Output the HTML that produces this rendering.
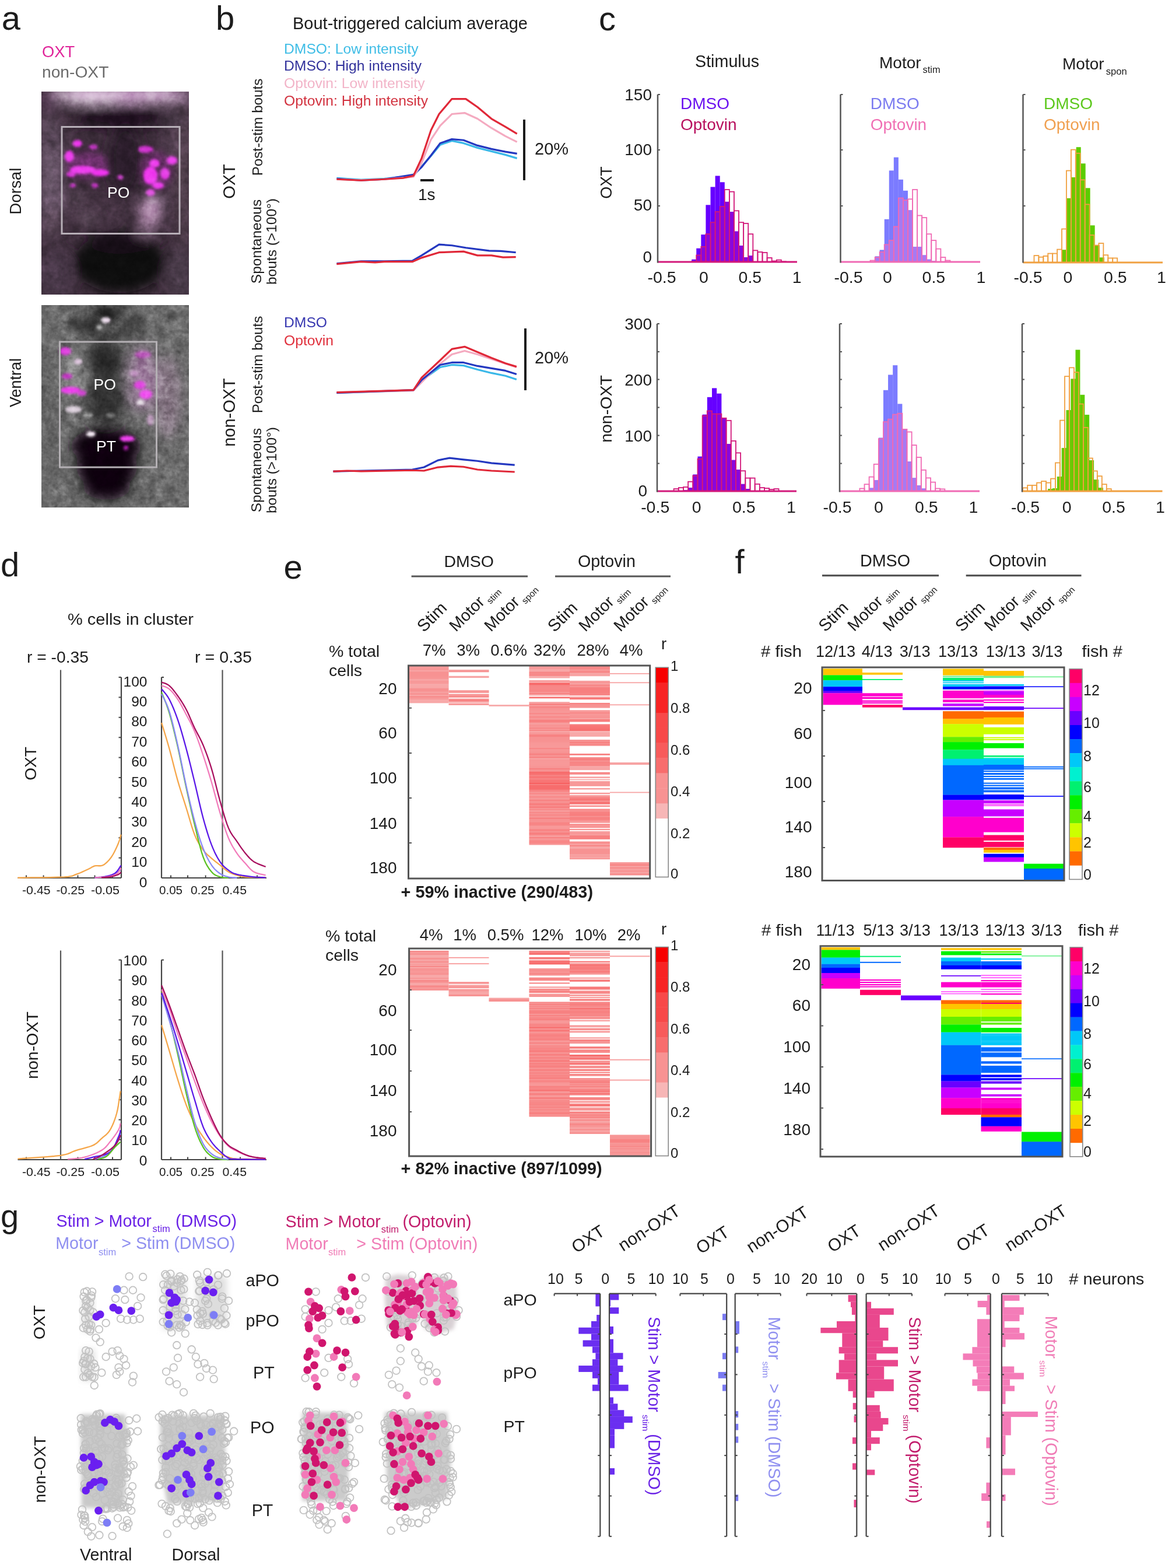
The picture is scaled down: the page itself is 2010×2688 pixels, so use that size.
<!DOCTYPE html>
<html><head><meta charset="utf-8"><title>Figure</title>
<style>
html,body{margin:0;padding:0;background:#fff;}
body{width:2010px;height:2688px;overflow:hidden;}
svg{display:block;position:absolute;left:0;top:0;}
svg{font-family:"Liberation Sans",Arial,Helvetica,sans-serif;fill:#1c1c1c;}
</style></head><body>
<svg width="2010" height="2688" viewBox="0 0 2010 2688">
<rect width="2010" height="2688" fill="#fff"/>
<g>
<defs><filter id="bl3" x="-20%" y="-20%" width="140%" height="140%"><feGaussianBlur stdDeviation="3"/></filter><filter id="bl2" x="-30%" y="-30%" width="160%" height="160%"><feGaussianBlur stdDeviation="2"/></filter><filter id="bl6" x="-30%" y="-30%" width="160%" height="160%"><feGaussianBlur stdDeviation="6"/></filter><filter id="bl10" x="-50%" y="-50%" width="200%" height="200%"><feGaussianBlur stdDeviation="10"/></filter><filter id="noiseA" x="0" y="0" width="100%" height="100%" color-interpolation-filters="sRGB"><feTurbulence type="fractalNoise" baseFrequency="0.18" numOctaves="2" seed="3"/><feColorMatrix type="matrix" values="0.33 0.33 0.33 0 0  0.33 0.33 0.33 0 0  0.33 0.33 0.33 0 0  0 0 0 0 1"/></filter><filter id="mottle" x="0" y="0" width="100%" height="100%" color-interpolation-filters="sRGB"><feTurbulence type="fractalNoise" baseFrequency="0.06" numOctaves="3" seed="8"/><feColorMatrix type="matrix" values="0.33 0.33 0.33 0 0  0.33 0.33 0.33 0 0  0.33 0.33 0.33 0 0  0 0 0 0 1"/></filter><clipPath id="clipA1"><rect x="71" y="157" width="253" height="348"/></clipPath><clipPath id="clipA2"><rect x="71" y="523" width="253" height="347"/></clipPath></defs>
<text x="2.7" y="50.8" font-size="58">a</text>
<text x="72" y="98" font-size="27.3" fill="#e0259a">OXT</text>
<text x="72" y="133" font-size="28.2" fill="#6b6b6b">non-OXT</text>
<text x="35.9" y="327.7" font-size="27.8" text-anchor="middle" transform="rotate(-90 35.9 327.7)">Dorsal</text>
<text x="35.9" y="656" font-size="27" text-anchor="middle" transform="rotate(-90 35.9 656)">Ventral</text>
<g clip-path="url(#clipA1)">
<rect x="71" y="157" width="253" height="348" fill="#3e2e3c" />
<g filter="url(#bl10)">
<ellipse cx="88" cy="300" rx="22" ry="110" fill="#6a566a"/>
<ellipse cx="315" cy="300" rx="14" ry="130" fill="#54424f"/>
<ellipse cx="205" cy="163" rx="125" ry="12" fill="#e2b4e2"/>
<ellipse cx="155" cy="163" rx="55" ry="13" fill="#ffe4ff"/>
<ellipse cx="272" cy="163" rx="40" ry="11" fill="#f4cef4"/>
<ellipse cx="80" cy="172" rx="15" ry="18" fill="#5a3e58"/>
<ellipse cx="205" cy="202" rx="80" ry="18" fill="#1a101a"/>
<ellipse cx="110" cy="205" rx="25" ry="12" fill="#3a2a38"/>
<ellipse cx="300" cy="205" rx="22" ry="12" fill="#4a3a48"/>
<ellipse cx="85" cy="240" rx="12" ry="10" fill="#2a1e2a"/>
<ellipse cx="215" cy="275" rx="30" ry="60" fill="#2a1f29"/>
<ellipse cx="160" cy="365" rx="50" ry="22" fill="#463644"/>
<ellipse cx="150" cy="375" rx="12" ry="8" fill="#6a5868"/>
<ellipse cx="205" cy="450" rx="78" ry="52" fill="#0e080e"/>
<ellipse cx="205" cy="415" rx="55" ry="20" fill="#150c15"/>
<ellipse cx="95" cy="470" rx="30" ry="45" fill="#4a3848"/>
<ellipse cx="310" cy="470" rx="25" ry="45" fill="#4a3a4a"/>
<ellipse cx="258" cy="362" rx="20" ry="26" fill="#b890b4"/>
<ellipse cx="250" cy="395" rx="16" ry="12" fill="#7a6078"/>
<ellipse cx="268" cy="345" rx="10" ry="10" fill="#c8a8c8"/>
<ellipse cx="88" cy="380" rx="14" ry="25" fill="#5e4c5c"/>
<ellipse cx="300" cy="250" rx="14" ry="25" fill="#5e4a5c"/>
<ellipse cx="130" cy="340" rx="12" ry="12" fill="#5a4858"/>
</g>
<g filter="url(#bl6)" opacity="0.45">
<ellipse cx="150" cy="283" rx="36" ry="24" fill="#a030a0"/>
<ellipse cx="268" cy="292" rx="28" ry="32" fill="#a030a0"/>
</g>
<g filter="url(#bl2)">
<ellipse cx="133" cy="246" rx="8" ry="6" fill="#f238f2"/>
<ellipse cx="119" cy="268" rx="8" ry="10" fill="#f040f0"/>
<ellipse cx="160" cy="252" rx="8" ry="4" fill="#c030c0"/>
<ellipse cx="142" cy="291" rx="22" ry="7" fill="#f040f0"/>
<ellipse cx="172" cy="296" rx="15" ry="6" fill="#f030f0"/>
<ellipse cx="122" cy="299" rx="8" ry="5" fill="#d838d8"/>
<ellipse cx="206" cy="304" rx="5" ry="4" fill="#d040d0"/>
<ellipse cx="125" cy="318" rx="5" ry="3" fill="#d030d0"/>
<ellipse cx="163" cy="318" rx="6" ry="4" fill="#c030c0"/>
<ellipse cx="250" cy="256" rx="13" ry="6" fill="#d030d0"/>
<ellipse cx="295" cy="275" rx="9" ry="7" fill="#f040f0"/>
<ellipse cx="265" cy="280" rx="9" ry="7" fill="#f040f0"/>
<ellipse cx="258" cy="301" rx="12" ry="15" fill="#f038f0"/>
<ellipse cx="283" cy="298" rx="8" ry="10" fill="#e840e8"/>
<ellipse cx="271" cy="318" rx="10" ry="6" fill="#f040f0"/>
<ellipse cx="258" cy="330" rx="8" ry="6" fill="#e050e0"/>
</g>
<rect x="71" y="157" width="253" height="348" filter="url(#mottle)" opacity="0.45" style="mix-blend-mode:overlay"/>
<rect x="71" y="157" width="253" height="348" filter="url(#noiseA)" opacity="0.22" style="mix-blend-mode:overlay"/>
</g>
<rect x="106" y="217.5" width="202" height="183" fill="none" stroke="#b8b0b8" stroke-width="3" />
<text x="184" y="339" font-size="26.5" fill="#ffffff">PO</text>
<g clip-path="url(#clipA2)">
<rect x="71" y="523" width="253" height="347" fill="#6c6c6c" />
<g filter="url(#bl10)">
<ellipse cx="288" cy="680" rx="22" ry="70" fill="#8a7a88"/>
<ellipse cx="85" cy="700" rx="14" ry="120" fill="#626262"/>
<ellipse cx="183" cy="536" rx="24" ry="14" fill="#0c0c0c"/>
<ellipse cx="145" cy="556" rx="28" ry="14" fill="#333333"/>
<ellipse cx="228" cy="556" rx="24" ry="14" fill="#383838"/>
<ellipse cx="185" cy="575" rx="40" ry="10" fill="#404040"/>
<ellipse cx="180" cy="620" rx="32" ry="35" fill="#2c2c2c"/>
<ellipse cx="180" cy="690" rx="35" ry="40" fill="#303030"/>
<ellipse cx="182" cy="765" rx="60" ry="32" fill="#0a060a"/>
<ellipse cx="183" cy="800" rx="52" ry="40" fill="#0a060a"/>
<ellipse cx="183" cy="835" rx="40" ry="22" fill="#0a060a"/>
<ellipse cx="125" cy="640" rx="20" ry="40" fill="#8a8a8a"/>
<ellipse cx="245" cy="650" rx="22" ry="55" fill="#a080a0"/>
</g>
<g filter="url(#bl2)">
<ellipse cx="182" cy="549" rx="8" ry="5" fill="#f0e0f0"/>
<ellipse cx="170" cy="561" rx="5" ry="4" fill="#b0b0b0"/>
<ellipse cx="112" cy="602" rx="10" ry="7" fill="#e040e0"/>
<ellipse cx="134" cy="620" rx="7" ry="5" fill="#e0c8e0"/>
<ellipse cx="115" cy="645" rx="9" ry="5" fill="#c030c0"/>
<ellipse cx="121" cy="669" rx="17" ry="6" fill="#f040f0"/>
<ellipse cx="140" cy="674" rx="8" ry="5" fill="#d040d0"/>
<ellipse cx="245" cy="608" rx="14" ry="6" fill="#c060c0"/>
<ellipse cx="240" cy="660" rx="10" ry="7" fill="#e040e0"/>
<ellipse cx="250" cy="676" rx="11" ry="8" fill="#f050f0"/>
<ellipse cx="241" cy="690" rx="7" ry="5" fill="#e8e0e8"/>
<ellipse cx="126" cy="702" rx="14" ry="6" fill="#dcd0dc"/>
<ellipse cx="156" cy="744" rx="8" ry="5" fill="#f8f0f8"/>
<ellipse cx="218" cy="752" rx="13" ry="5" fill="#f040f0"/>
<ellipse cx="216" cy="768" rx="4" ry="4" fill="#c020c0"/>
<ellipse cx="258" cy="720" rx="6" ry="10" fill="#c0a0c0"/>
<ellipse cx="150" cy="712" rx="9" ry="4" fill="#a0a0a0"/>
<ellipse cx="190" cy="712" rx="8" ry="4" fill="#8a8a8a"/>
<ellipse cx="230" cy="640" rx="8" ry="5" fill="#c090c0"/>
</g>
<rect x="71" y="523" width="253" height="347" filter="url(#mottle)" opacity="0.55" style="mix-blend-mode:overlay"/>
<rect x="71" y="523" width="253" height="347" filter="url(#noiseA)" opacity="0.35" style="mix-blend-mode:overlay"/>
</g>
<rect x="102.5" y="586" width="166" height="215" fill="none" stroke="#b4b0b4" stroke-width="3" />
<text x="160.5" y="668" font-size="26.5" fill="#ffffff">PO</text>
<text x="165" y="774" font-size="26.5" fill="#ffffff">PT</text>
</g>
<g>
<text x="370" y="51.4" font-size="58">b</text>
<text x="502" y="50" font-size="29">Bout-triggered calcium average</text>
<text x="487" y="92" font-size="24.7" fill="#3fbde6">DMSO: Low intensity</text>
<text x="487" y="121" font-size="24.7" fill="#33339c">DMSO: High intensity</text>
<text x="487" y="151" font-size="24.7" fill="#f2b4c8">Optovin: Low intensity</text>
<text x="487" y="181" font-size="24.7" fill="#d2323f">Optovin: High intensity</text>
<text x="402.5" y="311" font-size="29" text-anchor="middle" transform="rotate(-90 402.5 311)">OXT</text>
<text x="450" y="218" font-size="24.2" text-anchor="middle" transform="rotate(-90 450 218)">Post-stim bouts</text>
<text x="448" y="414" font-size="24.5" text-anchor="middle" transform="rotate(-90 448 414)">Spontaneous</text>
<text x="474" y="414" font-size="24.5" text-anchor="middle" transform="rotate(-90 474 414)">bouts (&gt;100°)</text>
<text x="402.5" y="707" font-size="29" text-anchor="middle" transform="rotate(-90 402.5 707)">non-OXT</text>
<text x="450" y="625" font-size="24.2" text-anchor="middle" transform="rotate(-90 450 625)">Post-stim bouts</text>
<text x="448" y="806" font-size="24.5" text-anchor="middle" transform="rotate(-90 448 806)">Spontaneous</text>
<text x="474" y="806" font-size="24.5" text-anchor="middle" transform="rotate(-90 474 806)">bouts (&gt;100°)</text>
<text x="487" y="561" font-size="24.7" fill="#3838b0">DMSO</text>
<text x="487" y="592" font-size="24.7" fill="#e0303c">Optovin</text>
<polyline points="577.43,305.27 619.33,308.06 659.23,306.46 709.11,301.28 739.04,267.36 755,248.2 774.96,241.42 794.91,245.41 818.85,253.39 842.79,259.38 866.74,265.36 886.69,271.35" fill="none" stroke="#3ab8e8" stroke-width="3.2" stroke-linejoin="round" />
<polyline points="577.43,306.46 619.33,309.26 659.23,307.26 709.11,299.28 723.08,286.51 739.04,266.56 755,245.41 774.96,238.63 794.91,240.22 818.85,249.4 842.79,255.39 866.74,260.18 886.69,263.37" fill="none" stroke="#2438c0" stroke-width="3.2" stroke-linejoin="round" />
<polyline points="577.43,307.26 619.33,308.86 659.23,307.26 709.11,303.27 723.08,279.33 739.04,239.43 755,215.48 774.96,195.53 796.9,193.54 818.85,203.51 842.79,219.47 866.74,233.44 886.69,243.42" fill="none" stroke="#f4aac0" stroke-width="3.2" stroke-linejoin="round" />
<polyline points="577.43,307.26 619.33,309.26 659.23,307.26 691.16,305.27 709.11,301.28 723.08,271.35 739.04,223.46 753.01,195.53 774.96,169.59 798.9,169.59 818.85,183.56 842.79,203.51 866.74,217.48 886.69,229.45" fill="none" stroke="#e02838" stroke-width="3.2" stroke-linejoin="round" />
<polyline points="577.43,451.88 619.33,447.89 659.23,447.89 707.12,447.09 723.08,437.91 753.01,419.15 774.96,420.75 798.9,424.74 838.8,429.93 858.75,430.33 884.69,432.72" fill="none" stroke="#2438c0" stroke-width="3.2" stroke-linejoin="round" />
<polyline points="577.43,452.67 619.33,448.68 643.27,449.88 659.23,448.68 707.12,448.68 723.08,441.9 753.01,432.72 794.91,431.13 818.85,437.91 842.79,437.91 862.75,441.1 884.69,440.7" fill="none" stroke="#e02838" stroke-width="3.2" stroke-linejoin="round" />
<polyline points="577.43,673.34 709.11,668.95 723.08,652.19 755,629.45 774.96,625.46 794.91,626.66 818.85,633.44 842.79,639.43 866.74,644.21 885.89,650.6" fill="none" stroke="#3ab8e8" stroke-width="3.2" stroke-linejoin="round" />
<polyline points="577.43,672.94 709.11,669.35 723.08,655.39 755,623.46 774.96,607.5 796.9,601.52 818.85,607.5 842.79,615.48 866.74,623.46 885.89,629.45" fill="none" stroke="#f4aac0" stroke-width="3.2" stroke-linejoin="round" />
<polyline points="577.43,673.34 709.11,668.56 723.08,651.4 755,625.46 774.96,621.47 794.91,621.47 818.85,627.45 842.79,631.44 866.74,635.43 885.89,641.42" fill="none" stroke="#2438c0" stroke-width="3.2" stroke-linejoin="round" />
<polyline points="577.43,672.55 709.11,668.56 723.08,647.41 755,617.48 774.96,598.32 796.9,594.33 818.85,603.51 842.79,613.49 866.74,622.67 885.89,628.65" fill="none" stroke="#e02838" stroke-width="3.2" stroke-linejoin="round" />
<polyline points="571.44,808.22 619.33,807.02 707.12,805.03 727.07,801.04 751.01,789.07 770.97,785.08 794.91,787.87 818.85,790.26 842.79,793.85 882.7,797.05" fill="none" stroke="#2438c0" stroke-width="3.2" stroke-linejoin="round" />
<polyline points="571.44,808.22 595.39,807.02 619.33,807.82 707.12,806.23 727.07,807.02 751.01,801.04 772.96,799.04 794.91,800.24 818.85,805.03 842.79,807.02 882.7,809.02" fill="none" stroke="#e02838" stroke-width="3.2" stroke-linejoin="round" />
<line x1="899" y1="205" x2="899" y2="309" stroke="#1c1c1c" stroke-width="4" />
<text x="917" y="265" font-size="29">20%</text>
<line x1="721" y1="309" x2="744" y2="309" stroke="#1c1c1c" stroke-width="4" />
<text x="717" y="343" font-size="28">1s</text>
<line x1="901" y1="563" x2="901" y2="669" stroke="#1c1c1c" stroke-width="4" />
<text x="917" y="623" font-size="29">20%</text>
</g>
<g>
<text x="1027" y="52" font-size="58">c</text>
<text x="1192" y="115" font-size="28.7">Stimulus</text>
<text x="1508" y="117" font-size="28">Motor</text>
<text x="1582.5" y="125" font-size="16.4">stim</text>
<text x="1822" y="119" font-size="28">Motor</text>
<text x="1896.7" y="128" font-size="16.6">spon</text>
<text x="1048.5" y="313" font-size="27" text-anchor="middle" transform="rotate(-90 1048.5 313)">OXT</text>
<text x="1048.5" y="701" font-size="28.5" text-anchor="middle" transform="rotate(-90 1048.5 701)">non-OXT</text>
<text x="1167" y="187" font-size="28" fill="#6a10f0">DMSO</text>
<text x="1167" y="223" font-size="28" fill="#b8105e">Optovin</text>
<text x="1492.7" y="187" font-size="28" fill="#7b7bf0">DMSO</text>
<text x="1492.7" y="223" font-size="28" fill="#f070b4">Optovin</text>
<text x="1790" y="187" font-size="28" fill="#5cc81c">DMSO</text>
<text x="1790" y="223" font-size="28" fill="#f0a050">Optovin</text>
<rect x="1186.16" y="444.73" width="8.09" height="4.27" fill="#6600ff" />
<rect x="1194.25" y="425.69" width="8.09" height="23.31" fill="#6600ff" />
<rect x="1202.34" y="402.11" width="8.09" height="46.89" fill="#6600ff" />
<rect x="1210.43" y="351.32" width="8.09" height="97.68" fill="#6600ff" />
<rect x="1218.52" y="320.48" width="8.09" height="128.52" fill="#6600ff" />
<rect x="1226.61" y="301.44" width="8.09" height="147.56" fill="#6600ff" />
<rect x="1234.7" y="312.32" width="8.09" height="136.68" fill="#6600ff" />
<rect x="1242.79" y="345.88" width="8.09" height="103.12" fill="#6600ff" />
<rect x="1250.88" y="363.11" width="8.09" height="85.89" fill="#6600ff" />
<rect x="1258.97" y="396.67" width="8.09" height="52.33" fill="#6600ff" />
<rect x="1267.06" y="421.15" width="8.09" height="27.85" fill="#6600ff" />
<rect x="1275.15" y="441.11" width="8.09" height="7.89" fill="#6600ff" />
<rect x="1283.24" y="438.39" width="8.09" height="10.61" fill="#6600ff" />
<rect x="1186.16" y="448.36" width="8.09" height="0.64" fill="#8a06dc" />
<rect x="1194.25" y="437.48" width="8.09" height="11.52" fill="#8a06dc" />
<rect x="1202.34" y="422.97" width="8.09" height="26.03" fill="#8a06dc" />
<rect x="1210.43" y="401.2" width="8.09" height="47.8" fill="#8a06dc" />
<rect x="1218.52" y="381.25" width="8.09" height="67.75" fill="#8a06dc" />
<rect x="1226.61" y="363.11" width="8.09" height="85.89" fill="#8a06dc" />
<rect x="1234.7" y="354.04" width="8.09" height="94.96" fill="#8a06dc" />
<rect x="1242.79" y="345.88" width="8.09" height="103.12" fill="#8a06dc" />
<rect x="1250.88" y="363.11" width="8.09" height="85.89" fill="#8a06dc" />
<rect x="1258.97" y="396.67" width="8.09" height="52.33" fill="#8a06dc" />
<rect x="1267.06" y="421.15" width="8.09" height="27.85" fill="#8a06dc" />
<rect x="1275.15" y="441.11" width="8.09" height="7.89" fill="#8a06dc" />
<rect x="1283.24" y="438.39" width="8.09" height="10.61" fill="#8a06dc" />
<rect x="1186.16" y="448.36" width="8.09" height="0.64" fill="none" stroke="#d2187a" stroke-width="1.8" />
<rect x="1194.25" y="437.48" width="8.09" height="11.52" fill="none" stroke="#d2187a" stroke-width="1.8" />
<rect x="1202.34" y="422.97" width="8.09" height="26.03" fill="none" stroke="#d2187a" stroke-width="1.8" />
<rect x="1210.43" y="401.2" width="8.09" height="47.8" fill="none" stroke="#d2187a" stroke-width="1.8" />
<rect x="1218.52" y="381.25" width="8.09" height="67.75" fill="none" stroke="#d2187a" stroke-width="1.8" />
<rect x="1226.61" y="363.11" width="8.09" height="85.89" fill="none" stroke="#d2187a" stroke-width="1.8" />
<rect x="1234.7" y="354.04" width="8.09" height="94.96" fill="none" stroke="#d2187a" stroke-width="1.8" />
<rect x="1242.79" y="325.02" width="8.09" height="123.98" fill="none" stroke="#d2187a" stroke-width="1.8" />
<rect x="1250.88" y="328.65" width="8.09" height="120.35" fill="none" stroke="#d2187a" stroke-width="1.8" />
<rect x="1258.97" y="361.3" width="8.09" height="87.7" fill="none" stroke="#d2187a" stroke-width="1.8" />
<rect x="1267.06" y="381.25" width="8.09" height="67.75" fill="none" stroke="#d2187a" stroke-width="1.8" />
<rect x="1275.15" y="383.06" width="8.09" height="65.94" fill="none" stroke="#d2187a" stroke-width="1.8" />
<rect x="1283.24" y="401.2" width="8.09" height="47.8" fill="none" stroke="#d2187a" stroke-width="1.8" />
<rect x="1291.33" y="429.32" width="8.09" height="19.68" fill="none" stroke="#d2187a" stroke-width="1.8" />
<rect x="1299.42" y="432.04" width="8.09" height="16.96" fill="none" stroke="#d2187a" stroke-width="1.8" />
<rect x="1307.51" y="432.94" width="8.09" height="16.06" fill="none" stroke="#d2187a" stroke-width="1.8" />
<rect x="1315.6" y="442.01" width="8.09" height="6.99" fill="none" stroke="#d2187a" stroke-width="1.8" />
<rect x="1323.69" y="447.46" width="8.09" height="1.54" fill="none" stroke="#d2187a" stroke-width="1.8" />
<rect x="1331.78" y="445.64" width="8.09" height="3.36" fill="none" stroke="#d2187a" stroke-width="1.8" />
<rect x="1339.87" y="448.36" width="8.09" height="0.64" fill="none" stroke="#d2187a" stroke-width="1.8" />
<line x1="1127.5" y1="449" x2="1367" y2="449" stroke="#d2187a" stroke-width="3" />
<rect x="1492.56" y="448.36" width="8.05" height="0.64" fill="#7b7bff" />
<rect x="1500.61" y="439.29" width="8.05" height="9.71" fill="#7b7bff" />
<rect x="1508.66" y="428.41" width="8.05" height="20.59" fill="#7b7bff" />
<rect x="1516.72" y="375.81" width="8.05" height="73.19" fill="#7b7bff" />
<rect x="1524.77" y="292.37" width="8.05" height="156.63" fill="#7b7bff" />
<rect x="1532.82" y="269.69" width="8.05" height="179.31" fill="#7b7bff" />
<rect x="1540.88" y="307.79" width="8.05" height="141.21" fill="#7b7bff" />
<rect x="1548.93" y="326.83" width="8.05" height="122.17" fill="#7b7bff" />
<rect x="1556.99" y="360.39" width="8.05" height="88.61" fill="#7b7bff" />
<rect x="1565.04" y="422.97" width="8.05" height="26.03" fill="#7b7bff" />
<rect x="1573.09" y="422.97" width="8.05" height="26.03" fill="#7b7bff" />
<rect x="1581.15" y="437.48" width="8.05" height="11.52" fill="#7b7bff" />
<rect x="1589.2" y="444.73" width="8.05" height="4.27" fill="#7b7bff" />
<rect x="1597.25" y="447.46" width="8.05" height="1.54" fill="#7b7bff" />
<rect x="1492.56" y="448.36" width="8.05" height="0.64" fill="#a67af2" />
<rect x="1500.61" y="441.11" width="8.05" height="7.89" fill="#a67af2" />
<rect x="1508.66" y="432.04" width="8.05" height="16.96" fill="#a67af2" />
<rect x="1516.72" y="419.34" width="8.05" height="29.66" fill="#a67af2" />
<rect x="1524.77" y="412.08" width="8.05" height="36.92" fill="#a67af2" />
<rect x="1532.82" y="388.5" width="8.05" height="60.5" fill="#a67af2" />
<rect x="1540.88" y="339.53" width="8.05" height="109.47" fill="#a67af2" />
<rect x="1548.93" y="343.16" width="8.05" height="105.84" fill="#a67af2" />
<rect x="1556.99" y="360.39" width="8.05" height="88.61" fill="#a67af2" />
<rect x="1565.04" y="422.97" width="8.05" height="26.03" fill="#a67af2" />
<rect x="1573.09" y="422.97" width="8.05" height="26.03" fill="#a67af2" />
<rect x="1581.15" y="437.48" width="8.05" height="11.52" fill="#a67af2" />
<rect x="1589.2" y="444.73" width="8.05" height="4.27" fill="#a67af2" />
<rect x="1597.25" y="447.46" width="8.05" height="1.54" fill="#a67af2" />
<rect x="1492.56" y="446.55" width="8.05" height="2.45" fill="none" stroke="#f06ab4" stroke-width="1.8" />
<rect x="1500.61" y="441.11" width="8.05" height="7.89" fill="none" stroke="#f06ab4" stroke-width="1.8" />
<rect x="1508.66" y="432.04" width="8.05" height="16.96" fill="none" stroke="#f06ab4" stroke-width="1.8" />
<rect x="1516.72" y="419.34" width="8.05" height="29.66" fill="none" stroke="#f06ab4" stroke-width="1.8" />
<rect x="1524.77" y="412.08" width="8.05" height="36.92" fill="none" stroke="#f06ab4" stroke-width="1.8" />
<rect x="1532.82" y="388.5" width="8.05" height="60.5" fill="none" stroke="#f06ab4" stroke-width="1.8" />
<rect x="1540.88" y="339.53" width="8.05" height="109.47" fill="none" stroke="#f06ab4" stroke-width="1.8" />
<rect x="1548.93" y="343.16" width="8.05" height="105.84" fill="none" stroke="#f06ab4" stroke-width="1.8" />
<rect x="1556.99" y="341.34" width="8.05" height="107.66" fill="none" stroke="#f06ab4" stroke-width="1.8" />
<rect x="1565.04" y="325.02" width="8.05" height="123.98" fill="none" stroke="#f06ab4" stroke-width="1.8" />
<rect x="1573.09" y="369.46" width="8.05" height="79.54" fill="none" stroke="#f06ab4" stroke-width="1.8" />
<rect x="1581.15" y="373.09" width="8.05" height="75.91" fill="none" stroke="#f06ab4" stroke-width="1.8" />
<rect x="1589.2" y="401.2" width="8.05" height="47.8" fill="none" stroke="#f06ab4" stroke-width="1.8" />
<rect x="1597.25" y="412.08" width="8.05" height="36.92" fill="none" stroke="#f06ab4" stroke-width="1.8" />
<rect x="1605.31" y="426.6" width="8.05" height="22.4" fill="none" stroke="#f06ab4" stroke-width="1.8" />
<rect x="1613.36" y="441.11" width="8.05" height="7.89" fill="none" stroke="#f06ab4" stroke-width="1.8" />
<rect x="1621.41" y="446.55" width="8.05" height="2.45" fill="none" stroke="#f06ab4" stroke-width="1.8" />
<line x1="1441.5" y1="449" x2="1681" y2="449" stroke="#f06ab4" stroke-width="3" />
<rect x="1813.81" y="449.49" width="7.98" height="0.51" fill="#5ccc00" />
<rect x="1821.79" y="428.44" width="7.98" height="21.56" fill="#5ccc00" />
<rect x="1829.77" y="339.89" width="7.98" height="110.11" fill="#5ccc00" />
<rect x="1837.75" y="303.95" width="7.98" height="146.05" fill="#5ccc00" />
<rect x="1845.72" y="252.22" width="7.98" height="197.78" fill="#5ccc00" />
<rect x="1853.7" y="280.28" width="7.98" height="169.72" fill="#5ccc00" />
<rect x="1861.68" y="322.36" width="7.98" height="127.64" fill="#5ccc00" />
<rect x="1869.66" y="386.36" width="7.98" height="63.64" fill="#5ccc00" />
<rect x="1877.64" y="420.55" width="7.98" height="29.45" fill="#5ccc00" />
<rect x="1885.61" y="441.6" width="7.98" height="8.4" fill="#5ccc00" />
<rect x="1813.81" y="449.49" width="7.22" height="0.51" fill="#6cc800" />
<rect x="1821.03" y="449.49" width="0.75" height="0.51" fill="#6cc800" />
<rect x="1821.79" y="428.44" width="7.17" height="21.56" fill="#6cc800" />
<rect x="1828.96" y="428.44" width="0.81" height="21.56" fill="#6cc800" />
<rect x="1829.77" y="339.89" width="7.12" height="110.11" fill="#6cc800" />
<rect x="1836.89" y="339.89" width="0.86" height="110.11" fill="#6cc800" />
<rect x="1837.75" y="303.95" width="7.07" height="146.05" fill="#6cc800" />
<rect x="1844.81" y="303.95" width="0.91" height="146.05" fill="#6cc800" />
<rect x="1845.72" y="262.74" width="7.01" height="187.26" fill="#6cc800" />
<rect x="1852.74" y="308.33" width="0.96" height="141.67" fill="#6cc800" />
<rect x="1853.7" y="308.33" width="6.96" height="141.67" fill="#6cc800" />
<rect x="1860.66" y="350.42" width="1.02" height="99.58" fill="#6cc800" />
<rect x="1861.68" y="350.42" width="6.91" height="99.58" fill="#6cc800" />
<rect x="1868.59" y="403.02" width="1.07" height="46.98" fill="#6cc800" />
<rect x="1869.66" y="403.02" width="6.86" height="46.98" fill="#6cc800" />
<rect x="1876.51" y="420.55" width="1.12" height="29.45" fill="#6cc800" />
<rect x="1877.64" y="420.55" width="6.8" height="29.45" fill="#6cc800" />
<rect x="1884.44" y="420.55" width="1.17" height="29.45" fill="#6cc800" />
<rect x="1885.61" y="441.6" width="6.75" height="8.4" fill="#6cc800" />
<rect x="1892.37" y="441.6" width="1.23" height="8.4" fill="#6cc800" />
<rect x="1773.48" y="438.09" width="7.93" height="11.91" fill="none" stroke="#f0a040" stroke-width="1.8" />
<rect x="1781.41" y="440.72" width="7.93" height="9.28" fill="none" stroke="#f0a040" stroke-width="1.8" />
<rect x="1789.33" y="438.97" width="7.93" height="11.03" fill="none" stroke="#f0a040" stroke-width="1.8" />
<rect x="1797.26" y="434.58" width="7.93" height="15.42" fill="none" stroke="#f0a040" stroke-width="1.8" />
<rect x="1805.18" y="434.58" width="7.93" height="15.42" fill="none" stroke="#f0a040" stroke-width="1.8" />
<rect x="1813.11" y="427.57" width="7.93" height="22.43" fill="none" stroke="#f0a040" stroke-width="1.8" />
<rect x="1821.03" y="392.5" width="7.93" height="57.5" fill="none" stroke="#f0a040" stroke-width="1.8" />
<rect x="1828.96" y="292.55" width="7.93" height="157.45" fill="none" stroke="#f0a040" stroke-width="1.8" />
<rect x="1836.89" y="256.61" width="7.93" height="193.39" fill="none" stroke="#f0a040" stroke-width="1.8" />
<rect x="1844.81" y="262.74" width="7.93" height="187.26" fill="none" stroke="#f0a040" stroke-width="1.8" />
<rect x="1852.74" y="308.33" width="7.93" height="141.67" fill="none" stroke="#f0a040" stroke-width="1.8" />
<rect x="1860.66" y="350.42" width="7.93" height="99.58" fill="none" stroke="#f0a040" stroke-width="1.8" />
<rect x="1868.59" y="403.02" width="7.93" height="46.98" fill="none" stroke="#f0a040" stroke-width="1.8" />
<rect x="1876.51" y="420.55" width="7.93" height="29.45" fill="none" stroke="#f0a040" stroke-width="1.8" />
<rect x="1884.44" y="417.05" width="7.93" height="32.95" fill="none" stroke="#f0a040" stroke-width="1.8" />
<rect x="1892.37" y="437.21" width="7.93" height="12.79" fill="none" stroke="#f0a040" stroke-width="1.8" />
<rect x="1900.29" y="442.47" width="7.93" height="7.53" fill="none" stroke="#f0a040" stroke-width="1.8" />
<rect x="1908.22" y="442.47" width="7.93" height="7.53" fill="none" stroke="#f0a040" stroke-width="1.8" />
<line x1="1754.5" y1="450" x2="1994" y2="450" stroke="#f0a040" stroke-width="3" />
<rect x="1163.76" y="841.13" width="8.18" height="0.87" fill="#6600ff" />
<rect x="1171.94" y="840.1" width="8.18" height="1.9" fill="#6600ff" />
<rect x="1180.12" y="835.99" width="8.18" height="6.01" fill="#6600ff" />
<rect x="1188.3" y="813.38" width="8.18" height="28.62" fill="#6600ff" />
<rect x="1196.49" y="782.55" width="8.18" height="59.45" fill="#6600ff" />
<rect x="1204.67" y="710.61" width="8.18" height="131.39" fill="#6600ff" />
<rect x="1212.85" y="680.8" width="8.18" height="161.2" fill="#6600ff" />
<rect x="1221.03" y="665.39" width="8.18" height="176.61" fill="#6600ff" />
<rect x="1229.21" y="674.64" width="8.18" height="167.36" fill="#6600ff" />
<rect x="1237.39" y="716.77" width="8.18" height="125.23" fill="#6600ff" />
<rect x="1245.57" y="760.97" width="8.18" height="81.03" fill="#6600ff" />
<rect x="1253.75" y="788.72" width="8.18" height="53.28" fill="#6600ff" />
<rect x="1261.93" y="805.16" width="8.18" height="36.84" fill="#6600ff" />
<rect x="1270.11" y="829.83" width="8.18" height="12.17" fill="#6600ff" />
<rect x="1278.29" y="838.05" width="8.18" height="3.95" fill="#6600ff" />
<rect x="1286.47" y="841.13" width="8.18" height="0.87" fill="#6600ff" />
<rect x="1163.76" y="841.13" width="8.18" height="0.87" fill="#8a06dc" />
<rect x="1171.94" y="840.1" width="8.18" height="1.9" fill="#8a06dc" />
<rect x="1180.12" y="835.99" width="8.18" height="6.01" fill="#8a06dc" />
<rect x="1188.3" y="815.44" width="8.18" height="26.56" fill="#8a06dc" />
<rect x="1196.49" y="786.66" width="8.18" height="55.34" fill="#8a06dc" />
<rect x="1204.67" y="712.66" width="8.18" height="129.34" fill="#8a06dc" />
<rect x="1212.85" y="704.44" width="8.18" height="137.56" fill="#8a06dc" />
<rect x="1221.03" y="709.58" width="8.18" height="132.42" fill="#8a06dc" />
<rect x="1229.21" y="709.58" width="8.18" height="132.42" fill="#8a06dc" />
<rect x="1237.39" y="716.77" width="8.18" height="125.23" fill="#8a06dc" />
<rect x="1245.57" y="760.97" width="8.18" height="81.03" fill="#8a06dc" />
<rect x="1253.75" y="788.72" width="8.18" height="53.28" fill="#8a06dc" />
<rect x="1261.93" y="805.16" width="8.18" height="36.84" fill="#8a06dc" />
<rect x="1270.11" y="829.83" width="8.18" height="12.17" fill="#8a06dc" />
<rect x="1278.29" y="838.05" width="8.18" height="3.95" fill="#8a06dc" />
<rect x="1286.47" y="841.13" width="8.18" height="0.87" fill="#8a06dc" />
<rect x="1155.58" y="838.05" width="8.18" height="3.95" fill="none" stroke="#d2187a" stroke-width="1.8" />
<rect x="1163.76" y="835.99" width="8.18" height="6.01" fill="none" stroke="#d2187a" stroke-width="1.8" />
<rect x="1171.94" y="834.96" width="8.18" height="7.04" fill="none" stroke="#d2187a" stroke-width="1.8" />
<rect x="1180.12" y="825.71" width="8.18" height="16.29" fill="none" stroke="#d2187a" stroke-width="1.8" />
<rect x="1188.3" y="815.44" width="8.18" height="26.56" fill="none" stroke="#d2187a" stroke-width="1.8" />
<rect x="1196.49" y="786.66" width="8.18" height="55.34" fill="none" stroke="#d2187a" stroke-width="1.8" />
<rect x="1204.67" y="712.66" width="8.18" height="129.34" fill="none" stroke="#d2187a" stroke-width="1.8" />
<rect x="1212.85" y="704.44" width="8.18" height="137.56" fill="none" stroke="#d2187a" stroke-width="1.8" />
<rect x="1221.03" y="709.58" width="8.18" height="132.42" fill="none" stroke="#d2187a" stroke-width="1.8" />
<rect x="1229.21" y="709.58" width="8.18" height="132.42" fill="none" stroke="#d2187a" stroke-width="1.8" />
<rect x="1237.39" y="716.77" width="8.18" height="125.23" fill="none" stroke="#d2187a" stroke-width="1.8" />
<rect x="1245.57" y="720.88" width="8.18" height="121.12" fill="none" stroke="#d2187a" stroke-width="1.8" />
<rect x="1253.75" y="755.83" width="8.18" height="86.17" fill="none" stroke="#d2187a" stroke-width="1.8" />
<rect x="1261.93" y="776.38" width="8.18" height="65.62" fill="none" stroke="#d2187a" stroke-width="1.8" />
<rect x="1270.11" y="807.21" width="8.18" height="34.79" fill="none" stroke="#d2187a" stroke-width="1.8" />
<rect x="1278.29" y="819.55" width="8.18" height="22.45" fill="none" stroke="#d2187a" stroke-width="1.8" />
<rect x="1286.47" y="819.55" width="8.18" height="22.45" fill="none" stroke="#d2187a" stroke-width="1.8" />
<rect x="1294.66" y="829.83" width="8.18" height="12.17" fill="none" stroke="#d2187a" stroke-width="1.8" />
<rect x="1302.84" y="835.99" width="8.18" height="6.01" fill="none" stroke="#d2187a" stroke-width="1.8" />
<rect x="1311.02" y="837.02" width="8.18" height="4.98" fill="none" stroke="#d2187a" stroke-width="1.8" />
<rect x="1319.2" y="839.08" width="8.18" height="2.92" fill="none" stroke="#d2187a" stroke-width="1.8" />
<rect x="1327.38" y="838.05" width="8.18" height="3.95" fill="none" stroke="#d2187a" stroke-width="1.8" />
<line x1="1127" y1="842" x2="1366" y2="842" stroke="#d2187a" stroke-width="3" />
<rect x="1482.52" y="841.11" width="8.11" height="0.89" fill="#7b7bff" />
<rect x="1490.63" y="836.57" width="8.11" height="5.43" fill="#7b7bff" />
<rect x="1498.74" y="822.97" width="8.11" height="19.03" fill="#7b7bff" />
<rect x="1506.85" y="750.41" width="8.11" height="91.59" fill="#7b7bff" />
<rect x="1514.96" y="668.79" width="8.11" height="173.21" fill="#7b7bff" />
<rect x="1523.07" y="642.49" width="8.11" height="199.51" fill="#7b7bff" />
<rect x="1531.17" y="626.16" width="8.11" height="215.84" fill="#7b7bff" />
<rect x="1539.28" y="692.37" width="8.11" height="149.63" fill="#7b7bff" />
<rect x="1547.39" y="735.9" width="8.11" height="106.1" fill="#7b7bff" />
<rect x="1555.5" y="791.22" width="8.11" height="50.78" fill="#7b7bff" />
<rect x="1563.61" y="819.34" width="8.11" height="22.66" fill="#7b7bff" />
<rect x="1571.71" y="832.04" width="8.11" height="9.96" fill="#7b7bff" />
<rect x="1579.82" y="837.48" width="8.11" height="4.52" fill="#7b7bff" />
<rect x="1587.93" y="841.11" width="8.11" height="0.89" fill="#7b7bff" />
<rect x="1482.52" y="841.11" width="8.11" height="0.89" fill="#a67af2" />
<rect x="1490.63" y="836.57" width="8.11" height="5.43" fill="#a67af2" />
<rect x="1498.74" y="822.97" width="8.11" height="19.03" fill="#a67af2" />
<rect x="1506.85" y="752.23" width="8.11" height="89.77" fill="#a67af2" />
<rect x="1514.96" y="723.2" width="8.11" height="118.8" fill="#a67af2" />
<rect x="1523.07" y="718.67" width="8.11" height="123.33" fill="#a67af2" />
<rect x="1531.17" y="710.51" width="8.11" height="131.49" fill="#a67af2" />
<rect x="1539.28" y="708.69" width="8.11" height="133.31" fill="#a67af2" />
<rect x="1547.39" y="735.9" width="8.11" height="106.1" fill="#a67af2" />
<rect x="1555.5" y="791.22" width="8.11" height="50.78" fill="#a67af2" />
<rect x="1563.61" y="819.34" width="8.11" height="22.66" fill="#a67af2" />
<rect x="1571.71" y="832.04" width="8.11" height="9.96" fill="#a67af2" />
<rect x="1579.82" y="837.48" width="8.11" height="4.52" fill="#a67af2" />
<rect x="1587.93" y="841.11" width="8.11" height="0.89" fill="#a67af2" />
<rect x="1474.42" y="837.48" width="8.11" height="4.52" fill="none" stroke="#f06ab4" stroke-width="1.8" />
<rect x="1482.52" y="830.22" width="8.11" height="11.78" fill="none" stroke="#f06ab4" stroke-width="1.8" />
<rect x="1490.63" y="817.53" width="8.11" height="24.47" fill="none" stroke="#f06ab4" stroke-width="1.8" />
<rect x="1498.74" y="795.76" width="8.11" height="46.24" fill="none" stroke="#f06ab4" stroke-width="1.8" />
<rect x="1506.85" y="752.23" width="8.11" height="89.77" fill="none" stroke="#f06ab4" stroke-width="1.8" />
<rect x="1514.96" y="723.2" width="8.11" height="118.8" fill="none" stroke="#f06ab4" stroke-width="1.8" />
<rect x="1523.07" y="718.67" width="8.11" height="123.33" fill="none" stroke="#f06ab4" stroke-width="1.8" />
<rect x="1531.17" y="710.51" width="8.11" height="131.49" fill="none" stroke="#f06ab4" stroke-width="1.8" />
<rect x="1539.28" y="708.69" width="8.11" height="133.31" fill="none" stroke="#f06ab4" stroke-width="1.8" />
<rect x="1547.39" y="735.9" width="8.11" height="106.1" fill="none" stroke="#f06ab4" stroke-width="1.8" />
<rect x="1555.5" y="740.44" width="8.11" height="101.56" fill="none" stroke="#f06ab4" stroke-width="1.8" />
<rect x="1563.61" y="763.11" width="8.11" height="78.89" fill="none" stroke="#f06ab4" stroke-width="1.8" />
<rect x="1571.71" y="783.97" width="8.11" height="58.03" fill="none" stroke="#f06ab4" stroke-width="1.8" />
<rect x="1579.82" y="805.74" width="8.11" height="36.26" fill="none" stroke="#f06ab4" stroke-width="1.8" />
<rect x="1587.93" y="819.34" width="8.11" height="22.66" fill="none" stroke="#f06ab4" stroke-width="1.8" />
<rect x="1596.04" y="826.6" width="8.11" height="15.4" fill="none" stroke="#f06ab4" stroke-width="1.8" />
<rect x="1604.15" y="837.48" width="8.11" height="4.52" fill="none" stroke="#f06ab4" stroke-width="1.8" />
<rect x="1612.25" y="838.39" width="8.11" height="3.61" fill="none" stroke="#f06ab4" stroke-width="1.8" />
<line x1="1440" y1="842" x2="1680" y2="842" stroke="#f06ab4" stroke-width="3" />
<rect x="1797.15" y="838.09" width="7.89" height="3.91" fill="#5ccc00" />
<rect x="1805.04" y="837.21" width="7.89" height="4.79" fill="#5ccc00" />
<rect x="1812.93" y="817.05" width="7.89" height="24.95" fill="#5ccc00" />
<rect x="1820.82" y="767.95" width="7.89" height="74.05" fill="#5ccc00" />
<rect x="1828.71" y="703.07" width="7.89" height="138.93" fill="#5ccc00" />
<rect x="1836.61" y="649.59" width="7.89" height="192.41" fill="#5ccc00" />
<rect x="1844.5" y="599.62" width="7.89" height="242.38" fill="#5ccc00" />
<rect x="1852.39" y="676.77" width="7.89" height="165.23" fill="#5ccc00" />
<rect x="1860.28" y="710.96" width="7.89" height="131.04" fill="#5ccc00" />
<rect x="1868.17" y="788.99" width="7.89" height="53.01" fill="#5ccc00" />
<rect x="1876.06" y="822.31" width="7.89" height="19.69" fill="#5ccc00" />
<rect x="1883.95" y="836.34" width="7.89" height="5.66" fill="#5ccc00" />
<rect x="1797.15" y="838.09" width="4.91" height="3.91" fill="#6cc800" />
<rect x="1802.06" y="838.09" width="2.98" height="3.91" fill="#6cc800" />
<rect x="1805.04" y="837.21" width="5" height="4.79" fill="#6cc800" />
<rect x="1810.04" y="837.21" width="2.89" height="4.79" fill="#6cc800" />
<rect x="1812.93" y="817.05" width="5.09" height="24.95" fill="#6cc800" />
<rect x="1818.02" y="817.05" width="2.81" height="24.95" fill="#6cc800" />
<rect x="1820.82" y="767.95" width="5.17" height="74.05" fill="#6cc800" />
<rect x="1826" y="767.95" width="2.72" height="74.05" fill="#6cc800" />
<rect x="1828.71" y="703.07" width="5.26" height="138.93" fill="#6cc800" />
<rect x="1833.98" y="703.07" width="2.63" height="138.93" fill="#6cc800" />
<rect x="1836.61" y="649.59" width="5.35" height="192.41" fill="#6cc800" />
<rect x="1841.95" y="649.59" width="2.54" height="192.41" fill="#6cc800" />
<rect x="1844.5" y="638.19" width="5.44" height="203.81" fill="#6cc800" />
<rect x="1849.93" y="692.55" width="2.45" height="149.45" fill="#6cc800" />
<rect x="1852.39" y="692.55" width="5.52" height="149.45" fill="#6cc800" />
<rect x="1857.91" y="732.88" width="2.37" height="109.12" fill="#6cc800" />
<rect x="1860.28" y="732.88" width="5.61" height="109.12" fill="#6cc800" />
<rect x="1865.89" y="785.48" width="2.28" height="56.52" fill="#6cc800" />
<rect x="1868.17" y="788.99" width="5.7" height="53.01" fill="#6cc800" />
<rect x="1873.87" y="807.4" width="2.19" height="34.6" fill="#6cc800" />
<rect x="1876.06" y="822.31" width="5.79" height="19.69" fill="#6cc800" />
<rect x="1881.84" y="822.31" width="2.1" height="19.69" fill="#6cc800" />
<rect x="1883.95" y="836.34" width="5.87" height="5.66" fill="#6cc800" />
<rect x="1889.82" y="836.34" width="2.02" height="5.66" fill="#6cc800" />
<rect x="1754.19" y="836.34" width="7.98" height="5.66" fill="none" stroke="#f0a040" stroke-width="1.8" />
<rect x="1762.17" y="831.95" width="7.98" height="10.05" fill="none" stroke="#f0a040" stroke-width="1.8" />
<rect x="1770.15" y="831.95" width="7.98" height="10.05" fill="none" stroke="#f0a040" stroke-width="1.8" />
<rect x="1778.13" y="827.57" width="7.98" height="14.43" fill="none" stroke="#f0a040" stroke-width="1.8" />
<rect x="1786.11" y="824.94" width="7.98" height="17.06" fill="none" stroke="#f0a040" stroke-width="1.8" />
<rect x="1794.08" y="827.57" width="7.98" height="14.43" fill="none" stroke="#f0a040" stroke-width="1.8" />
<rect x="1802.06" y="820.55" width="7.98" height="21.45" fill="none" stroke="#f0a040" stroke-width="1.8" />
<rect x="1810.04" y="793.38" width="7.98" height="48.62" fill="none" stroke="#f0a040" stroke-width="1.8" />
<rect x="1818.02" y="720.61" width="7.98" height="121.39" fill="none" stroke="#f0a040" stroke-width="1.8" />
<rect x="1826" y="645.21" width="7.98" height="196.79" fill="none" stroke="#f0a040" stroke-width="1.8" />
<rect x="1833.98" y="630.3" width="7.98" height="211.7" fill="none" stroke="#f0a040" stroke-width="1.8" />
<rect x="1841.95" y="638.19" width="7.98" height="203.81" fill="none" stroke="#f0a040" stroke-width="1.8" />
<rect x="1849.93" y="692.55" width="7.98" height="149.45" fill="none" stroke="#f0a040" stroke-width="1.8" />
<rect x="1857.91" y="732.88" width="7.98" height="109.12" fill="none" stroke="#f0a040" stroke-width="1.8" />
<rect x="1865.89" y="785.48" width="7.98" height="56.52" fill="none" stroke="#f0a040" stroke-width="1.8" />
<rect x="1873.87" y="807.4" width="7.98" height="34.6" fill="none" stroke="#f0a040" stroke-width="1.8" />
<rect x="1881.84" y="816.17" width="7.98" height="25.83" fill="none" stroke="#f0a040" stroke-width="1.8" />
<rect x="1889.82" y="830.2" width="7.98" height="11.8" fill="none" stroke="#f0a040" stroke-width="1.8" />
<rect x="1897.8" y="838.09" width="7.98" height="3.91" fill="none" stroke="#f0a040" stroke-width="1.8" />
<line x1="1753" y1="842" x2="1993.5" y2="842" stroke="#f0a040" stroke-width="3" />
<line x1="1128" y1="162" x2="1128" y2="450.5" stroke="#555" stroke-width="2.5" />
<line x1="1128" y1="162" x2="1132" y2="162" stroke="#555" stroke-width="2" />
<line x1="1128" y1="257" x2="1132" y2="257" stroke="#555" stroke-width="2" />
<line x1="1128" y1="353" x2="1132" y2="353" stroke="#555" stroke-width="2" />
<line x1="1441.5" y1="162" x2="1441.5" y2="450.5" stroke="#555" stroke-width="2.5" />
<line x1="1441.5" y1="162" x2="1445.5" y2="162" stroke="#555" stroke-width="2" />
<line x1="1441.5" y1="257" x2="1445.5" y2="257" stroke="#555" stroke-width="2" />
<line x1="1441.5" y1="353" x2="1445.5" y2="353" stroke="#555" stroke-width="2" />
<line x1="1754.5" y1="162" x2="1754.5" y2="450.5" stroke="#555" stroke-width="2.5" />
<line x1="1754.5" y1="162" x2="1758.5" y2="162" stroke="#555" stroke-width="2" />
<line x1="1754.5" y1="257" x2="1758.5" y2="257" stroke="#555" stroke-width="2" />
<line x1="1754.5" y1="353" x2="1758.5" y2="353" stroke="#555" stroke-width="2" />
<line x1="1127" y1="555" x2="1127" y2="843.5" stroke="#555" stroke-width="2.5" />
<line x1="1127" y1="555" x2="1131" y2="555" stroke="#555" stroke-width="2" />
<line x1="1127" y1="603" x2="1131" y2="603" stroke="#555" stroke-width="2" />
<line x1="1127" y1="650.5" x2="1131" y2="650.5" stroke="#555" stroke-width="2" />
<line x1="1127" y1="698.5" x2="1131" y2="698.5" stroke="#555" stroke-width="2" />
<line x1="1127" y1="746.5" x2="1131" y2="746.5" stroke="#555" stroke-width="2" />
<line x1="1127" y1="794.5" x2="1131" y2="794.5" stroke="#555" stroke-width="2" />
<line x1="1440" y1="555" x2="1440" y2="843.5" stroke="#555" stroke-width="2.5" />
<line x1="1440" y1="555" x2="1444" y2="555" stroke="#555" stroke-width="2" />
<line x1="1440" y1="603" x2="1444" y2="603" stroke="#555" stroke-width="2" />
<line x1="1440" y1="650.5" x2="1444" y2="650.5" stroke="#555" stroke-width="2" />
<line x1="1440" y1="698.5" x2="1444" y2="698.5" stroke="#555" stroke-width="2" />
<line x1="1440" y1="746.5" x2="1444" y2="746.5" stroke="#555" stroke-width="2" />
<line x1="1440" y1="794.5" x2="1444" y2="794.5" stroke="#555" stroke-width="2" />
<line x1="1753" y1="555" x2="1753" y2="843.5" stroke="#555" stroke-width="2.5" />
<line x1="1753" y1="555" x2="1757" y2="555" stroke="#555" stroke-width="2" />
<line x1="1753" y1="603" x2="1757" y2="603" stroke="#555" stroke-width="2" />
<line x1="1753" y1="650.5" x2="1757" y2="650.5" stroke="#555" stroke-width="2" />
<line x1="1753" y1="698.5" x2="1757" y2="698.5" stroke="#555" stroke-width="2" />
<line x1="1753" y1="746.5" x2="1757" y2="746.5" stroke="#555" stroke-width="2" />
<line x1="1753" y1="794.5" x2="1757" y2="794.5" stroke="#555" stroke-width="2" />
<text x="1118" y="172" font-size="28" text-anchor="end">150</text>
<text x="1118" y="266" font-size="28" text-anchor="end">100</text>
<text x="1118" y="361" font-size="28" text-anchor="end">50</text>
<text x="1118" y="450" font-size="28" text-anchor="end">0</text>
<text x="1118" y="564.5" font-size="28" text-anchor="end">300</text>
<text x="1118" y="661" font-size="28" text-anchor="end">200</text>
<text x="1118" y="756.5" font-size="28" text-anchor="end">100</text>
<text x="1110" y="851" font-size="28" text-anchor="end">0</text>
<text x="1135" y="485" font-size="28.5" text-anchor="middle">-0.5</text>
<text x="1207" y="485" font-size="28.5" text-anchor="middle">0</text>
<text x="1286.4" y="485" font-size="28.5" text-anchor="middle">0.5</text>
<text x="1366.6" y="485" font-size="28.5" text-anchor="middle">1</text>
<text x="1455" y="485" font-size="28.5" text-anchor="middle">-0.5</text>
<text x="1522" y="485" font-size="28.5" text-anchor="middle">0</text>
<text x="1601.4" y="485" font-size="28.5" text-anchor="middle">0.5</text>
<text x="1682.5" y="485" font-size="28.5" text-anchor="middle">1</text>
<text x="1763" y="485" font-size="28.5" text-anchor="middle">-0.5</text>
<text x="1831.5" y="485" font-size="28.5" text-anchor="middle">0</text>
<text x="1912.7" y="485" font-size="28.5" text-anchor="middle">0.5</text>
<text x="1992" y="485" font-size="28.5" text-anchor="middle">1</text>
<text x="1123.7" y="879" font-size="28.5" text-anchor="middle">-0.5</text>
<text x="1194.6" y="879" font-size="28.5" text-anchor="middle">0</text>
<text x="1275.8" y="879" font-size="28.5" text-anchor="middle">0.5</text>
<text x="1357" y="879" font-size="28.5" text-anchor="middle">1</text>
<text x="1436" y="879" font-size="28.5" text-anchor="middle">-0.5</text>
<text x="1507" y="879" font-size="28.5" text-anchor="middle">0</text>
<text x="1588.7" y="879" font-size="28.5" text-anchor="middle">0.5</text>
<text x="1669.4" y="879" font-size="28.5" text-anchor="middle">1</text>
<text x="1758.6" y="879" font-size="28.5" text-anchor="middle">-0.5</text>
<text x="1829.6" y="879" font-size="28.5" text-anchor="middle">0</text>
<text x="1910" y="879" font-size="28.5" text-anchor="middle">0.5</text>
<text x="1990" y="879" font-size="28.5" text-anchor="middle">1</text>
</g>
<g>
<text x="1" y="988" font-size="58">d</text>
<text x="116" y="1071" font-size="28" textLength="216" lengthAdjust="spacingAndGlyphs">% cells in cluster</text>
<line x1="30.5" y1="1505" x2="208" y2="1505" stroke="#444" stroke-width="2.2" />
<line x1="208" y1="1161" x2="208" y2="1505" stroke="#444" stroke-width="2.2" />
<line x1="203.5" y1="1505" x2="208" y2="1505" stroke="#444" stroke-width="2" />
<line x1="203.5" y1="1470.6" x2="208" y2="1470.6" stroke="#444" stroke-width="2" />
<line x1="203.5" y1="1436.2" x2="208" y2="1436.2" stroke="#444" stroke-width="2" />
<line x1="203.5" y1="1401.8" x2="208" y2="1401.8" stroke="#444" stroke-width="2" />
<line x1="203.5" y1="1367.4" x2="208" y2="1367.4" stroke="#444" stroke-width="2" />
<line x1="203.5" y1="1333" x2="208" y2="1333" stroke="#444" stroke-width="2" />
<line x1="203.5" y1="1298.6" x2="208" y2="1298.6" stroke="#444" stroke-width="2" />
<line x1="203.5" y1="1264.2" x2="208" y2="1264.2" stroke="#444" stroke-width="2" />
<line x1="203.5" y1="1229.8" x2="208" y2="1229.8" stroke="#444" stroke-width="2" />
<line x1="203.5" y1="1195.4" x2="208" y2="1195.4" stroke="#444" stroke-width="2" />
<line x1="203.5" y1="1161" x2="208" y2="1161" stroke="#444" stroke-width="2" />
<line x1="45" y1="1500.5" x2="45" y2="1505" stroke="#444" stroke-width="2" />
<line x1="74.6" y1="1500.5" x2="74.6" y2="1505" stroke="#444" stroke-width="2" />
<line x1="133.5" y1="1500.5" x2="133.5" y2="1505" stroke="#444" stroke-width="2" />
<line x1="162.5" y1="1500.5" x2="162.5" y2="1505" stroke="#444" stroke-width="2" />
<line x1="193" y1="1500.5" x2="193" y2="1505" stroke="#444" stroke-width="2" />
<line x1="277" y1="1161" x2="277" y2="1505" stroke="#444" stroke-width="2.2" />
<line x1="277" y1="1161" x2="281" y2="1161" stroke="#444" stroke-width="2" />
<line x1="277" y1="1505" x2="457" y2="1505" stroke="#444" stroke-width="2.2" />
<line x1="293" y1="1500.5" x2="293" y2="1505" stroke="#444" stroke-width="2" />
<line x1="322" y1="1500.5" x2="322" y2="1505" stroke="#444" stroke-width="2" />
<line x1="352.6" y1="1500.5" x2="352.6" y2="1505" stroke="#444" stroke-width="2" />
<line x1="412" y1="1500.5" x2="412" y2="1505" stroke="#444" stroke-width="2" />
<line x1="441" y1="1500.5" x2="441" y2="1505" stroke="#444" stroke-width="2" />
<line x1="104" y1="1148.5" x2="104" y2="1505" stroke="#555" stroke-width="2.2" />
<line x1="381.5" y1="1148.5" x2="381.5" y2="1505" stroke="#555" stroke-width="2.2" />
<text x="252.5" y="1520.5" font-size="24.5" text-anchor="end">0</text>
<text x="252.5" y="1486.1" font-size="24.5" text-anchor="end">10</text>
<text x="252.5" y="1451.7" font-size="24.5" text-anchor="end">20</text>
<text x="252.5" y="1417.3" font-size="24.5" text-anchor="end">30</text>
<text x="252.5" y="1382.9" font-size="24.5" text-anchor="end">40</text>
<text x="252.5" y="1348.5" font-size="24.5" text-anchor="end">50</text>
<text x="252.5" y="1314.1" font-size="24.5" text-anchor="end">60</text>
<text x="252.5" y="1279.7" font-size="24.5" text-anchor="end">70</text>
<text x="252.5" y="1245.3" font-size="24.5" text-anchor="end">80</text>
<text x="252.5" y="1210.9" font-size="24.5" text-anchor="end">90</text>
<text x="252.5" y="1176.5" font-size="24.5" text-anchor="end">100</text>
<text x="38" y="1533" font-size="20" textLength="48.7" lengthAdjust="spacingAndGlyphs">-0.45</text>
<text x="96.5" y="1533" font-size="20" textLength="48.5" lengthAdjust="spacingAndGlyphs">-0.25</text>
<text x="156" y="1533" font-size="20" textLength="49" lengthAdjust="spacingAndGlyphs">-0.05</text>
<text x="273" y="1533" font-size="20" textLength="40" lengthAdjust="spacingAndGlyphs">0.05</text>
<text x="327" y="1533" font-size="20" textLength="40.6" lengthAdjust="spacingAndGlyphs">0.25</text>
<text x="381.5" y="1533" font-size="20" textLength="41.5" lengthAdjust="spacingAndGlyphs">0.45</text>
<line x1="30.5" y1="1988" x2="208" y2="1988" stroke="#444" stroke-width="2.2" />
<line x1="208" y1="1645.6" x2="208" y2="1988" stroke="#444" stroke-width="2.2" />
<line x1="203.5" y1="1988" x2="208" y2="1988" stroke="#444" stroke-width="2" />
<line x1="203.5" y1="1953.76" x2="208" y2="1953.76" stroke="#444" stroke-width="2" />
<line x1="203.5" y1="1919.52" x2="208" y2="1919.52" stroke="#444" stroke-width="2" />
<line x1="203.5" y1="1885.28" x2="208" y2="1885.28" stroke="#444" stroke-width="2" />
<line x1="203.5" y1="1851.04" x2="208" y2="1851.04" stroke="#444" stroke-width="2" />
<line x1="203.5" y1="1816.8" x2="208" y2="1816.8" stroke="#444" stroke-width="2" />
<line x1="203.5" y1="1782.56" x2="208" y2="1782.56" stroke="#444" stroke-width="2" />
<line x1="203.5" y1="1748.32" x2="208" y2="1748.32" stroke="#444" stroke-width="2" />
<line x1="203.5" y1="1714.08" x2="208" y2="1714.08" stroke="#444" stroke-width="2" />
<line x1="203.5" y1="1679.84" x2="208" y2="1679.84" stroke="#444" stroke-width="2" />
<line x1="203.5" y1="1645.6" x2="208" y2="1645.6" stroke="#444" stroke-width="2" />
<line x1="45" y1="1983.5" x2="45" y2="1988" stroke="#444" stroke-width="2" />
<line x1="74.6" y1="1983.5" x2="74.6" y2="1988" stroke="#444" stroke-width="2" />
<line x1="133.5" y1="1983.5" x2="133.5" y2="1988" stroke="#444" stroke-width="2" />
<line x1="162.5" y1="1983.5" x2="162.5" y2="1988" stroke="#444" stroke-width="2" />
<line x1="193" y1="1983.5" x2="193" y2="1988" stroke="#444" stroke-width="2" />
<line x1="277" y1="1645.6" x2="277" y2="1988" stroke="#444" stroke-width="2.2" />
<line x1="277" y1="1645.6" x2="281" y2="1645.6" stroke="#444" stroke-width="2" />
<line x1="277" y1="1988" x2="457" y2="1988" stroke="#444" stroke-width="2.2" />
<line x1="293" y1="1983.5" x2="293" y2="1988" stroke="#444" stroke-width="2" />
<line x1="322" y1="1983.5" x2="322" y2="1988" stroke="#444" stroke-width="2" />
<line x1="352.6" y1="1983.5" x2="352.6" y2="1988" stroke="#444" stroke-width="2" />
<line x1="412" y1="1983.5" x2="412" y2="1988" stroke="#444" stroke-width="2" />
<line x1="441" y1="1983.5" x2="441" y2="1988" stroke="#444" stroke-width="2" />
<line x1="104" y1="1629.6" x2="104" y2="1988" stroke="#555" stroke-width="2.2" />
<line x1="381.5" y1="1629.6" x2="381.5" y2="1988" stroke="#555" stroke-width="2.2" />
<text x="252.5" y="1997.5" font-size="24.5" text-anchor="end">0</text>
<text x="252.5" y="1963.26" font-size="24.5" text-anchor="end">10</text>
<text x="252.5" y="1929.02" font-size="24.5" text-anchor="end">20</text>
<text x="252.5" y="1894.78" font-size="24.5" text-anchor="end">30</text>
<text x="252.5" y="1860.54" font-size="24.5" text-anchor="end">40</text>
<text x="252.5" y="1826.3" font-size="24.5" text-anchor="end">50</text>
<text x="252.5" y="1792.06" font-size="24.5" text-anchor="end">60</text>
<text x="252.5" y="1757.82" font-size="24.5" text-anchor="end">70</text>
<text x="252.5" y="1723.58" font-size="24.5" text-anchor="end">80</text>
<text x="252.5" y="1689.34" font-size="24.5" text-anchor="end">90</text>
<text x="252.5" y="1655.1" font-size="24.5" text-anchor="end">100</text>
<text x="38" y="2016" font-size="20" textLength="48.7" lengthAdjust="spacingAndGlyphs">-0.45</text>
<text x="96.5" y="2016" font-size="20" textLength="48.5" lengthAdjust="spacingAndGlyphs">-0.25</text>
<text x="156" y="2016" font-size="20" textLength="49" lengthAdjust="spacingAndGlyphs">-0.05</text>
<text x="273" y="2016" font-size="20" textLength="40" lengthAdjust="spacingAndGlyphs">0.05</text>
<text x="327" y="2016" font-size="20" textLength="40.6" lengthAdjust="spacingAndGlyphs">0.25</text>
<text x="381.5" y="2016" font-size="20" textLength="41.5" lengthAdjust="spacingAndGlyphs">0.45</text>
<text x="46" y="1136" font-size="28" textLength="106" lengthAdjust="spacingAndGlyphs">r = -0.35</text>
<text x="334" y="1136" font-size="28" textLength="98" lengthAdjust="spacingAndGlyphs">r = 0.35</text>
<text x="62" y="1309" font-size="28" text-anchor="middle" transform="rotate(-90 62 1309)">OXT</text>
<text x="65" y="1792" font-size="28.5" text-anchor="middle" transform="rotate(-90 65 1792)">non-OXT</text>
<polyline points="277.13,1239.21 278.54,1243.81 280.46,1250.07 282.76,1257.53 285.25,1265.76 287.78,1274.31 290.19,1282.74 292.53,1291.36 294.92,1300.58 297.36,1310.13 299.81,1319.71 302.27,1329.06 304.7,1337.88 307.12,1346.12 309.54,1354 311.96,1361.64 314.37,1369.15 316.79,1376.67 319.21,1384.31 321.63,1392.28 324.05,1400.54 326.47,1408.79 328.88,1416.76 331.3,1424.17 333.72,1430.74 336.14,1436.4 338.56,1441.38 340.98,1445.79 343.39,1449.76 345.81,1453.41 348.23,1456.85 350.65,1459.98 353.07,1462.66 355.48,1465.02 357.9,1467.17 360.32,1469.25 362.74,1471.36 365.16,1473.47 367.58,1475.45 369.99,1477.35 372.41,1479.21 374.83,1481.07 377.25,1482.97 379.67,1484.97 382.09,1487.06 384.5,1489.14 386.92,1491.14 389.34,1492.98 391.76,1494.58 394.18,1495.92 396.6,1497.05 399.01,1498.03 401.43,1498.88 403.85,1499.65 406.27,1500.38 408.45,1501.06 410.35,1501.64 412.25,1502.14 414.44,1502.58 417.18,1502.95 420.78,1503.28 425.81,1503.56 432.17,1503.76 439.1,1503.9 445.82,1504.01 451.58,1504.08 455.6,1504.16" fill="none" stroke="#f5a64a" stroke-width="2.3" stroke-linejoin="round" />
<polyline points="277.13,1186.98 278.54,1190.5 280.46,1195.14 282.76,1200.76 285.25,1207.18 287.78,1214.25 290.19,1221.8 292.53,1229.99 294.92,1239 297.36,1248.64 299.81,1258.77 302.27,1269.22 304.7,1279.84 307.12,1290.84 309.54,1302.41 311.96,1314.3 314.37,1326.27 316.79,1338.08 319.21,1349.48 321.63,1360.56 324.05,1371.52 326.47,1382.31 328.88,1392.9 331.3,1403.26 333.72,1413.33 336.14,1423.35 338.56,1433.42 340.98,1443.25 343.39,1452.56 345.81,1461.05 348.23,1468.46 350.65,1474.7 353.07,1479.96 355.48,1484.42 357.9,1488.24 360.32,1491.57 362.74,1494.58 365.16,1497.12 367.58,1499.04 369.99,1500.47 372.41,1501.57 374.83,1502.46 377.25,1503.28 379.84,1503.96 382.62,1504.36 385.41,1504.55 388,1504.63 390.18,1504.66 391.76,1504.74" fill="none" stroke="#5cc224" stroke-width="2.3" stroke-linejoin="round" />
<polyline points="277.13,1189.88 278.54,1192.7 280.46,1196.33 282.76,1200.76 285.25,1206 287.78,1212.05 290.19,1218.9 292.53,1226.76 294.92,1235.66 297.36,1245.38 299.81,1255.65 302.27,1266.25 304.7,1276.94 307.12,1287.97 309.54,1299.61 311.96,1311.58 314.37,1323.58 316.79,1335.34 319.21,1346.58 321.63,1357.41 324.05,1368.08 326.47,1378.5 328.88,1388.61 331.3,1398.31 333.72,1407.52 336.14,1416.3 338.56,1424.72 340.98,1432.73 343.39,1440.3 345.81,1447.39 348.23,1453.95 350.65,1459.96 353.07,1465.45 355.48,1470.46 357.9,1475.02 360.32,1479.18 362.74,1482.97 365.16,1486.33 367.58,1489.21 369.99,1491.68 372.41,1493.83 374.83,1495.73 377.25,1497.48 379.67,1499 382.09,1500.22 384.5,1501.2 386.92,1502 389.34,1502.67 391.76,1503.28 394.34,1503.8 397.13,1504.14 399.92,1504.37 402.51,1504.52 404.69,1504.63 406.27,1504.74" fill="none" stroke="#8a8af8" stroke-width="2.3" stroke-linejoin="round" />
<polyline points="277.13,1181.17 278.54,1182.87 280.46,1185.04 282.76,1187.7 285.25,1190.85 287.78,1194.47 290.19,1198.58 292.53,1203.21 294.92,1208.36 297.36,1214 299.81,1220.08 302.27,1226.56 304.7,1233.41 307.12,1240.69 309.54,1248.45 311.96,1256.62 314.37,1265.11 316.79,1273.85 319.21,1282.74 321.63,1291.88 324.05,1301.33 326.47,1311.03 328.88,1320.89 331.3,1330.84 333.72,1340.78 336.14,1350.93 338.56,1361.41 340.98,1371.97 343.39,1382.37 345.81,1392.37 348.23,1401.72 350.65,1410.5 353.07,1418.91 355.48,1426.93 357.9,1434.5 360.32,1441.59 362.74,1448.15 365.16,1454.16 367.58,1459.65 369.99,1464.65 372.41,1469.21 374.83,1473.37 377.25,1477.17 379.67,1480.51 382.09,1483.35 384.5,1485.78 386.92,1487.92 389.34,1489.85 391.76,1491.68 394.01,1493.34 396.06,1494.74 398.11,1495.94 400.36,1497 403.01,1497.97 406.27,1498.93 410.37,1499.86 415.19,1500.72 420.41,1501.49 425.72,1502.18 430.79,1502.78 435.29,1503.28 439.41,1503.68 443.46,1503.95 447.26,1504.14 450.66,1504.26 453.49,1504.36 455.6,1504.45" fill="none" stroke="#5a18e8" stroke-width="2.3" stroke-linejoin="round" />
<polyline points="277.13,1175.37 278.54,1175.87 280.46,1176.44 282.76,1177.18 285.25,1178.16 287.78,1179.47 290.19,1181.17 292.53,1183.3 294.92,1185.79 297.36,1188.61 299.81,1191.71 302.27,1195.04 304.7,1198.58 307.12,1202.4 309.54,1206.54 311.96,1210.92 314.37,1215.46 316.79,1220.08 319.21,1224.7 321.63,1229.24 324.05,1233.73 326.47,1238.3 328.88,1243.08 331.3,1248.18 333.72,1253.72 336.14,1259.75 338.56,1266.19 340.98,1272.95 343.39,1279.94 345.81,1287.11 348.23,1294.35 350.65,1301.68 353.07,1309.18 355.48,1316.84 357.9,1324.66 360.32,1332.64 362.74,1340.78 365.16,1349.25 367.58,1358.08 369.99,1367.08 372.41,1376.03 374.83,1384.74 377.25,1393.01 379.67,1400.97 382.09,1408.81 384.5,1416.41 386.92,1423.64 389.34,1430.39 391.76,1436.54 394.18,1442 396.6,1446.86 399.01,1451.23 401.43,1455.24 403.85,1459.01 406.27,1462.66 408.69,1466.1 411.1,1469.21 413.52,1472.09 415.94,1474.8 418.36,1477.44 420.78,1480.07 423.13,1482.76 425.4,1485.44 427.67,1488.05 430.02,1490.5 432.53,1492.7 435.29,1494.58 438.57,1496.12 442.38,1497.37 446.35,1498.39 450.12,1499.2 453.32,1499.85 455.6,1500.38" fill="none" stroke="#f27cbb" stroke-width="2.3" stroke-linejoin="round" />
<polyline points="277.13,1169.56 278.54,1170.06 280.46,1170.64 282.76,1171.38 285.25,1172.36 287.78,1173.66 290.19,1175.37 292.53,1177.53 294.92,1180.1 297.36,1182.99 299.81,1186.12 302.27,1189.41 304.7,1192.78 307.12,1196.21 309.54,1199.77 311.96,1203.48 314.37,1207.4 316.79,1211.56 319.21,1216 321.63,1220.85 324.05,1226.1 326.47,1231.59 328.88,1237.17 331.3,1242.66 333.72,1247.92 336.14,1252.79 338.56,1257.37 340.98,1261.88 343.39,1266.51 345.81,1271.46 348.23,1276.94 350.65,1282.87 353.07,1289.08 355.48,1295.62 357.9,1302.52 360.32,1309.82 362.74,1317.56 365.16,1326.01 367.58,1335.19 369.99,1344.77 372.41,1354.43 374.83,1363.85 377.25,1372.7 379.67,1381.21 382.09,1389.68 384.5,1397.91 386.92,1405.69 389.34,1412.84 391.76,1419.13 394.18,1424.38 396.6,1428.69 399.01,1432.37 401.43,1435.68 403.85,1438.91 406.27,1442.34 408.69,1445.97 411.1,1449.55 413.52,1453.05 415.94,1456.42 418.36,1459.64 420.78,1462.66 423.13,1465.48 425.4,1468.14 427.67,1470.64 430.02,1472.98 432.53,1475.15 435.29,1477.17 438.57,1479.06 442.38,1480.82 446.35,1482.43 450.12,1483.83 453.32,1484.99 455.6,1485.87" fill="none" stroke="#a80f5e" stroke-width="2.3" stroke-linejoin="round" />
<polyline points="30.47,1504.74 39.84,1504.61 53.36,1504.47 69.1,1504.28 85.12,1504.04 99.49,1503.71 110.27,1503.28 117.1,1502.78 121.45,1502.21 124.15,1501.56 126.02,1500.81 127.89,1499.94 130.59,1498.93 134.07,1497.7 137.68,1496.25 141.29,1494.67 144.77,1493.07 148.02,1491.56 150.9,1490.23 153.3,1489.04 155.31,1487.92 157.07,1486.87 158.75,1485.93 160.51,1485.1 162.51,1484.42 164.76,1484.08 167.13,1484.1 169.58,1484.24 172.07,1484.26 174.56,1483.92 177.02,1482.97 179.47,1481.41 181.96,1479.42 184.45,1477.08 186.9,1474.43 189.28,1471.54 191.53,1468.46 193.71,1465 195.88,1461.05 197.97,1456.85 199.91,1452.66 201.65,1448.71 203.13,1445.25 204.33,1442.16 205.28,1439.23 206.04,1436.54 206.63,1434.18 207.1,1432.21 207.49,1430.74" fill="none" stroke="#f5a64a" stroke-width="2.3" stroke-linejoin="round" />
<polyline points="162.51,1504.45 165.13,1504.31 168.85,1504.18 173.21,1503.99 177.77,1503.71 182.09,1503.3 185.72,1502.7 188.73,1501.87 191.47,1500.81 193.97,1499.62 196.26,1498.37 198.33,1497.15 200.23,1496.03 201.95,1494.95 203.46,1493.82 204.77,1492.71 205.87,1491.7 206.78,1490.85 207.49,1490.23" fill="none" stroke="#8a8af8" stroke-width="2.3" stroke-linejoin="round" />
<polyline points="162.51,1504.45 164.4,1504.3 167.02,1504.14 170.12,1503.94 173.47,1503.65 176.82,1503.25 179.92,1502.7 182.9,1502.06 185.99,1501.35 189.08,1500.53 192.06,1499.54 194.85,1498.35 197.33,1496.9 199.56,1494.96 201.63,1492.52 203.5,1489.86 205.12,1487.29 206.47,1485.09 207.49,1483.55" fill="none" stroke="#5a18e8" stroke-width="2.3" stroke-linejoin="round" />
<polyline points="162.51,1504.45 165.13,1504.29 168.85,1504.1 173.21,1503.87 177.77,1503.56 182.09,1503.18 185.72,1502.7 188.73,1502.16 191.47,1501.57 193.97,1500.89 196.26,1500.1 198.33,1499.17 200.23,1498.06 201.95,1496.61 203.46,1494.79 204.77,1492.84 205.87,1490.95 206.78,1489.33 207.49,1488.2" fill="none" stroke="#f27cbb" stroke-width="2.3" stroke-linejoin="round" />
<polyline points="174.11,1504.45 176.08,1504.28 178.84,1504.07 182.1,1503.81 185.51,1503.5 188.76,1503.13 191.53,1502.7 193.88,1502.19 196.09,1501.6 198.15,1500.95 200.02,1500.26 201.69,1499.58 203.13,1498.93 204.33,1498.26 205.28,1497.53 206.04,1496.81 206.63,1496.14 207.1,1495.57 207.49,1495.16" fill="none" stroke="#a80f5e" stroke-width="2.3" stroke-linejoin="round" />
<polyline points="277.13,1757.33 278.54,1762 280.46,1768.4 282.76,1776.01 285.25,1784.31 287.78,1792.76 290.19,1800.86 292.53,1808.81 294.92,1817.09 297.36,1825.53 299.81,1833.96 302.27,1842.24 304.7,1850.19 307.12,1857.92 309.54,1865.56 311.96,1873.04 314.37,1880.29 316.79,1887.2 319.21,1893.72 321.63,1899.81 324.05,1905.54 326.47,1910.95 328.88,1916.08 331.3,1920.96 333.72,1925.64 336.14,1930.08 338.56,1934.24 340.98,1938.16 343.39,1941.87 345.81,1945.42 348.23,1948.86 350.65,1952.16 353.07,1955.31 355.48,1958.29 357.9,1961.11 360.32,1963.77 362.74,1966.27 365.16,1968.61 367.58,1970.78 369.99,1972.8 372.41,1974.65 374.83,1976.34 377.25,1977.88 379.67,1979.21 382.09,1980.35 384.5,1981.32 386.92,1982.17 389.34,1982.95 391.76,1983.68 393.77,1984.36 395.31,1984.95 396.84,1985.46 398.85,1985.89 401.83,1986.27 406.27,1986.58 413.05,1986.82 421.96,1986.97 431.84,1987.05 441.52,1987.1 449.83,1987.13 455.6,1987.16" fill="none" stroke="#f5a64a" stroke-width="2.3" stroke-linejoin="round" />
<polyline points="277.13,1699.29 278.54,1704.18 280.46,1710.79 282.76,1718.7 285.25,1727.45 287.78,1736.61 290.19,1745.72 292.53,1754.97 294.92,1764.75 297.36,1774.92 299.81,1785.38 302.27,1796 304.7,1806.66 307.12,1817.55 309.54,1828.8 311.96,1840.22 314.37,1851.59 316.79,1862.72 319.21,1873.41 321.63,1883.85 324.05,1894.26 326.47,1904.42 328.88,1914.14 331.3,1923.22 333.72,1931.45 336.14,1938.81 338.56,1945.47 340.98,1951.49 343.39,1956.92 345.81,1961.82 348.23,1966.27 350.65,1970.15 353.07,1973.39 355.48,1976.12 357.9,1978.42 360.32,1980.43 362.74,1982.23 365.16,1983.74 367.58,1984.84 369.99,1985.64 372.41,1986.23 374.83,1986.7 377.25,1987.16 379.84,1987.55 382.62,1987.79 385.41,1987.91 388,1987.96 390.18,1987.98 391.76,1988.03" fill="none" stroke="#5cc224" stroke-width="2.3" stroke-linejoin="round" />
<polyline points="277.13,1705.1 278.54,1709.73 280.46,1716.06 282.76,1723.6 285.25,1731.86 287.78,1740.36 290.19,1748.62 292.53,1756.69 294.92,1764.96 297.36,1773.47 299.81,1782.27 302.27,1791.38 304.7,1800.86 307.12,1810.89 309.54,1821.49 311.96,1832.42 314.37,1843.42 316.79,1854.26 319.21,1864.7 321.63,1874.95 324.05,1885.23 326.47,1895.35 328.88,1905.11 331.3,1914.31 333.72,1922.74 336.14,1930.44 338.56,1937.57 340.98,1944.14 343.39,1950.15 345.81,1955.59 348.23,1960.46 350.65,1964.66 353.07,1968.15 355.48,1971.07 357.9,1973.58 360.32,1975.8 362.74,1977.88 365.16,1979.73 367.58,1981.23 369.99,1982.45 372.41,1983.45 374.83,1984.32 377.25,1985.13 379.84,1985.83 382.62,1986.36 385.41,1986.74 388,1987.03 390.18,1987.26 391.76,1987.45" fill="none" stroke="#8a8af8" stroke-width="2.3" stroke-linejoin="round" />
<polyline points="277.13,1702.19 278.54,1706.2 280.46,1711.65 282.76,1718.15 285.25,1725.3 287.78,1732.69 290.19,1739.92 292.53,1747.12 294.92,1754.64 297.36,1762.41 299.81,1770.34 302.27,1778.34 304.7,1786.35 307.12,1794.4 309.54,1802.58 311.96,1810.83 314.37,1819.13 316.79,1827.43 319.21,1835.68 321.63,1843.94 324.05,1852.23 326.47,1860.53 328.88,1868.79 331.3,1876.96 333.72,1885.01 336.14,1893.16 338.56,1901.46 340.98,1909.68 343.39,1917.58 345.81,1924.92 348.23,1931.45 350.65,1937.09 353.07,1942.03 355.48,1946.41 357.9,1950.36 360.32,1954.03 362.74,1957.56 365.16,1960.86 367.58,1963.8 369.99,1966.45 372.41,1968.9 374.83,1971.23 377.25,1973.52 379.67,1975.82 382.09,1978.07 384.5,1980.2 386.92,1982.13 389.34,1983.8 391.76,1985.13 393.77,1986.04 395.31,1986.57 396.84,1986.84 398.85,1986.95 401.83,1987.02 406.27,1987.16 413.05,1987.35 421.96,1987.48 431.84,1987.58 441.52,1987.65 449.83,1987.7 455.6,1987.74" fill="none" stroke="#5a18e8" stroke-width="2.3" stroke-linejoin="round" />
<polyline points="277.13,1696.39 278.54,1699.73 280.46,1704.24 282.76,1709.63 285.25,1715.63 287.78,1721.95 290.19,1728.31 292.53,1734.93 294.92,1742.07 297.36,1749.53 299.81,1757.12 302.27,1764.62 304.7,1771.84 307.12,1778.78 309.54,1785.6 311.96,1792.33 314.37,1799.03 316.79,1805.73 319.21,1812.47 321.63,1819.27 324.05,1826.12 326.47,1832.96 328.88,1839.77 331.3,1846.49 333.72,1853.09 336.14,1859.62 338.56,1866.1 340.98,1872.5 343.39,1878.78 345.81,1884.9 348.23,1890.82 350.65,1896.56 353.07,1902.16 355.48,1907.6 357.9,1912.85 360.32,1917.91 362.74,1922.74 365.16,1927.35 367.58,1931.77 369.99,1935.98 372.41,1939.99 374.83,1943.8 377.25,1947.41 379.67,1950.83 382.09,1954.07 384.5,1957.11 386.92,1959.93 389.34,1962.5 391.76,1964.82 394.18,1966.8 396.6,1968.45 399.01,1969.86 401.43,1971.12 403.85,1972.31 406.27,1973.52 408.69,1974.75 411.1,1975.92 413.52,1977.02 415.94,1978.06 418.36,1979.02 420.78,1979.91 423.13,1980.7 425.4,1981.41 427.67,1982.05 430.02,1982.63 432.53,1983.17 435.29,1983.68 438.57,1984.18 442.38,1984.65 446.35,1985.08 450.12,1985.45 453.32,1985.77 455.6,1986" fill="none" stroke="#f27cbb" stroke-width="2.3" stroke-linejoin="round" />
<polyline points="277.13,1689.14 278.54,1692.68 280.46,1697.52 282.76,1703.28 285.25,1709.61 287.78,1716.14 290.19,1722.51 292.53,1728.86 294.92,1735.51 297.36,1742.37 299.81,1749.32 302.27,1756.28 304.7,1763.13 307.12,1769.94 309.54,1776.78 311.96,1783.63 314.37,1790.43 316.79,1797.16 319.21,1803.76 321.63,1810.18 324.05,1816.44 326.47,1822.62 328.88,1828.8 331.3,1835.06 333.72,1841.49 336.14,1848.16 338.56,1855.03 340.98,1861.98 343.39,1868.89 345.81,1875.64 348.23,1882.11 350.65,1888.32 353.07,1894.37 355.48,1900.25 357.9,1905.97 360.32,1911.53 362.74,1916.94 365.16,1922.24 367.58,1927.47 369.99,1932.53 372.41,1937.36 374.83,1941.86 377.25,1945.95 379.67,1949.63 382.09,1952.94 384.5,1955.93 386.92,1958.64 389.34,1961.1 391.76,1963.37 394.18,1965.34 396.6,1966.97 399.01,1968.35 401.43,1969.6 403.85,1970.81 406.27,1972.07 408.69,1973.4 411.1,1974.71 413.52,1975.97 415.94,1977.18 418.36,1978.3 420.78,1979.33 423.13,1980.24 425.4,1981.07 427.67,1981.81 430.02,1982.49 432.53,1983.11 435.29,1983.68 438.57,1984.21 442.38,1984.69 446.35,1985.11 450.12,1985.47 453.32,1985.77 455.6,1986" fill="none" stroke="#a80f5e" stroke-width="2.3" stroke-linejoin="round" />
<polyline points="30.47,1986.58 38.96,1985.98 51.14,1985.18 65.35,1984.22 79.93,1983.14 93.23,1981.98 103.6,1980.78 110.74,1979.49 115.94,1978.09 119.85,1976.61 123.15,1975.08 126.5,1973.56 130.59,1972.07 135.47,1970.65 140.65,1969.28 145.88,1967.9 150.93,1966.48 155.58,1964.99 159.61,1963.37 162.86,1961.63 165.52,1959.82 167.77,1957.93 169.82,1955.95 171.86,1953.89 174.11,1951.76 176.57,1949.68 179.06,1947.67 181.55,1945.59 184,1943.27 186.37,1940.54 188.62,1937.25 190.79,1933.35 192.9,1928.97 194.94,1924.19 196.86,1919.09 198.63,1913.74 200.23,1908.23 201.67,1902.01 202.98,1894.9 204.15,1887.55 205.15,1880.61 205.98,1874.71 206.62,1870.5" fill="none" stroke="#f5a64a" stroke-width="2.3" stroke-linejoin="round" />
<polyline points="116.08,1987.16 119.23,1986.88 123.6,1986.56 128.77,1986.15 134.35,1985.57 139.92,1984.77 145.1,1983.68 150.1,1982.25 155.31,1980.52 160.51,1978.57 165.52,1976.46 170.12,1974.27 174.11,1972.07 177.37,1969.89 180.03,1967.67 182.28,1965.36 184.33,1962.94 186.37,1960.35 188.62,1957.56 191.17,1954.41 193.87,1950.9 196.57,1947.22 199.11,1943.59 201.35,1940.2 203.13,1937.25 204.39,1934.68 205.24,1932.3 205.78,1930.18 206.12,1928.33 206.37,1926.8 206.62,1925.64" fill="none" stroke="#f27cbb" stroke-width="2.3" stroke-linejoin="round" />
<polyline points="162.51,1987.16 165.1,1986.31 168.74,1985.27 173.03,1983.97 177.55,1982.35 181.92,1980.34 185.72,1977.88 189.12,1974.68 192.47,1970.74 195.66,1966.41 198.58,1962.05 201.11,1958.02 203.13,1954.66 204.56,1951.92 205.46,1949.5 205.96,1947.41 206.23,1945.63 206.4,1944.18 206.62,1943.05" fill="none" stroke="#8a8af8" stroke-width="2.3" stroke-linejoin="round" />
<polyline points="145.1,1987.16 146.51,1986.84 148.32,1986.45 150.54,1985.96 153.16,1985.36 156.18,1984.6 159.61,1983.68 163.77,1982.73 168.74,1981.81 174.11,1980.74 179.49,1979.36 184.46,1977.49 188.62,1974.97 192.01,1971.46 194.94,1967.02 197.48,1962.1 199.65,1957.13 201.52,1952.57 203.13,1948.86 204.39,1945.95 205.24,1943.48 205.78,1941.42 206.12,1939.72 206.37,1938.34 206.62,1937.25" fill="none" stroke="#5a18e8" stroke-width="2.3" stroke-linejoin="round" />
<polyline points="168.31,1987.16 169.89,1986.75 172.07,1986.29 174.66,1985.69 177.45,1984.87 180.23,1983.75 182.82,1982.23 185.3,1980.12 187.85,1977.46 190.4,1974.48 192.88,1971.46 195.21,1968.64 197.33,1966.27 199.29,1964.3 201.16,1962.51 202.88,1960.92 204.4,1959.55 205.67,1958.43 206.62,1957.56" fill="none" stroke="#5cc224" stroke-width="2.3" stroke-linejoin="round" />
<polyline points="159.61,1987.16 161.08,1986.59 163.04,1985.92 165.41,1985.06 168.1,1983.96 171.02,1982.55 174.11,1980.78 177.64,1978.51 181.72,1975.79 186.05,1972.76 190.3,1969.58 194.17,1966.4 197.33,1963.37 199.79,1960.26 201.8,1956.92 203.42,1953.57 204.72,1950.47 205.77,1947.85 206.62,1945.95" fill="none" stroke="#a80f5e" stroke-width="2.3" stroke-linejoin="round" />
</g>
<g>
<text x="486.5" y="992" font-size="58">e</text>
<text x="761.5" y="972" font-size="28.5">DMSO</text>
<text x="991" y="972" font-size="28.7">Optovin</text>
<line x1="705.6" y1="988" x2="905" y2="988" stroke="#555" stroke-width="3.2" />
<line x1="952" y1="988" x2="1150" y2="988" stroke="#555" stroke-width="3.2" />
<text transform="translate(727 1085) rotate(-45)" font-size="29">Stim</text>
<text transform="translate(782 1084) rotate(-45)" font-size="28">Motor<tspan dx="4" dy="8" font-size="15.5">stim</tspan></text>
<text transform="translate(842 1084) rotate(-45)" font-size="28">Motor<tspan dx="4" dy="8" font-size="15.5">spon</tspan></text>
<text transform="translate(951 1085) rotate(-45)" font-size="29">Stim</text>
<text transform="translate(1004 1084) rotate(-45)" font-size="28">Motor<tspan dx="4" dy="8" font-size="15.5">stim</tspan></text>
<text transform="translate(1064 1084) rotate(-45)" font-size="28">Motor<tspan dx="4" dy="8" font-size="15.5">spon</tspan></text>
<text x="564" y="1125.5" font-size="28.5">% total</text>
<text x="564" y="1159" font-size="28.5">cells</text>
<text x="744.5" y="1124" font-size="27.5" text-anchor="middle">7%</text>
<text x="803" y="1124" font-size="27.5" text-anchor="middle">3%</text>
<text x="872.5" y="1124" font-size="27.5" text-anchor="middle">0.6%</text>
<text x="942.5" y="1124" font-size="27.5" text-anchor="middle">32%</text>
<text x="1017" y="1124" font-size="27.5" text-anchor="middle">28%</text>
<text x="1082.5" y="1124" font-size="27.5" text-anchor="middle">4%</text>
<text x="1134" y="1113" font-size="27.5">r</text>
<text x="680.5" y="1190" font-size="28" text-anchor="end">20</text>
<text x="680.5" y="1265.6" font-size="28" text-anchor="end">60</text>
<text x="680.5" y="1343.4" font-size="28" text-anchor="end">100</text>
<text x="680.5" y="1420.5" font-size="28" text-anchor="end">140</text>
<text x="680.5" y="1497" font-size="28" text-anchor="end">180</text>
<rect x="701.5" y="1141.4" width="68" height="2.18" fill="#f79292" />
<rect x="701.5" y="1143.33" width="68" height="2.18" fill="#f79292" />
<rect x="701.5" y="1145.26" width="68" height="2.18" fill="#f79292" />
<rect x="701.5" y="1147.19" width="68" height="2.18" fill="#f79292" />
<rect x="701.5" y="1149.12" width="68" height="2.18" fill="#f7a4a4" />
<rect x="701.5" y="1151.05" width="68" height="2.18" fill="#f79292" />
<rect x="701.5" y="1152.98" width="68" height="2.18" fill="#f79292" />
<rect x="701.5" y="1154.91" width="68" height="2.18" fill="#f79292" />
<rect x="701.5" y="1156.84" width="68" height="2.18" fill="#f79292" />
<rect x="701.5" y="1158.77" width="68" height="2.18" fill="#f79292" />
<rect x="701.5" y="1160.7" width="68" height="2.18" fill="#f79292" />
<rect x="701.5" y="1162.63" width="68" height="2.18" fill="#f79292" />
<rect x="701.5" y="1164.56" width="68" height="2.18" fill="#f7a4a4" />
<rect x="701.5" y="1166.49" width="68" height="2.18" fill="#f79292" />
<rect x="701.5" y="1168.42" width="68" height="2.18" fill="#f79292" />
<rect x="701.5" y="1170.35" width="68" height="2.18" fill="#f79292" />
<rect x="701.5" y="1172.28" width="68" height="2.18" fill="#f7a4a4" />
<rect x="701.5" y="1174.21" width="68" height="2.18" fill="#f7a4a4" />
<rect x="701.5" y="1176.14" width="68" height="2.18" fill="#f7a4a4" />
<rect x="701.5" y="1178.07" width="68" height="2.18" fill="#f7a4a4" />
<rect x="701.5" y="1180" width="68" height="2.18" fill="#f79292" />
<rect x="701.5" y="1181.93" width="68" height="2.18" fill="#f79292" />
<rect x="701.5" y="1183.86" width="68" height="2.18" fill="#f79292" />
<rect x="701.5" y="1185.79" width="68" height="2.18" fill="#f7a4a4" />
<rect x="701.5" y="1187.72" width="68" height="2.18" fill="#f79292" />
<rect x="701.5" y="1189.65" width="68" height="2.18" fill="#f79292" />
<rect x="701.5" y="1191.58" width="68" height="2.18" fill="#f7a4a4" />
<rect x="701.5" y="1193.51" width="68" height="2.18" fill="#f77f7f" />
<rect x="701.5" y="1195.44" width="68" height="2.18" fill="#f79292" />
<rect x="701.5" y="1197.37" width="68" height="2.18" fill="#f79292" />
<rect x="701.5" y="1199.3" width="68" height="2.18" fill="#f7a4a4" />
<rect x="701.5" y="1201.23" width="68" height="2.18" fill="#f7a4a4" />
<rect x="701.5" y="1203.16" width="68" height="2.18" fill="#f7a4a4" />
<rect x="769.5" y="1147.96" width="69" height="2.18" fill="#f7a4a4" />
<rect x="769.5" y="1149.89" width="69" height="2.18" fill="#f79292" />
<rect x="769.5" y="1151.82" width="69" height="0.44" fill="#f79292" />
<rect x="769.5" y="1158.77" width="69" height="2.18" fill="#f7a4a4" />
<rect x="769.5" y="1160.7" width="69" height="1.41" fill="#f7a4a4" />
<rect x="769.5" y="1183.09" width="69" height="2.18" fill="#f7a4a4" />
<rect x="769.5" y="1185.02" width="69" height="2.18" fill="#f79292" />
<rect x="769.5" y="1186.95" width="69" height="1.02" fill="#f7a4a4" />
<rect x="769.5" y="1189.65" width="69" height="2.18" fill="#f79292" />
<rect x="769.5" y="1191.58" width="69" height="2.18" fill="#f79292" />
<rect x="769.5" y="1193.51" width="69" height="2.18" fill="#f77f7f" />
<rect x="769.5" y="1197.37" width="69" height="2.18" fill="#f7a4a4" />
<rect x="769.5" y="1199.3" width="69" height="2.18" fill="#f76d6d" />
<rect x="769.5" y="1201.23" width="69" height="2.18" fill="#f79292" />
<rect x="769.5" y="1203.16" width="69" height="1.6" fill="#f7a4a4" />
<rect x="769.5" y="1205.67" width="69" height="2.18" fill="#f79292" />
<rect x="769.5" y="1207.6" width="69" height="1.21" fill="#f79292" />
<rect x="838.5" y="1208.18" width="69" height="2.18" fill="#f7a4a4" />
<rect x="838.5" y="1210.11" width="69" height="1.02" fill="#f7b6b6" />
<rect x="907.5" y="1141.4" width="69.5" height="2.18" fill="#f79292" />
<rect x="907.5" y="1143.33" width="69.5" height="2.18" fill="#f79292" />
<rect x="907.5" y="1145.26" width="69.5" height="2.18" fill="#f79292" />
<rect x="907.5" y="1147.19" width="69.5" height="2.18" fill="#f7a4a4" />
<rect x="907.5" y="1149.12" width="69.5" height="2.18" fill="#f7a4a4" />
<rect x="907.5" y="1151.05" width="69.5" height="2.18" fill="#f79292" />
<rect x="907.5" y="1152.98" width="69.5" height="2.18" fill="#f77f7f" />
<rect x="907.5" y="1154.91" width="69.5" height="1.21" fill="#f7a4a4" />
<rect x="907.5" y="1155.88" width="69.5" height="2.18" fill="#f77f7f" />
<rect x="907.5" y="1157.81" width="69.5" height="0.83" fill="#f76d6d" />
<rect x="907.5" y="1158.38" width="69.5" height="2.18" fill="#f7a4a4" />
<rect x="907.5" y="1160.31" width="69.5" height="2.18" fill="#f7a4a4" />
<rect x="907.5" y="1166.1" width="69.5" height="0.44" fill="#f7b6b6" />
<rect x="907.5" y="1166.3" width="69.5" height="2.18" fill="#f79292" />
<rect x="907.5" y="1168.23" width="69.5" height="2.18" fill="#f7a4a4" />
<rect x="907.5" y="1170.16" width="69.5" height="1.21" fill="#f79292" />
<rect x="907.5" y="1171.12" width="69.5" height="2.18" fill="#f75b5b" />
<rect x="907.5" y="1173.05" width="69.5" height="1.79" fill="#f76d6d" />
<rect x="907.5" y="1174.6" width="69.5" height="2.18" fill="#f77f7f" />
<rect x="907.5" y="1176.53" width="69.5" height="2.18" fill="#f77f7f" />
<rect x="907.5" y="1178.46" width="69.5" height="2.18" fill="#f77f7f" />
<rect x="907.5" y="1180.39" width="69.5" height="2.18" fill="#f77f7f" />
<rect x="907.5" y="1182.32" width="69.5" height="2.18" fill="#f77f7f" />
<rect x="907.5" y="1184.25" width="69.5" height="2.18" fill="#f77f7f" />
<rect x="907.5" y="1186.18" width="69.5" height="2.18" fill="#f79292" />
<rect x="907.5" y="1188.11" width="69.5" height="2.18" fill="#f77f7f" />
<rect x="907.5" y="1190.04" width="69.5" height="0.83" fill="#f77f7f" />
<rect x="907.5" y="1190.62" width="69.5" height="2.18" fill="#f7b6b6" />
<rect x="907.5" y="1194.48" width="69.5" height="2.18" fill="#f76d6d" />
<rect x="907.5" y="1196.41" width="69.5" height="0.83" fill="#f75b5b" />
<rect x="907.5" y="1203.16" width="69.5" height="2.18" fill="#f7a4a4" />
<rect x="907.5" y="1205.09" width="69.5" height="2.18" fill="#f79292" />
<rect x="907.5" y="1207.02" width="69.5" height="2.18" fill="#f77f7f" />
<rect x="907.5" y="1208.95" width="69.5" height="2.18" fill="#f7a4a4" />
<rect x="907.5" y="1210.88" width="69.5" height="2.18" fill="#f77f7f" />
<rect x="907.5" y="1212.81" width="69.5" height="2.18" fill="#f79292" />
<rect x="907.5" y="1214.74" width="69.5" height="2.18" fill="#f79292" />
<rect x="907.5" y="1216.67" width="69.5" height="2.18" fill="#f79292" />
<rect x="907.5" y="1218.6" width="69.5" height="2.18" fill="#f79292" />
<rect x="907.5" y="1220.53" width="69.5" height="2.18" fill="#f79292" />
<rect x="907.5" y="1222.46" width="69.5" height="2.18" fill="#f77f7f" />
<rect x="907.5" y="1224.39" width="69.5" height="2.18" fill="#f79292" />
<rect x="907.5" y="1226.32" width="69.5" height="2.18" fill="#f79292" />
<rect x="907.5" y="1228.25" width="69.5" height="2.18" fill="#f77f7f" />
<rect x="907.5" y="1230.18" width="69.5" height="2.18" fill="#f79292" />
<rect x="907.5" y="1232.11" width="69.5" height="2.18" fill="#f79292" />
<rect x="907.5" y="1234.04" width="69.5" height="2.18" fill="#f77f7f" />
<rect x="907.5" y="1235.97" width="69.5" height="2.18" fill="#f77f7f" />
<rect x="907.5" y="1237.9" width="69.5" height="2.18" fill="#f79292" />
<rect x="907.5" y="1239.83" width="69.5" height="2.18" fill="#f7a4a4" />
<rect x="907.5" y="1241.76" width="69.5" height="2.18" fill="#f79292" />
<rect x="907.5" y="1243.69" width="69.5" height="2.18" fill="#f79292" />
<rect x="907.5" y="1245.62" width="69.5" height="2.18" fill="#f79292" />
<rect x="907.5" y="1247.55" width="69.5" height="2.18" fill="#f77f7f" />
<rect x="907.5" y="1249.48" width="69.5" height="2.18" fill="#f79292" />
<rect x="907.5" y="1251.41" width="69.5" height="2.18" fill="#f77f7f" />
<rect x="907.5" y="1253.34" width="69.5" height="2.18" fill="#f7a4a4" />
<rect x="907.5" y="1255.27" width="69.5" height="2.18" fill="#f79292" />
<rect x="907.5" y="1257.2" width="69.5" height="2.18" fill="#f79292" />
<rect x="907.5" y="1259.13" width="69.5" height="2.18" fill="#f77f7f" />
<rect x="907.5" y="1261.06" width="69.5" height="2.18" fill="#f77f7f" />
<rect x="907.5" y="1262.99" width="69.5" height="2.18" fill="#f79292" />
<rect x="907.5" y="1264.92" width="69.5" height="2.18" fill="#f79292" />
<rect x="907.5" y="1266.85" width="69.5" height="2.18" fill="#f79292" />
<rect x="907.5" y="1268.78" width="69.5" height="2.18" fill="#f79292" />
<rect x="907.5" y="1270.71" width="69.5" height="2.18" fill="#f79292" />
<rect x="907.5" y="1272.64" width="69.5" height="2.18" fill="#f79292" />
<rect x="907.5" y="1274.57" width="69.5" height="2.18" fill="#f79292" />
<rect x="907.5" y="1276.5" width="69.5" height="2.18" fill="#f79292" />
<rect x="907.5" y="1278.43" width="69.5" height="2.18" fill="#f79292" />
<rect x="907.5" y="1280.36" width="69.5" height="2.18" fill="#f79292" />
<rect x="907.5" y="1282.29" width="69.5" height="2.18" fill="#f77f7f" />
<rect x="907.5" y="1284.22" width="69.5" height="2.18" fill="#f79292" />
<rect x="907.5" y="1286.15" width="69.5" height="2.18" fill="#f79292" />
<rect x="907.5" y="1288.08" width="69.5" height="2.18" fill="#f79292" />
<rect x="907.5" y="1290.01" width="69.5" height="2.18" fill="#f79292" />
<rect x="907.5" y="1291.94" width="69.5" height="2.18" fill="#f77f7f" />
<rect x="907.5" y="1293.87" width="69.5" height="2.18" fill="#f79292" />
<rect x="907.5" y="1295.8" width="69.5" height="2.18" fill="#f79292" />
<rect x="907.5" y="1297.73" width="69.5" height="2.18" fill="#f77f7f" />
<rect x="907.5" y="1299.66" width="69.5" height="2.18" fill="#f7a4a4" />
<rect x="907.5" y="1301.59" width="69.5" height="2.18" fill="#f79292" />
<rect x="907.5" y="1303.52" width="69.5" height="2.18" fill="#f79292" />
<rect x="907.5" y="1305.45" width="69.5" height="2.18" fill="#f79292" />
<rect x="907.5" y="1307.38" width="69.5" height="2.18" fill="#f79292" />
<rect x="907.5" y="1309.31" width="69.5" height="2.18" fill="#f79292" />
<rect x="907.5" y="1311.24" width="69.5" height="2.18" fill="#f79292" />
<rect x="907.5" y="1313.17" width="69.5" height="2.18" fill="#f79292" />
<rect x="907.5" y="1315.1" width="69.5" height="2.18" fill="#f79292" />
<rect x="907.5" y="1317.03" width="69.5" height="2.18" fill="#f77f7f" />
<rect x="907.5" y="1318.96" width="69.5" height="2.18" fill="#f79292" />
<rect x="907.5" y="1320.89" width="69.5" height="2.18" fill="#f79292" />
<rect x="907.5" y="1322.82" width="69.5" height="2.18" fill="#f76d6d" />
<rect x="907.5" y="1324.75" width="69.5" height="2.18" fill="#f76d6d" />
<rect x="907.5" y="1326.68" width="69.5" height="2.18" fill="#f76d6d" />
<rect x="907.5" y="1328.61" width="69.5" height="2.18" fill="#f77f7f" />
<rect x="907.5" y="1330.54" width="69.5" height="2.18" fill="#f76d6d" />
<rect x="907.5" y="1332.47" width="69.5" height="2.18" fill="#f76d6d" />
<rect x="907.5" y="1334.4" width="69.5" height="2.18" fill="#f77f7f" />
<rect x="907.5" y="1336.33" width="69.5" height="2.18" fill="#f76d6d" />
<rect x="907.5" y="1338.26" width="69.5" height="2.18" fill="#f76d6d" />
<rect x="907.5" y="1340.19" width="69.5" height="2.18" fill="#f76d6d" />
<rect x="907.5" y="1342.12" width="69.5" height="2.18" fill="#f75b5b" />
<rect x="907.5" y="1344.05" width="69.5" height="2.18" fill="#f77f7f" />
<rect x="907.5" y="1345.98" width="69.5" height="2.18" fill="#f76d6d" />
<rect x="907.5" y="1347.91" width="69.5" height="2.18" fill="#f76d6d" />
<rect x="907.5" y="1349.84" width="69.5" height="2.18" fill="#f76d6d" />
<rect x="907.5" y="1351.77" width="69.5" height="2.18" fill="#f76d6d" />
<rect x="907.5" y="1353.7" width="69.5" height="2.18" fill="#f77f7f" />
<rect x="907.5" y="1355.63" width="69.5" height="2.18" fill="#f77f7f" />
<rect x="907.5" y="1357.56" width="69.5" height="2.18" fill="#f79292" />
<rect x="907.5" y="1359.49" width="69.5" height="2.18" fill="#f77f7f" />
<rect x="907.5" y="1361.42" width="69.5" height="2.18" fill="#f79292" />
<rect x="907.5" y="1363.35" width="69.5" height="2.18" fill="#f79292" />
<rect x="907.5" y="1365.28" width="69.5" height="2.18" fill="#f77f7f" />
<rect x="907.5" y="1367.21" width="69.5" height="2.18" fill="#f79292" />
<rect x="907.5" y="1369.14" width="69.5" height="2.18" fill="#f79292" />
<rect x="907.5" y="1371.07" width="69.5" height="2.18" fill="#f77f7f" />
<rect x="907.5" y="1373" width="69.5" height="2.18" fill="#f79292" />
<rect x="907.5" y="1374.93" width="69.5" height="2.18" fill="#f79292" />
<rect x="907.5" y="1376.86" width="69.5" height="2.18" fill="#f77f7f" />
<rect x="907.5" y="1378.79" width="69.5" height="2.18" fill="#f77f7f" />
<rect x="907.5" y="1380.72" width="69.5" height="2.18" fill="#f79292" />
<rect x="907.5" y="1382.65" width="69.5" height="2.18" fill="#f76d6d" />
<rect x="907.5" y="1384.58" width="69.5" height="2.18" fill="#f79292" />
<rect x="907.5" y="1386.51" width="69.5" height="2.18" fill="#f77f7f" />
<rect x="907.5" y="1388.44" width="69.5" height="2.18" fill="#f79292" />
<rect x="907.5" y="1390.37" width="69.5" height="2.18" fill="#f79292" />
<rect x="907.5" y="1392.3" width="69.5" height="2.18" fill="#f77f7f" />
<rect x="907.5" y="1394.23" width="69.5" height="2.18" fill="#f79292" />
<rect x="907.5" y="1396.16" width="69.5" height="2.18" fill="#f77f7f" />
<rect x="907.5" y="1398.09" width="69.5" height="2.18" fill="#f79292" />
<rect x="907.5" y="1400.02" width="69.5" height="2.18" fill="#f79292" />
<rect x="907.5" y="1401.95" width="69.5" height="2.18" fill="#f77f7f" />
<rect x="907.5" y="1403.88" width="69.5" height="2.18" fill="#f79292" />
<rect x="907.5" y="1405.81" width="69.5" height="2.18" fill="#f79292" />
<rect x="907.5" y="1407.74" width="69.5" height="2.18" fill="#f79292" />
<rect x="907.5" y="1409.67" width="69.5" height="2.18" fill="#f77f7f" />
<rect x="907.5" y="1411.6" width="69.5" height="2.18" fill="#f77f7f" />
<rect x="907.5" y="1413.53" width="69.5" height="2.18" fill="#f77f7f" />
<rect x="907.5" y="1415.46" width="69.5" height="2.18" fill="#f79292" />
<rect x="907.5" y="1417.39" width="69.5" height="2.18" fill="#f79292" />
<rect x="907.5" y="1419.32" width="69.5" height="2.18" fill="#f79292" />
<rect x="907.5" y="1421.25" width="69.5" height="2.18" fill="#f77f7f" />
<rect x="907.5" y="1423.18" width="69.5" height="2.18" fill="#f77f7f" />
<rect x="907.5" y="1425.11" width="69.5" height="2.18" fill="#f79292" />
<rect x="907.5" y="1427.04" width="69.5" height="2.18" fill="#f77f7f" />
<rect x="907.5" y="1428.97" width="69.5" height="2.18" fill="#f77f7f" />
<rect x="907.5" y="1430.9" width="69.5" height="2.18" fill="#f79292" />
<rect x="907.5" y="1432.83" width="69.5" height="2.18" fill="#f7a4a4" />
<rect x="907.5" y="1434.76" width="69.5" height="2.18" fill="#f77f7f" />
<rect x="907.5" y="1436.69" width="69.5" height="2.18" fill="#f79292" />
<rect x="907.5" y="1438.62" width="69.5" height="2.18" fill="#f79292" />
<rect x="907.5" y="1440.55" width="69.5" height="2.18" fill="#f77f7f" />
<rect x="907.5" y="1442.48" width="69.5" height="2.18" fill="#f77f7f" />
<rect x="907.5" y="1444.41" width="69.5" height="2.18" fill="#f77f7f" />
<rect x="907.5" y="1446.34" width="69.5" height="2.18" fill="#f79292" />
<rect x="977" y="1141.4" width="69" height="2.18" fill="#f77f7f" />
<rect x="977" y="1143.33" width="69" height="2.18" fill="#f77f7f" />
<rect x="977" y="1145.26" width="69" height="2.18" fill="#f77f7f" />
<rect x="977" y="1147.19" width="69" height="2.18" fill="#f79292" />
<rect x="977" y="1149.12" width="69" height="2.18" fill="#f79292" />
<rect x="977" y="1151.05" width="69" height="2.18" fill="#f77f7f" />
<rect x="977" y="1152.98" width="69" height="2.18" fill="#f7a4a4" />
<rect x="977" y="1154.91" width="69" height="2.18" fill="#f7a4a4" />
<rect x="977" y="1156.84" width="69" height="2.18" fill="#f7a4a4" />
<rect x="977" y="1158.77" width="69" height="0.44" fill="#f7a4a4" />
<rect x="977" y="1166.88" width="69" height="2.18" fill="#f7a4a4" />
<rect x="977" y="1168.81" width="69" height="2.18" fill="#f79292" />
<rect x="977" y="1170.74" width="69" height="2.18" fill="#f7a4a4" />
<rect x="977" y="1172.67" width="69" height="1.79" fill="#f79292" />
<rect x="977" y="1174.21" width="69" height="2.18" fill="#f77f7f" />
<rect x="977" y="1176.14" width="69" height="2.18" fill="#f79292" />
<rect x="977" y="1178.07" width="69" height="2.18" fill="#f77f7f" />
<rect x="977" y="1180" width="69" height="2.18" fill="#f77f7f" />
<rect x="977" y="1181.93" width="69" height="2.18" fill="#f77f7f" />
<rect x="977" y="1183.86" width="69" height="2.18" fill="#f77f7f" />
<rect x="977" y="1185.79" width="69" height="2.18" fill="#f77f7f" />
<rect x="977" y="1187.72" width="69" height="2.18" fill="#f77f7f" />
<rect x="977" y="1189.65" width="69" height="2.18" fill="#f77f7f" />
<rect x="977" y="1191.58" width="69" height="0.83" fill="#f77f7f" />
<rect x="977" y="1194.09" width="69" height="2.18" fill="#f7a4a4" />
<rect x="977" y="1196.21" width="69" height="2.18" fill="#f76d6d" />
<rect x="977" y="1198.14" width="69" height="1.02" fill="#f76d6d" />
<rect x="977" y="1204.9" width="69" height="2.18" fill="#f77f7f" />
<rect x="977" y="1206.83" width="69" height="2.18" fill="#f79292" />
<rect x="977" y="1208.76" width="69" height="2.18" fill="#f79292" />
<rect x="977" y="1210.69" width="69" height="2.18" fill="#f79292" />
<rect x="977" y="1212.62" width="69" height="1.02" fill="#f79292" />
<rect x="977" y="1217.44" width="69" height="2.18" fill="#f79292" />
<rect x="977" y="1219.37" width="69" height="2.18" fill="#f79292" />
<rect x="977" y="1221.3" width="69" height="2.18" fill="#f77f7f" />
<rect x="977" y="1223.23" width="69" height="2.18" fill="#f79292" />
<rect x="977" y="1225.16" width="69" height="2.18" fill="#f79292" />
<rect x="977" y="1227.09" width="69" height="2.18" fill="#f79292" />
<rect x="977" y="1229.02" width="69" height="2.18" fill="#f79292" />
<rect x="977" y="1230.95" width="69" height="2.18" fill="#f7a4a4" />
<rect x="977" y="1232.88" width="69" height="0.83" fill="#f79292" />
<rect x="977" y="1233.46" width="69" height="2.18" fill="#f76d6d" />
<rect x="977" y="1235.39" width="69" height="2.18" fill="#f77f7f" />
<rect x="977" y="1241.37" width="69" height="2.18" fill="#f77f7f" />
<rect x="977" y="1243.3" width="69" height="2.18" fill="#f76d6d" />
<rect x="977" y="1245.23" width="69" height="2.18" fill="#f76d6d" />
<rect x="977" y="1247.16" width="69" height="2.18" fill="#f76d6d" />
<rect x="977" y="1249.09" width="69" height="2.18" fill="#f76d6d" />
<rect x="977" y="1251.02" width="69" height="2.18" fill="#f76d6d" />
<rect x="977" y="1252.95" width="69" height="0.64" fill="#f77f7f" />
<rect x="977" y="1253.34" width="69" height="2.18" fill="#f7b6b6" />
<rect x="977" y="1255.27" width="69" height="2.18" fill="#f7a4a4" />
<rect x="977" y="1257.2" width="69" height="2.18" fill="#f7a4a4" />
<rect x="977" y="1259.13" width="69" height="2.18" fill="#f7a4a4" />
<rect x="977" y="1261.06" width="69" height="1.79" fill="#f7a4a4" />
<rect x="977" y="1268.01" width="69" height="2.18" fill="#f79292" />
<rect x="977" y="1269.94" width="69" height="2.18" fill="#f79292" />
<rect x="977" y="1271.87" width="69" height="2.18" fill="#f77f7f" />
<rect x="977" y="1273.8" width="69" height="2.18" fill="#f79292" />
<rect x="977" y="1275.73" width="69" height="2.18" fill="#f77f7f" />
<rect x="977" y="1277.66" width="69" height="1.21" fill="#f7a4a4" />
<rect x="977" y="1291.94" width="69" height="2.18" fill="#f77f7f" />
<rect x="977" y="1293.87" width="69" height="1.02" fill="#f79292" />
<rect x="977" y="1297.92" width="69" height="2.18" fill="#f79292" />
<rect x="977" y="1299.85" width="69" height="2.18" fill="#f77f7f" />
<rect x="977" y="1301.78" width="69" height="2.18" fill="#f77f7f" />
<rect x="977" y="1303.71" width="69" height="2.18" fill="#f79292" />
<rect x="977" y="1305.64" width="69" height="2.18" fill="#f77f7f" />
<rect x="977" y="1307.57" width="69" height="2.18" fill="#f77f7f" />
<rect x="977" y="1309.5" width="69" height="2.18" fill="#f77f7f" />
<rect x="977" y="1311.43" width="69" height="1.99" fill="#f77f7f" />
<rect x="977" y="1313.17" width="69" height="2.18" fill="#f7a4a4" />
<rect x="977" y="1315.1" width="69" height="2.18" fill="#f7a4a4" />
<rect x="977" y="1317.03" width="69" height="2.18" fill="#f7a4a4" />
<rect x="977" y="1318.96" width="69" height="1.21" fill="#f7a4a4" />
<rect x="977" y="1323.79" width="69" height="2.18" fill="#f77f7f" />
<rect x="977" y="1325.72" width="69" height="2.18" fill="#f79292" />
<rect x="977" y="1331.51" width="69" height="2.18" fill="#f79292" />
<rect x="977" y="1335.37" width="69" height="2.18" fill="#f7b6b6" />
<rect x="977" y="1339.23" width="69" height="0.44" fill="#f77f7f" />
<rect x="977" y="1339.42" width="69" height="2.18" fill="#f79292" />
<rect x="977" y="1341.35" width="69" height="2.18" fill="#f79292" />
<rect x="977" y="1343.28" width="69" height="2.18" fill="#f79292" />
<rect x="977" y="1345.21" width="69" height="2.18" fill="#f79292" />
<rect x="977" y="1347.14" width="69" height="0.44" fill="#f77f7f" />
<rect x="977" y="1351.19" width="69" height="2.18" fill="#f79292" />
<rect x="977" y="1358.91" width="69" height="2.18" fill="#f79292" />
<rect x="977" y="1362.77" width="69" height="0.83" fill="#f77f7f" />
<rect x="977" y="1363.35" width="69" height="2.18" fill="#f7a4a4" />
<rect x="977" y="1365.28" width="69" height="2.18" fill="#f77f7f" />
<rect x="977" y="1367.21" width="69" height="2.18" fill="#f77f7f" />
<rect x="977" y="1369.14" width="69" height="2.18" fill="#f76d6d" />
<rect x="977" y="1371.07" width="69" height="2.18" fill="#f77f7f" />
<rect x="977" y="1373" width="69" height="2.18" fill="#f79292" />
<rect x="977" y="1374.93" width="69" height="2.18" fill="#f76d6d" />
<rect x="977" y="1376.86" width="69" height="2.18" fill="#f77f7f" />
<rect x="977" y="1380.72" width="69" height="2.18" fill="#f77f7f" />
<rect x="977" y="1386.51" width="69" height="1.02" fill="#f79292" />
<rect x="977" y="1387.28" width="69" height="2.18" fill="#f77f7f" />
<rect x="977" y="1389.21" width="69" height="2.18" fill="#f79292" />
<rect x="977" y="1391.14" width="69" height="2.18" fill="#f77f7f" />
<rect x="977" y="1393.07" width="69" height="2.18" fill="#f77f7f" />
<rect x="977" y="1395" width="69" height="2.18" fill="#f77f7f" />
<rect x="977" y="1396.93" width="69" height="2.18" fill="#f77f7f" />
<rect x="977" y="1398.86" width="69" height="2.18" fill="#f79292" />
<rect x="977" y="1400.79" width="69" height="2.18" fill="#f77f7f" />
<rect x="977" y="1402.72" width="69" height="2.18" fill="#f77f7f" />
<rect x="977" y="1404.65" width="69" height="2.18" fill="#f77f7f" />
<rect x="977" y="1406.58" width="69" height="2.18" fill="#f79292" />
<rect x="977" y="1408.51" width="69" height="2.18" fill="#f79292" />
<rect x="977" y="1412.37" width="69" height="2.18" fill="#f77f7f" />
<rect x="977" y="1414.3" width="69" height="2.18" fill="#f79292" />
<rect x="977" y="1416.23" width="69" height="2.18" fill="#f79292" />
<rect x="977" y="1418.16" width="69" height="1.02" fill="#f77f7f" />
<rect x="977" y="1420.86" width="69" height="2.18" fill="#f79292" />
<rect x="977" y="1424.72" width="69" height="2.18" fill="#f7a4a4" />
<rect x="977" y="1426.65" width="69" height="2.18" fill="#f79292" />
<rect x="977" y="1428.58" width="69" height="2.18" fill="#f79292" />
<rect x="977" y="1430.9" width="69" height="2.18" fill="#f79292" />
<rect x="977" y="1432.83" width="69" height="2.18" fill="#f77f7f" />
<rect x="977" y="1434.76" width="69" height="2.18" fill="#f77f7f" />
<rect x="977" y="1436.69" width="69" height="2.18" fill="#f77f7f" />
<rect x="977" y="1442.48" width="69" height="2.18" fill="#f79292" />
<rect x="977" y="1444.41" width="69" height="2.18" fill="#f77f7f" />
<rect x="977" y="1446.34" width="69" height="1.21" fill="#f7a4a4" />
<rect x="977" y="1447.31" width="69" height="2.18" fill="#f79292" />
<rect x="977" y="1449.24" width="69" height="2.18" fill="#f77f7f" />
<rect x="977" y="1451.16" width="69" height="2.18" fill="#f7a4a4" />
<rect x="977" y="1453.1" width="69" height="2.18" fill="#f7a4a4" />
<rect x="977" y="1455.03" width="69" height="2.18" fill="#f79292" />
<rect x="977" y="1456.96" width="69" height="2.18" fill="#f79292" />
<rect x="977" y="1458.89" width="69" height="2.18" fill="#f79292" />
<rect x="977" y="1460.82" width="69" height="2.18" fill="#f79292" />
<rect x="977" y="1462.75" width="69" height="2.18" fill="#f79292" />
<rect x="977" y="1464.68" width="69" height="2.18" fill="#f7a4a4" />
<rect x="977" y="1466.61" width="69" height="2.18" fill="#f79292" />
<rect x="977" y="1468.54" width="69" height="2.18" fill="#f7a4a4" />
<rect x="977" y="1470.47" width="69" height="2.18" fill="#f79292" />
<rect x="977" y="1472.39" width="69" height="0.83" fill="#f79292" />
<rect x="1046" y="1153.95" width="68.5" height="1.79" fill="#f7a4a4" />
<rect x="1046" y="1169.38" width="68.5" height="1.79" fill="#f7a4a4" />
<rect x="1046" y="1207.41" width="68.5" height="1.79" fill="#f7a4a4" />
<rect x="1046" y="1306.99" width="68.5" height="2.18" fill="#f7a4a4" />
<rect x="1046" y="1308.92" width="68.5" height="2.18" fill="#f7a4a4" />
<rect x="1046" y="1357.56" width="68.5" height="1.79" fill="#f7a4a4" />
<rect x="1046" y="1478.18" width="68.5" height="2.18" fill="#f79292" />
<rect x="1046" y="1480.12" width="68.5" height="2.18" fill="#f79292" />
<rect x="1046" y="1482.05" width="68.5" height="2.18" fill="#f77f7f" />
<rect x="1046" y="1483.98" width="68.5" height="2.18" fill="#f7a4a4" />
<rect x="1046" y="1485.91" width="68.5" height="2.18" fill="#f79292" />
<rect x="1046" y="1487.84" width="68.5" height="2.18" fill="#f79292" />
<rect x="1046" y="1489.77" width="68.5" height="2.18" fill="#f7a4a4" />
<rect x="1046" y="1491.7" width="68.5" height="2.18" fill="#f79292" />
<rect x="1046" y="1493.62" width="68.5" height="2.18" fill="#f79292" />
<rect x="1046" y="1495.56" width="68.5" height="2.18" fill="#f7a4a4" />
<rect x="1046" y="1497.49" width="68.5" height="2.18" fill="#f77f7f" />
<rect x="1046" y="1499.41" width="68.5" height="1.21" fill="#f79292" />
<rect x="700.5" y="1141" width="414.2" height="365" fill="none" stroke="#555" stroke-width="3" />
<line x1="702" y1="1213.7" x2="706" y2="1213.7" stroke="#555" stroke-width="2" />
<line x1="702" y1="1291" x2="706" y2="1291" stroke="#555" stroke-width="2" />
<line x1="702" y1="1368" x2="706" y2="1368" stroke="#555" stroke-width="2" />
<line x1="702" y1="1445" x2="706" y2="1445" stroke="#555" stroke-width="2" />
<rect x="1124.3" y="1377.03" width="21.9" height="26.17" fill="#f7b6b6" />
<rect x="1124.3" y="1351.16" width="21.9" height="26.17" fill="#f79292" />
<rect x="1124.3" y="1325.29" width="21.9" height="26.17" fill="#f79292" />
<rect x="1124.3" y="1299.42" width="21.9" height="26.17" fill="#f76d6d" />
<rect x="1124.3" y="1273.55" width="21.9" height="26.17" fill="#f75b5b" />
<rect x="1124.3" y="1247.68" width="21.9" height="26.17" fill="#f74949" />
<rect x="1124.3" y="1221.81" width="21.9" height="26.17" fill="#f74949" />
<rect x="1124.3" y="1195.94" width="21.9" height="26.17" fill="#f72424" />
<rect x="1124.3" y="1170.07" width="21.9" height="26.17" fill="#f72424" />
<rect x="1124.3" y="1144.2" width="21.9" height="26.17" fill="#f70000" />
<rect x="1124.3" y="1144.2" width="21.9" height="359.3" fill="none" stroke="#888" stroke-width="1.6" />
<text x="1150" y="1150" font-size="24">1</text>
<text x="1150" y="1221.5" font-size="24">0.8</text>
<text x="1150" y="1293.6" font-size="24">0.6</text>
<text x="1150" y="1365" font-size="24">0.4</text>
<text x="1150" y="1437" font-size="24">0.2</text>
<text x="1150" y="1506" font-size="24">0</text>
<text x="558" y="1613.5" font-size="28.5">% total</text>
<text x="558" y="1647" font-size="28.5">cells</text>
<text x="739.5" y="1612" font-size="27.5" text-anchor="middle">4%</text>
<text x="797" y="1612" font-size="27.5" text-anchor="middle">1%</text>
<text x="867" y="1612" font-size="27.5" text-anchor="middle">0.5%</text>
<text x="939" y="1612" font-size="27.5" text-anchor="middle">12%</text>
<text x="1013" y="1612" font-size="27.5" text-anchor="middle">10%</text>
<text x="1078.7" y="1612" font-size="27.5" text-anchor="middle">2%</text>
<text x="1134" y="1602" font-size="27.5">r</text>
<text x="680.5" y="1671.8" font-size="28" text-anchor="end">20</text>
<text x="680.5" y="1741.6" font-size="28" text-anchor="end">60</text>
<text x="680.5" y="1809.4" font-size="28" text-anchor="end">100</text>
<text x="680.5" y="1879" font-size="28" text-anchor="end">140</text>
<text x="680.5" y="1948.3" font-size="28" text-anchor="end">180</text>
<rect x="701.5" y="1629.78" width="68" height="1.99" fill="#f77f7f" />
<rect x="701.5" y="1631.52" width="68" height="1.99" fill="#f79292" />
<rect x="701.5" y="1633.26" width="68" height="1.99" fill="#f79292" />
<rect x="701.5" y="1635" width="68" height="1.99" fill="#f79292" />
<rect x="701.5" y="1636.74" width="68" height="1.99" fill="#f7a4a4" />
<rect x="701.5" y="1638.48" width="68" height="1.99" fill="#f7a4a4" />
<rect x="701.5" y="1640.22" width="68" height="1.99" fill="#f7a4a4" />
<rect x="701.5" y="1641.96" width="68" height="1.99" fill="#f79292" />
<rect x="701.5" y="1643.7" width="68" height="1.99" fill="#f79292" />
<rect x="701.5" y="1645.44" width="68" height="1.99" fill="#f7a4a4" />
<rect x="701.5" y="1647.18" width="68" height="1.99" fill="#f79292" />
<rect x="701.5" y="1648.92" width="68" height="1.99" fill="#f79292" />
<rect x="701.5" y="1650.66" width="68" height="1.99" fill="#f7a4a4" />
<rect x="701.5" y="1652.4" width="68" height="1.99" fill="#f79292" />
<rect x="701.5" y="1654.14" width="68" height="1.99" fill="#f7a4a4" />
<rect x="701.5" y="1655.88" width="68" height="1.99" fill="#f77f7f" />
<rect x="701.5" y="1657.62" width="68" height="1.99" fill="#f7a4a4" />
<rect x="701.5" y="1659.36" width="68" height="1.99" fill="#f79292" />
<rect x="701.5" y="1661.1" width="68" height="1.99" fill="#f79292" />
<rect x="701.5" y="1662.84" width="68" height="1.99" fill="#f79292" />
<rect x="701.5" y="1664.58" width="68" height="1.99" fill="#f79292" />
<rect x="701.5" y="1666.32" width="68" height="1.99" fill="#f79292" />
<rect x="701.5" y="1668.06" width="68" height="1.99" fill="#f79292" />
<rect x="701.5" y="1669.8" width="68" height="1.99" fill="#f79292" />
<rect x="701.5" y="1671.54" width="68" height="1.99" fill="#f7a4a4" />
<rect x="701.5" y="1673.28" width="68" height="1.99" fill="#f7a4a4" />
<rect x="701.5" y="1675.02" width="68" height="1.99" fill="#f7a4a4" />
<rect x="701.5" y="1676.76" width="68" height="1.99" fill="#f79292" />
<rect x="701.5" y="1678.5" width="68" height="1.99" fill="#f7a4a4" />
<rect x="701.5" y="1680.24" width="68" height="1.99" fill="#f77f7f" />
<rect x="701.5" y="1681.98" width="68" height="1.99" fill="#f79292" />
<rect x="701.5" y="1683.72" width="68" height="1.99" fill="#f79292" />
<rect x="701.5" y="1685.46" width="68" height="1.99" fill="#f7a4a4" />
<rect x="701.5" y="1687.2" width="68" height="1.99" fill="#f7a4a4" />
<rect x="701.5" y="1688.94" width="68" height="1.99" fill="#f79292" />
<rect x="701.5" y="1690.68" width="68" height="1.99" fill="#f77f7f" />
<rect x="701.5" y="1692.42" width="68" height="1.99" fill="#f79292" />
<rect x="701.5" y="1694.16" width="68" height="1.99" fill="#f79292" />
<rect x="701.5" y="1695.9" width="68" height="1.99" fill="#f79292" />
<rect x="701.5" y="1697.64" width="68" height="0.42" fill="#f79292" />
<rect x="769.5" y="1640.92" width="69" height="1.64" fill="#f79292" />
<rect x="769.5" y="1651.36" width="69" height="1.64" fill="#f79292" />
<rect x="769.5" y="1683.38" width="69" height="1.99" fill="#f77f7f" />
<rect x="769.5" y="1685.12" width="69" height="1.99" fill="#f7a4a4" />
<rect x="769.5" y="1688.6" width="69" height="1.99" fill="#f79292" />
<rect x="769.5" y="1690.34" width="69" height="1.99" fill="#f79292" />
<rect x="769.5" y="1692.08" width="69" height="1.99" fill="#f79292" />
<rect x="769.5" y="1695.56" width="69" height="1.99" fill="#f79292" />
<rect x="769.5" y="1697.3" width="69" height="1.99" fill="#f79292" />
<rect x="769.5" y="1699.04" width="69" height="1.99" fill="#f7a4a4" />
<rect x="769.5" y="1700.78" width="69" height="1.99" fill="#f7a4a4" />
<rect x="769.5" y="1702.52" width="69" height="1.99" fill="#f7a4a4" />
<rect x="769.5" y="1704.26" width="69" height="1.99" fill="#f79292" />
<rect x="769.5" y="1706" width="69" height="1.99" fill="#f79292" />
<rect x="838.5" y="1710.52" width="69" height="1.99" fill="#f7a4a4" />
<rect x="838.5" y="1712.26" width="69" height="1.99" fill="#f79292" />
<rect x="838.5" y="1714" width="69" height="1.99" fill="#f79292" />
<rect x="838.5" y="1715.74" width="69" height="1.29" fill="#f79292" />
<rect x="907.5" y="1629.78" width="69.5" height="1.99" fill="#f77f7f" />
<rect x="907.5" y="1631.52" width="69.5" height="1.99" fill="#f77f7f" />
<rect x="907.5" y="1633.26" width="69.5" height="1.99" fill="#f76d6d" />
<rect x="907.5" y="1635" width="69.5" height="1.82" fill="#f76d6d" />
<rect x="907.5" y="1640.92" width="69.5" height="1.99" fill="#f76d6d" />
<rect x="907.5" y="1642.66" width="69.5" height="1.99" fill="#f77f7f" />
<rect x="907.5" y="1646.14" width="69.5" height="1.99" fill="#f77f7f" />
<rect x="907.5" y="1647.88" width="69.5" height="1.99" fill="#f76d6d" />
<rect x="907.5" y="1649.62" width="69.5" height="1.99" fill="#f76d6d" />
<rect x="907.5" y="1651.36" width="69.5" height="1.99" fill="#f75b5b" />
<rect x="907.5" y="1660.06" width="69.5" height="1.99" fill="#f79292" />
<rect x="907.5" y="1661.8" width="69.5" height="1.99" fill="#f79292" />
<rect x="907.5" y="1663.54" width="69.5" height="1.99" fill="#f77f7f" />
<rect x="907.5" y="1665.28" width="69.5" height="1.99" fill="#f79292" />
<rect x="907.5" y="1667.02" width="69.5" height="1.99" fill="#f79292" />
<rect x="907.5" y="1668.76" width="69.5" height="1.99" fill="#f77f7f" />
<rect x="907.5" y="1670.5" width="69.5" height="1.99" fill="#f79292" />
<rect x="907.5" y="1675.72" width="69.5" height="1.99" fill="#f77f7f" />
<rect x="907.5" y="1677.46" width="69.5" height="1.99" fill="#f77f7f" />
<rect x="907.5" y="1679.2" width="69.5" height="1.99" fill="#f77f7f" />
<rect x="907.5" y="1684.42" width="69.5" height="1.99" fill="#f77f7f" />
<rect x="907.5" y="1691.38" width="69.5" height="1.99" fill="#f79292" />
<rect x="907.5" y="1694.86" width="69.5" height="1.99" fill="#f77f7f" />
<rect x="907.5" y="1696.6" width="69.5" height="1.99" fill="#f79292" />
<rect x="907.5" y="1698.34" width="69.5" height="1.99" fill="#f77f7f" />
<rect x="907.5" y="1700.08" width="69.5" height="1.99" fill="#f77f7f" />
<rect x="907.5" y="1703.56" width="69.5" height="1.99" fill="#f79292" />
<rect x="907.5" y="1705.3" width="69.5" height="1.99" fill="#f79292" />
<rect x="907.5" y="1707.04" width="69.5" height="1.99" fill="#f79292" />
<rect x="907.5" y="1717.48" width="69.5" height="1.99" fill="#f77f7f" />
<rect x="907.5" y="1719.22" width="69.5" height="1.99" fill="#f79292" />
<rect x="907.5" y="1720.96" width="69.5" height="1.99" fill="#f77f7f" />
<rect x="907.5" y="1722.7" width="69.5" height="1.99" fill="#f79292" />
<rect x="907.5" y="1724.44" width="69.5" height="1.99" fill="#f77f7f" />
<rect x="907.5" y="1726.18" width="69.5" height="1.99" fill="#f79292" />
<rect x="907.5" y="1727.92" width="69.5" height="1.99" fill="#f77f7f" />
<rect x="907.5" y="1729.66" width="69.5" height="1.99" fill="#f79292" />
<rect x="907.5" y="1731.4" width="69.5" height="1.99" fill="#f77f7f" />
<rect x="907.5" y="1733.14" width="69.5" height="1.99" fill="#f77f7f" />
<rect x="907.5" y="1734.88" width="69.5" height="1.99" fill="#f77f7f" />
<rect x="907.5" y="1736.62" width="69.5" height="1.99" fill="#f77f7f" />
<rect x="907.5" y="1738.36" width="69.5" height="1.99" fill="#f79292" />
<rect x="907.5" y="1740.1" width="69.5" height="1.99" fill="#f77f7f" />
<rect x="907.5" y="1741.84" width="69.5" height="1.99" fill="#f79292" />
<rect x="907.5" y="1743.58" width="69.5" height="1.99" fill="#f77f7f" />
<rect x="907.5" y="1745.32" width="69.5" height="1.99" fill="#f77f7f" />
<rect x="907.5" y="1747.06" width="69.5" height="1.99" fill="#f77f7f" />
<rect x="907.5" y="1748.8" width="69.5" height="1.99" fill="#f79292" />
<rect x="907.5" y="1750.54" width="69.5" height="1.99" fill="#f79292" />
<rect x="907.5" y="1752.28" width="69.5" height="1.99" fill="#f79292" />
<rect x="907.5" y="1754.02" width="69.5" height="1.99" fill="#f79292" />
<rect x="907.5" y="1755.76" width="69.5" height="1.99" fill="#f77f7f" />
<rect x="907.5" y="1757.5" width="69.5" height="1.99" fill="#f77f7f" />
<rect x="907.5" y="1759.24" width="69.5" height="1.99" fill="#f77f7f" />
<rect x="907.5" y="1760.98" width="69.5" height="1.99" fill="#f76d6d" />
<rect x="907.5" y="1762.72" width="69.5" height="1.99" fill="#f79292" />
<rect x="907.5" y="1764.46" width="69.5" height="1.99" fill="#f77f7f" />
<rect x="907.5" y="1766.2" width="69.5" height="1.99" fill="#f76d6d" />
<rect x="907.5" y="1767.94" width="69.5" height="1.99" fill="#f79292" />
<rect x="907.5" y="1769.68" width="69.5" height="1.99" fill="#f79292" />
<rect x="907.5" y="1771.42" width="69.5" height="1.99" fill="#f77f7f" />
<rect x="907.5" y="1773.16" width="69.5" height="1.99" fill="#f77f7f" />
<rect x="907.5" y="1774.9" width="69.5" height="1.99" fill="#f77f7f" />
<rect x="907.5" y="1776.64" width="69.5" height="1.99" fill="#f77f7f" />
<rect x="907.5" y="1778.38" width="69.5" height="1.99" fill="#f77f7f" />
<rect x="907.5" y="1780.12" width="69.5" height="1.99" fill="#f77f7f" />
<rect x="907.5" y="1781.86" width="69.5" height="1.99" fill="#f77f7f" />
<rect x="907.5" y="1783.6" width="69.5" height="1.99" fill="#f79292" />
<rect x="907.5" y="1785.34" width="69.5" height="1.99" fill="#f79292" />
<rect x="907.5" y="1787.08" width="69.5" height="1.99" fill="#f77f7f" />
<rect x="907.5" y="1788.82" width="69.5" height="1.99" fill="#f79292" />
<rect x="907.5" y="1790.56" width="69.5" height="1.99" fill="#f79292" />
<rect x="907.5" y="1792.3" width="69.5" height="1.99" fill="#f77f7f" />
<rect x="907.5" y="1794.04" width="69.5" height="1.99" fill="#f79292" />
<rect x="907.5" y="1795.78" width="69.5" height="1.99" fill="#f77f7f" />
<rect x="907.5" y="1797.52" width="69.5" height="1.99" fill="#f77f7f" />
<rect x="907.5" y="1799.26" width="69.5" height="1.99" fill="#f77f7f" />
<rect x="907.5" y="1801" width="69.5" height="1.99" fill="#f77f7f" />
<rect x="907.5" y="1802.74" width="69.5" height="1.99" fill="#f77f7f" />
<rect x="907.5" y="1804.48" width="69.5" height="1.99" fill="#f79292" />
<rect x="907.5" y="1806.22" width="69.5" height="1.99" fill="#f77f7f" />
<rect x="907.5" y="1807.96" width="69.5" height="1.99" fill="#f77f7f" />
<rect x="907.5" y="1809.7" width="69.5" height="1.99" fill="#f79292" />
<rect x="907.5" y="1811.44" width="69.5" height="1.99" fill="#f77f7f" />
<rect x="907.5" y="1813.18" width="69.5" height="1.99" fill="#f77f7f" />
<rect x="907.5" y="1814.92" width="69.5" height="1.99" fill="#f79292" />
<rect x="907.5" y="1816.66" width="69.5" height="1.99" fill="#f77f7f" />
<rect x="907.5" y="1818.4" width="69.5" height="1.99" fill="#f76d6d" />
<rect x="907.5" y="1820.14" width="69.5" height="1.99" fill="#f79292" />
<rect x="907.5" y="1821.88" width="69.5" height="1.99" fill="#f77f7f" />
<rect x="907.5" y="1823.62" width="69.5" height="1.99" fill="#f77f7f" />
<rect x="907.5" y="1825.36" width="69.5" height="1.99" fill="#f77f7f" />
<rect x="907.5" y="1827.1" width="69.5" height="1.99" fill="#f77f7f" />
<rect x="907.5" y="1828.84" width="69.5" height="1.99" fill="#f77f7f" />
<rect x="907.5" y="1830.58" width="69.5" height="1.99" fill="#f79292" />
<rect x="907.5" y="1832.32" width="69.5" height="1.99" fill="#f77f7f" />
<rect x="907.5" y="1834.06" width="69.5" height="1.99" fill="#f77f7f" />
<rect x="907.5" y="1835.8" width="69.5" height="1.99" fill="#f79292" />
<rect x="907.5" y="1837.54" width="69.5" height="1.99" fill="#f77f7f" />
<rect x="907.5" y="1839.28" width="69.5" height="1.99" fill="#f77f7f" />
<rect x="907.5" y="1841.02" width="69.5" height="1.99" fill="#f79292" />
<rect x="907.5" y="1842.76" width="69.5" height="1.99" fill="#f77f7f" />
<rect x="907.5" y="1844.5" width="69.5" height="1.99" fill="#f77f7f" />
<rect x="907.5" y="1846.24" width="69.5" height="1.99" fill="#f77f7f" />
<rect x="907.5" y="1847.98" width="69.5" height="1.99" fill="#f77f7f" />
<rect x="907.5" y="1849.72" width="69.5" height="1.99" fill="#f79292" />
<rect x="907.5" y="1851.46" width="69.5" height="1.99" fill="#f77f7f" />
<rect x="907.5" y="1853.2" width="69.5" height="1.99" fill="#f77f7f" />
<rect x="907.5" y="1854.94" width="69.5" height="1.99" fill="#f79292" />
<rect x="907.5" y="1856.68" width="69.5" height="1.99" fill="#f79292" />
<rect x="907.5" y="1858.42" width="69.5" height="1.99" fill="#f79292" />
<rect x="907.5" y="1860.16" width="69.5" height="1.99" fill="#f79292" />
<rect x="907.5" y="1861.9" width="69.5" height="1.99" fill="#f77f7f" />
<rect x="907.5" y="1863.64" width="69.5" height="1.99" fill="#f77f7f" />
<rect x="907.5" y="1865.38" width="69.5" height="1.99" fill="#f77f7f" />
<rect x="907.5" y="1867.12" width="69.5" height="1.99" fill="#f77f7f" />
<rect x="907.5" y="1868.86" width="69.5" height="1.99" fill="#f76d6d" />
<rect x="907.5" y="1870.6" width="69.5" height="1.99" fill="#f79292" />
<rect x="907.5" y="1872.34" width="69.5" height="1.99" fill="#f79292" />
<rect x="907.5" y="1874.08" width="69.5" height="1.99" fill="#f77f7f" />
<rect x="907.5" y="1875.82" width="69.5" height="1.99" fill="#f77f7f" />
<rect x="907.5" y="1877.56" width="69.5" height="1.99" fill="#f79292" />
<rect x="907.5" y="1879.3" width="69.5" height="1.99" fill="#f79292" />
<rect x="907.5" y="1881.04" width="69.5" height="1.99" fill="#f77f7f" />
<rect x="907.5" y="1882.78" width="69.5" height="1.99" fill="#f77f7f" />
<rect x="907.5" y="1884.52" width="69.5" height="1.99" fill="#f79292" />
<rect x="907.5" y="1886.26" width="69.5" height="1.99" fill="#f77f7f" />
<rect x="907.5" y="1888" width="69.5" height="1.99" fill="#f79292" />
<rect x="907.5" y="1889.74" width="69.5" height="1.99" fill="#f77f7f" />
<rect x="907.5" y="1891.48" width="69.5" height="1.99" fill="#f77f7f" />
<rect x="907.5" y="1893.22" width="69.5" height="1.99" fill="#f77f7f" />
<rect x="907.5" y="1894.96" width="69.5" height="1.99" fill="#f79292" />
<rect x="907.5" y="1896.7" width="69.5" height="1.99" fill="#f77f7f" />
<rect x="907.5" y="1898.44" width="69.5" height="1.99" fill="#f77f7f" />
<rect x="907.5" y="1900.18" width="69.5" height="1.99" fill="#f79292" />
<rect x="907.5" y="1901.92" width="69.5" height="1.99" fill="#f77f7f" />
<rect x="907.5" y="1903.66" width="69.5" height="1.99" fill="#f79292" />
<rect x="907.5" y="1905.4" width="69.5" height="1.99" fill="#f77f7f" />
<rect x="907.5" y="1907.14" width="69.5" height="1.99" fill="#f77f7f" />
<rect x="907.5" y="1908.88" width="69.5" height="1.99" fill="#f77f7f" />
<rect x="907.5" y="1910.62" width="69.5" height="1.99" fill="#f79292" />
<rect x="907.5" y="1912.36" width="69.5" height="1.99" fill="#f77f7f" />
<rect x="977" y="1629.78" width="69" height="1.99" fill="#f79292" />
<rect x="977" y="1633.26" width="69" height="1.99" fill="#f79292" />
<rect x="977" y="1635.7" width="69" height="1.99" fill="#f77f7f" />
<rect x="977" y="1637.44" width="69" height="1.99" fill="#f7a4a4" />
<rect x="977" y="1640.92" width="69" height="1.99" fill="#f79292" />
<rect x="977" y="1647.88" width="69" height="1.99" fill="#f76d6d" />
<rect x="977" y="1651.36" width="69" height="1.99" fill="#f77f7f" />
<rect x="977" y="1653.1" width="69" height="1.99" fill="#f77f7f" />
<rect x="977" y="1654.84" width="69" height="1.99" fill="#f76d6d" />
<rect x="977" y="1656.58" width="69" height="1.99" fill="#f77f7f" />
<rect x="977" y="1658.32" width="69" height="1.99" fill="#f76d6d" />
<rect x="977" y="1660.06" width="69" height="1.99" fill="#f77f7f" />
<rect x="977" y="1661.8" width="69" height="1.99" fill="#f77f7f" />
<rect x="977" y="1663.54" width="69" height="1.99" fill="#f77f7f" />
<rect x="977" y="1665.28" width="69" height="1.99" fill="#f76d6d" />
<rect x="977" y="1667.02" width="69" height="1.99" fill="#f79292" />
<rect x="977" y="1668.76" width="69" height="1.99" fill="#f79292" />
<rect x="977" y="1675.72" width="69" height="1.99" fill="#f79292" />
<rect x="977" y="1679.2" width="69" height="1.99" fill="#f77f7f" />
<rect x="977" y="1680.94" width="69" height="1.99" fill="#f77f7f" />
<rect x="977" y="1691.38" width="69" height="1.99" fill="#f77f7f" />
<rect x="977" y="1693.12" width="69" height="1.99" fill="#f76d6d" />
<rect x="977" y="1694.86" width="69" height="1.99" fill="#f79292" />
<rect x="977" y="1698.34" width="69" height="1.99" fill="#f79292" />
<rect x="977" y="1700.08" width="69" height="1.99" fill="#f77f7f" />
<rect x="977" y="1701.82" width="69" height="1.99" fill="#f79292" />
<rect x="977" y="1705.3" width="69" height="1.99" fill="#f77f7f" />
<rect x="977" y="1708.78" width="69" height="1.99" fill="#f79292" />
<rect x="977" y="1712.26" width="69" height="1.99" fill="#f77f7f" />
<rect x="977" y="1714" width="69" height="1.99" fill="#f79292" />
<rect x="977" y="1717.48" width="69" height="1.99" fill="#f77f7f" />
<rect x="977" y="1719.22" width="69" height="1.99" fill="#f77f7f" />
<rect x="977" y="1720.96" width="69" height="1.99" fill="#f77f7f" />
<rect x="977" y="1722.7" width="69" height="1.99" fill="#f77f7f" />
<rect x="977" y="1724.44" width="69" height="1.99" fill="#f77f7f" />
<rect x="977" y="1726.18" width="69" height="1.99" fill="#f79292" />
<rect x="977" y="1727.92" width="69" height="1.99" fill="#f76d6d" />
<rect x="977" y="1729.66" width="69" height="1.99" fill="#f77f7f" />
<rect x="977" y="1731.4" width="69" height="1.99" fill="#f77f7f" />
<rect x="977" y="1733.14" width="69" height="1.99" fill="#f77f7f" />
<rect x="977" y="1734.88" width="69" height="1.99" fill="#f77f7f" />
<rect x="977" y="1736.62" width="69" height="1.99" fill="#f77f7f" />
<rect x="977" y="1738.36" width="69" height="1.99" fill="#f77f7f" />
<rect x="977" y="1740.1" width="69" height="1.99" fill="#f77f7f" />
<rect x="977" y="1741.84" width="69" height="1.99" fill="#f7a4a4" />
<rect x="977" y="1743.58" width="69" height="1.99" fill="#f77f7f" />
<rect x="977" y="1745.32" width="69" height="1.99" fill="#f79292" />
<rect x="977" y="1748.8" width="69" height="1.99" fill="#f79292" />
<rect x="977" y="1757.5" width="69" height="1.99" fill="#f79292" />
<rect x="977" y="1759.24" width="69" height="1.99" fill="#f7a4a4" />
<rect x="977" y="1762.72" width="69" height="1.99" fill="#f77f7f" />
<rect x="977" y="1764.46" width="69" height="1.99" fill="#f79292" />
<rect x="977" y="1767.94" width="69" height="1.99" fill="#f77f7f" />
<rect x="977" y="1778.38" width="69" height="1.99" fill="#f79292" />
<rect x="977" y="1781.86" width="69" height="1.99" fill="#f77f7f" />
<rect x="977" y="1783.6" width="69" height="1.99" fill="#f77f7f" />
<rect x="977" y="1785.34" width="69" height="1.99" fill="#f79292" />
<rect x="977" y="1787.08" width="69" height="1.99" fill="#f79292" />
<rect x="977" y="1794.04" width="69" height="1.99" fill="#f77f7f" />
<rect x="977" y="1795.78" width="69" height="1.99" fill="#f77f7f" />
<rect x="977" y="1799.26" width="69" height="1.99" fill="#f77f7f" />
<rect x="977" y="1801" width="69" height="1.99" fill="#f79292" />
<rect x="977" y="1802.74" width="69" height="1.99" fill="#f77f7f" />
<rect x="977" y="1807.96" width="69" height="1.99" fill="#f76d6d" />
<rect x="977" y="1809.7" width="69" height="1.99" fill="#f76d6d" />
<rect x="977" y="1811.44" width="69" height="1.99" fill="#f79292" />
<rect x="977" y="1813.18" width="69" height="1.99" fill="#f76d6d" />
<rect x="977" y="1814.92" width="69" height="1.99" fill="#f77f7f" />
<rect x="977" y="1818.4" width="69" height="1.99" fill="#f77f7f" />
<rect x="977" y="1820.14" width="69" height="1.99" fill="#f7a4a4" />
<rect x="977" y="1821.88" width="69" height="1.99" fill="#f76d6d" />
<rect x="977" y="1823.62" width="69" height="1.99" fill="#f77f7f" />
<rect x="977" y="1827.1" width="69" height="1.99" fill="#f79292" />
<rect x="977" y="1828.84" width="69" height="1.99" fill="#f77f7f" />
<rect x="977" y="1832.32" width="69" height="1.99" fill="#f79292" />
<rect x="977" y="1834.06" width="69" height="1.99" fill="#f77f7f" />
<rect x="977" y="1837.54" width="69" height="1.99" fill="#f77f7f" />
<rect x="977" y="1841.02" width="69" height="1.99" fill="#f77f7f" />
<rect x="977" y="1842.76" width="69" height="1.99" fill="#f79292" />
<rect x="977" y="1847.98" width="69" height="1.99" fill="#f79292" />
<rect x="977" y="1849.72" width="69" height="1.99" fill="#f79292" />
<rect x="977" y="1851.46" width="69" height="1.99" fill="#f77f7f" />
<rect x="977" y="1853.2" width="69" height="1.99" fill="#f77f7f" />
<rect x="977" y="1854.94" width="69" height="1.99" fill="#f77f7f" />
<rect x="977" y="1856.68" width="69" height="1.99" fill="#f79292" />
<rect x="977" y="1858.42" width="69" height="1.99" fill="#f77f7f" />
<rect x="977" y="1860.16" width="69" height="1.99" fill="#f79292" />
<rect x="977" y="1861.9" width="69" height="1.99" fill="#f77f7f" />
<rect x="977" y="1863.64" width="69" height="1.99" fill="#f79292" />
<rect x="977" y="1865.38" width="69" height="1.99" fill="#f79292" />
<rect x="977" y="1867.12" width="69" height="1.99" fill="#f77f7f" />
<rect x="977" y="1868.86" width="69" height="1.99" fill="#f77f7f" />
<rect x="977" y="1870.6" width="69" height="1.99" fill="#f76d6d" />
<rect x="977" y="1872.34" width="69" height="1.99" fill="#f79292" />
<rect x="977" y="1874.08" width="69" height="1.99" fill="#f76d6d" />
<rect x="977" y="1875.82" width="69" height="1.99" fill="#f79292" />
<rect x="977" y="1881.04" width="69" height="1.99" fill="#f77f7f" />
<rect x="977" y="1882.78" width="69" height="1.99" fill="#f77f7f" />
<rect x="977" y="1884.52" width="69" height="1.99" fill="#f79292" />
<rect x="977" y="1888" width="69" height="1.99" fill="#f77f7f" />
<rect x="977" y="1891.48" width="69" height="1.99" fill="#f79292" />
<rect x="977" y="1893.22" width="69" height="1.99" fill="#f76d6d" />
<rect x="977" y="1894.96" width="69" height="1.99" fill="#f77f7f" />
<rect x="977" y="1898.44" width="69" height="1.99" fill="#f79292" />
<rect x="977" y="1900.18" width="69" height="1.99" fill="#f79292" />
<rect x="977" y="1901.92" width="69" height="1.99" fill="#f79292" />
<rect x="977" y="1905.4" width="69" height="1.99" fill="#f77f7f" />
<rect x="977" y="1907.14" width="69" height="1.99" fill="#f77f7f" />
<rect x="977" y="1908.88" width="69" height="1.99" fill="#f7a4a4" />
<rect x="977" y="1910.62" width="69" height="1.99" fill="#f76d6d" />
<rect x="977" y="1912.36" width="69" height="1.99" fill="#f79292" />
<rect x="977" y="1914.1" width="69" height="1.99" fill="#f77f7f" />
<rect x="977" y="1915.84" width="69" height="1.99" fill="#f79292" />
<rect x="977" y="1917.58" width="69" height="1.99" fill="#f7a4a4" />
<rect x="977" y="1919.32" width="69" height="1.99" fill="#f77f7f" />
<rect x="977" y="1921.06" width="69" height="1.99" fill="#f7a4a4" />
<rect x="977" y="1922.8" width="69" height="1.99" fill="#f7a4a4" />
<rect x="977" y="1924.54" width="69" height="1.99" fill="#f79292" />
<rect x="977" y="1926.28" width="69" height="1.99" fill="#f77f7f" />
<rect x="977" y="1928.02" width="69" height="1.99" fill="#f79292" />
<rect x="977" y="1929.76" width="69" height="1.99" fill="#f79292" />
<rect x="977" y="1931.5" width="69" height="1.99" fill="#f79292" />
<rect x="977" y="1933.24" width="69" height="1.99" fill="#f7a4a4" />
<rect x="977" y="1934.98" width="69" height="1.99" fill="#f79292" />
<rect x="977" y="1936.72" width="69" height="1.99" fill="#f79292" />
<rect x="977" y="1938.46" width="69" height="1.99" fill="#f7a4a4" />
<rect x="977" y="1940.2" width="69" height="1.99" fill="#f79292" />
<rect x="977" y="1941.94" width="69" height="1.99" fill="#f79292" />
<rect x="1046" y="1638.31" width="68.5" height="1.99" fill="#f7a4a4" />
<rect x="1046" y="1815.79" width="68.5" height="1.99" fill="#f7a4a4" />
<rect x="1046" y="1850.59" width="68.5" height="1.99" fill="#f7a4a4" />
<rect x="1046" y="1945.42" width="68.5" height="1.99" fill="#f79292" />
<rect x="1046" y="1947.16" width="68.5" height="1.99" fill="#f79292" />
<rect x="1046" y="1948.9" width="68.5" height="1.99" fill="#f79292" />
<rect x="1046" y="1950.64" width="68.5" height="1.99" fill="#f79292" />
<rect x="1046" y="1952.38" width="68.5" height="1.99" fill="#f77f7f" />
<rect x="1046" y="1954.12" width="68.5" height="1.99" fill="#f77f7f" />
<rect x="1046" y="1955.86" width="68.5" height="1.99" fill="#f77f7f" />
<rect x="1046" y="1957.6" width="68.5" height="1.99" fill="#f77f7f" />
<rect x="1046" y="1959.34" width="68.5" height="1.99" fill="#f79292" />
<rect x="1046" y="1961.08" width="68.5" height="1.99" fill="#f79292" />
<rect x="1046" y="1962.82" width="68.5" height="1.99" fill="#f79292" />
<rect x="1046" y="1964.56" width="68.5" height="1.99" fill="#f77f7f" />
<rect x="1046" y="1966.3" width="68.5" height="1.99" fill="#f79292" />
<rect x="1046" y="1968.04" width="68.5" height="1.99" fill="#f79292" />
<rect x="1046" y="1969.78" width="68.5" height="1.99" fill="#f79292" />
<rect x="1046" y="1971.52" width="68.5" height="1.99" fill="#f79292" />
<rect x="1046" y="1973.26" width="68.5" height="1.99" fill="#f79292" />
<rect x="1046" y="1975" width="68.5" height="1.99" fill="#f79292" />
<rect x="1046" y="1976.74" width="68.5" height="1.99" fill="#f79292" />
<rect x="1046" y="1978.48" width="68.5" height="1.99" fill="#f79292" />
<rect x="1046" y="1980.22" width="68.5" height="1.29" fill="#f79292" />
<rect x="701.6" y="1626" width="415" height="356" fill="none" stroke="#555" stroke-width="3" />
<line x1="702" y1="1697" x2="706" y2="1697" stroke="#555" stroke-width="2" />
<line x1="702" y1="1766" x2="706" y2="1766" stroke="#555" stroke-width="2" />
<line x1="702" y1="1836" x2="706" y2="1836" stroke="#555" stroke-width="2" />
<line x1="702" y1="1906" x2="706" y2="1906" stroke="#555" stroke-width="2" />
<rect x="1124.3" y="1855.48" width="21.9" height="26.08" fill="#f7b6b6" />
<rect x="1124.3" y="1829.71" width="21.9" height="26.08" fill="#f79292" />
<rect x="1124.3" y="1803.93" width="21.9" height="26.08" fill="#f79292" />
<rect x="1124.3" y="1778.16" width="21.9" height="26.08" fill="#f76d6d" />
<rect x="1124.3" y="1752.38" width="21.9" height="26.08" fill="#f75b5b" />
<rect x="1124.3" y="1726.6" width="21.9" height="26.08" fill="#f74949" />
<rect x="1124.3" y="1700.83" width="21.9" height="26.08" fill="#f74949" />
<rect x="1124.3" y="1675.05" width="21.9" height="26.08" fill="#f72424" />
<rect x="1124.3" y="1649.28" width="21.9" height="26.08" fill="#f72424" />
<rect x="1124.3" y="1623.5" width="21.9" height="26.08" fill="#f70000" />
<rect x="1124.3" y="1623.5" width="21.9" height="358" fill="none" stroke="#888" stroke-width="1.6" />
<text x="1150" y="1629" font-size="24">1</text>
<text x="1150" y="1699.7" font-size="24">0.8</text>
<text x="1150" y="1771.5" font-size="24">0.6</text>
<text x="1150" y="1843" font-size="24">0.4</text>
<text x="1150" y="1915" font-size="24">0.2</text>
<text x="1150" y="1985" font-size="24">0</text>
<text x="687.6" y="1539" font-size="28.8" font-weight="bold" textLength="329.4" lengthAdjust="spacingAndGlyphs">+ 59% inactive (290/483)</text>
<text x="687.6" y="2013" font-size="28.8" font-weight="bold" textLength="345" lengthAdjust="spacingAndGlyphs">+ 82% inactive (897/1099)</text>
</g>
<g>
<text x="1260.5" y="983" font-size="58">f</text>
<text x="1475" y="971" font-size="28.7">DMSO</text>
<text x="1696" y="971" font-size="28.7">Optovin</text>
<line x1="1410" y1="986.6" x2="1610" y2="986.6" stroke="#555" stroke-width="3.2" />
<line x1="1656.7" y1="986.6" x2="1854.5" y2="986.6" stroke="#555" stroke-width="3.2" />
<text transform="translate(1415.5 1084.5) rotate(-45)" font-size="29">Stim</text>
<text transform="translate(1465 1083.5) rotate(-45)" font-size="28">Motor<tspan dx="4" dy="8" font-size="15.5">stim</tspan></text>
<text transform="translate(1525.5 1083.5) rotate(-45)" font-size="28">Motor<tspan dx="4" dy="8" font-size="15.5">spon</tspan></text>
<text transform="translate(1650 1084.5) rotate(-45)" font-size="29">Stim</text>
<text transform="translate(1699.5 1083.5) rotate(-45)" font-size="28">Motor<tspan dx="4" dy="8" font-size="15.5">stim</tspan></text>
<text transform="translate(1761.5 1083.5) rotate(-45)" font-size="28">Motor<tspan dx="4" dy="8" font-size="15.5">spon</tspan></text>
<text x="1305" y="1125.5" font-size="28.5" textLength="70" lengthAdjust="spacingAndGlyphs"># fish</text>
<text x="1399" y="1125.5" font-size="27.2">12/13</text>
<text x="1477.7" y="1125.5" font-size="27.2">4/13</text>
<text x="1542.7" y="1125.5" font-size="27.2">3/13</text>
<text x="1609" y="1125.5" font-size="27.2">13/13</text>
<text x="1690.8" y="1125.5" font-size="27.2">13/13</text>
<text x="1769.4" y="1125.5" font-size="27.2">3/13</text>
<text x="1855.5" y="1125.5" font-size="28.5" textLength="69.5" lengthAdjust="spacingAndGlyphs">fish #</text>
<text x="1392.5" y="1189.4" font-size="28" text-anchor="end">20</text>
<text x="1392.5" y="1266.7" font-size="28" text-anchor="end">60</text>
<text x="1392.5" y="1350.5" font-size="28" text-anchor="end">100</text>
<text x="1392.5" y="1426.9" font-size="28" text-anchor="end">140</text>
<text x="1392.5" y="1503.6" font-size="28" text-anchor="end">180</text>
<rect x="1411.5" y="1146.3" width="67.5" height="11.3" fill="#ffc400" />
<rect x="1411.5" y="1157.4" width="67.5" height="9" fill="#00f000" />
<rect x="1411.5" y="1166.2" width="67.5" height="11.2" fill="#00c8f8" />
<rect x="1411.5" y="1177.2" width="67.5" height="7.7" fill="#0000ff" />
<rect x="1411.5" y="1184.7" width="67.5" height="3.8" fill="#6a00ff" />
<rect x="1411.5" y="1188.3" width="67.5" height="20" fill="#ff00cc" />
<rect x="1479" y="1153" width="69" height="3.7" fill="#ffc400" />
<rect x="1479" y="1164" width="69" height="1.8" fill="#00f070" />
<rect x="1479" y="1188.3" width="69" height="5.5" fill="#ff00cc" />
<rect x="1479" y="1194.9" width="69" height="3.3" fill="#ff00cc" />
<rect x="1479" y="1200.6" width="69" height="2.4" fill="#ff00cc" />
<rect x="1479" y="1203.8" width="69" height="2.3" fill="#ff00cc" />
<rect x="1479" y="1208.1" width="69" height="4.6" fill="#ff0066" />
<rect x="1548" y="1212.5" width="69" height="4.7" fill="#6a00ff" />
<rect x="1617" y="1146.5" width="70" height="11.1" fill="#ffc400" />
<rect x="1617" y="1158.5" width="70" height="2.2" fill="#70f090" />
<rect x="1617" y="1161.8" width="70" height="4.6" fill="#00f070" />
<rect x="1617" y="1166.2" width="70" height="2" fill="#00c8f8" />
<rect x="1617" y="1169.5" width="70" height="1.7" fill="#00c8f8" />
<rect x="1617" y="1172.8" width="70" height="4.6" fill="#00c8f8" />
<rect x="1617" y="1177.2" width="70" height="4.6" fill="#0000ff" />
<rect x="1617" y="1183.8" width="70" height="13.4" fill="#ff00cc" />
<rect x="1617" y="1199.3" width="70" height="4.6" fill="#ff00cc" />
<rect x="1617" y="1206" width="70" height="4.5" fill="#c800ff" />
<rect x="1617" y="1212.5" width="70" height="4.7" fill="#6a00ff" />
<rect x="1617" y="1219.2" width="70" height="13.4" fill="#ff6a00" />
<rect x="1617" y="1232.4" width="70" height="9" fill="#ffc400" />
<rect x="1617" y="1241.2" width="70" height="22.3" fill="#ccff00" />
<rect x="1617" y="1263.3" width="70" height="9" fill="#66ee00" />
<rect x="1617" y="1272.1" width="70" height="13.4" fill="#00f000" />
<rect x="1617" y="1285.3" width="70" height="15.7" fill="#00f070" />
<rect x="1617" y="1300.8" width="70" height="11.2" fill="#00c8f8" />
<rect x="1617" y="1311.8" width="70" height="51" fill="#0068ff" />
<rect x="1617" y="1362.6" width="70" height="9" fill="#0000ff" />
<rect x="1617" y="1371.4" width="70" height="28.9" fill="#c800ff" />
<rect x="1617" y="1400.1" width="70" height="35.5" fill="#ff00cc" />
<rect x="1617" y="1435.4" width="70" height="17.8" fill="#ff0066" />
<rect x="1687" y="1150" width="69" height="8.8" fill="#ffc400" />
<rect x="1687" y="1158.6" width="69" height="3.6" fill="#70f090" />
<rect x="1687" y="1173" width="69" height="2.7" fill="#00c8f8" />
<rect x="1687" y="1176.4" width="69" height="5.3" fill="#0000ff" />
<rect x="1687" y="1183" width="69" height="2.2" fill="#ff70ff" />
<rect x="1687" y="1185" width="69" height="6.2" fill="#c800ff" />
<rect x="1687" y="1191" width="69" height="5.2" fill="#ff00cc" />
<rect x="1687" y="1199" width="69" height="2.2" fill="#ff00cc" />
<rect x="1687" y="1203" width="69" height="2.2" fill="#ff00cc" />
<rect x="1687" y="1211" width="69" height="6.2" fill="#6a00ff" />
<rect x="1687" y="1219.7" width="69" height="10.3" fill="#ff6a00" />
<rect x="1687" y="1229.8" width="69" height="12.1" fill="#ffc400" />
<rect x="1687" y="1246.8" width="69" height="12" fill="#ccff00" />
<rect x="1687" y="1263.7" width="69" height="2" fill="#ccff00" />
<rect x="1687" y="1267" width="69" height="2" fill="#ccff00" />
<rect x="1687" y="1274" width="69" height="8.6" fill="#00f000" />
<rect x="1687" y="1295" width="69" height="2.7" fill="#00f070" />
<rect x="1687" y="1299" width="69" height="2.2" fill="#00f0d0" />
<rect x="1687" y="1301" width="69" height="10.2" fill="#00c8f8" />
<rect x="1687" y="1311" width="69" height="8.9" fill="#0068ff" />
<rect x="1687" y="1321" width="69" height="2.2" fill="#0068ff" />
<rect x="1687" y="1325" width="69" height="3.2" fill="#0068ff" />
<rect x="1687" y="1330" width="69" height="2.2" fill="#0068ff" />
<rect x="1687" y="1334" width="69" height="2.7" fill="#0068ff" />
<rect x="1687" y="1341.6" width="69" height="2.1" fill="#0068ff" />
<rect x="1687" y="1345.5" width="69" height="2.2" fill="#0068ff" />
<rect x="1687" y="1349.5" width="69" height="3.7" fill="#0068ff" />
<rect x="1687" y="1354.5" width="69" height="3.7" fill="#0068ff" />
<rect x="1687" y="1362" width="69" height="8.7" fill="#0000ff" />
<rect x="1687" y="1372" width="69" height="5.2" fill="#c800ff" />
<rect x="1687" y="1378" width="69" height="4.2" fill="#ff70ff" />
<rect x="1687" y="1387.5" width="69" height="12" fill="#c800ff" />
<rect x="1687" y="1401.9" width="69" height="24.7" fill="#ff00cc" />
<rect x="1687" y="1431.5" width="69" height="9.5" fill="#ff0066" />
<rect x="1687" y="1443" width="69" height="9.2" fill="#ff0066" />
<rect x="1687" y="1453" width="69" height="4.2" fill="#ff6a00" />
<rect x="1687" y="1457" width="69" height="4.7" fill="#ffc400" />
<rect x="1687" y="1463.7" width="69" height="6.2" fill="#0000ff" />
<rect x="1687" y="1469.7" width="69" height="7.8" fill="#c800ff" />
<rect x="1756" y="1159.5" width="68" height="1.7" fill="#70f090" />
<rect x="1756" y="1176.5" width="68" height="1.5" fill="#0000ff" />
<rect x="1756" y="1213.3" width="68" height="1.7" fill="#6a00ff" />
<rect x="1756" y="1313.8" width="68" height="1.9" fill="#0068ff" />
<rect x="1756" y="1317" width="68" height="1.7" fill="#0068ff" />
<rect x="1756" y="1364.2" width="68" height="1.6" fill="#0000ff" />
<rect x="1756" y="1480.7" width="68" height="8.5" fill="#00f000" />
<rect x="1756" y="1489" width="68" height="19.2" fill="#0068ff" />
<rect x="1410" y="1144" width="415" height="365.5" fill="none" stroke="#555" stroke-width="3" />
<line x1="1411" y1="1218" x2="1415" y2="1218" stroke="#555" stroke-width="2" />
<line x1="1411" y1="1296" x2="1415" y2="1296" stroke="#555" stroke-width="2" />
<line x1="1411" y1="1374" x2="1415" y2="1374" stroke="#555" stroke-width="2" />
<line x1="1411" y1="1453" x2="1415" y2="1453" stroke="#555" stroke-width="2" />
<rect x="1834" y="1146.8" width="22" height="24.35" fill="#ff0066" />
<rect x="1834" y="1170.85" width="22" height="24.35" fill="#ff00cc" />
<rect x="1834" y="1194.89" width="22" height="24.35" fill="#c800ff" />
<rect x="1834" y="1218.94" width="22" height="24.35" fill="#6a00ff" />
<rect x="1834" y="1242.99" width="22" height="24.35" fill="#0000ff" />
<rect x="1834" y="1267.03" width="22" height="24.35" fill="#0068ff" />
<rect x="1834" y="1291.08" width="22" height="24.35" fill="#00c8f8" />
<rect x="1834" y="1315.13" width="22" height="24.35" fill="#00f0d0" />
<rect x="1834" y="1339.17" width="22" height="24.35" fill="#00f070" />
<rect x="1834" y="1363.22" width="22" height="24.35" fill="#00f000" />
<rect x="1834" y="1387.27" width="22" height="24.35" fill="#66ee00" />
<rect x="1834" y="1411.31" width="22" height="24.35" fill="#ccff00" />
<rect x="1834" y="1435.36" width="22" height="24.35" fill="#ffc400" />
<rect x="1834" y="1459.41" width="22" height="24.35" fill="#ff6a00" />
<rect x="1834" y="1146.8" width="22" height="360.7" fill="none" stroke="#888" stroke-width="1.6" />
<text x="1858" y="1191.5" font-size="25">12</text>
<text x="1858" y="1248.3" font-size="25">10</text>
<text x="1858" y="1305" font-size="25">8</text>
<text x="1858" y="1357.6" font-size="25">6</text>
<text x="1858" y="1407.6" font-size="25">4</text>
<text x="1858" y="1453.4" font-size="25">2</text>
<text x="1858" y="1507.6" font-size="25">0</text>
<text x="1306" y="1604" font-size="28.5" textLength="70" lengthAdjust="spacingAndGlyphs"># fish</text>
<text x="1399.5" y="1604" font-size="27.2">11/13</text>
<text x="1480.5" y="1604" font-size="27.2">5/13</text>
<text x="1543" y="1604" font-size="27.2">3/13</text>
<text x="1610.5" y="1604" font-size="27.2">13/13</text>
<text x="1689.5" y="1604" font-size="27.2">13/13</text>
<text x="1768.5" y="1604" font-size="27.2">3/13</text>
<text x="1849" y="1604" font-size="28.5" textLength="69.5" lengthAdjust="spacingAndGlyphs">fish #</text>
<text x="1390" y="1662.7" font-size="28" text-anchor="end">20</text>
<text x="1390" y="1733.3" font-size="28" text-anchor="end">60</text>
<text x="1390" y="1804" font-size="28" text-anchor="end">100</text>
<text x="1390" y="1874.5" font-size="28" text-anchor="end">140</text>
<text x="1390" y="1946" font-size="28" text-anchor="end">180</text>
<rect x="1408.5" y="1624" width="66.5" height="4.6" fill="#ffc400" />
<rect x="1408.5" y="1628.4" width="66.5" height="13.4" fill="#00f000" />
<rect x="1408.5" y="1641.6" width="66.5" height="11.3" fill="#00c8f8" />
<rect x="1408.5" y="1652.7" width="66.5" height="6.5" fill="#0068ff" />
<rect x="1408.5" y="1659" width="66.5" height="9.2" fill="#0000ff" />
<rect x="1408.5" y="1668" width="66.5" height="9.2" fill="#c800ff" />
<rect x="1408.5" y="1677" width="66.5" height="17.8" fill="#ff00cc" />
<rect x="1475" y="1638.7" width="70" height="1.9" fill="#00f070" />
<rect x="1475" y="1648.8" width="70" height="2" fill="#0068ff" />
<rect x="1475" y="1679" width="70" height="2.2" fill="#ff00cc" />
<rect x="1475" y="1683" width="70" height="2.2" fill="#ff00cc" />
<rect x="1475" y="1687" width="70" height="2.2" fill="#ff00cc" />
<rect x="1475" y="1690.6" width="70" height="2" fill="#ff00cc" />
<rect x="1475" y="1696.8" width="70" height="9" fill="#ff0066" />
<rect x="1545" y="1706.5" width="69" height="8.2" fill="#6a00ff" />
<rect x="1614" y="1625.3" width="68.5" height="3.3" fill="#ffc400" />
<rect x="1614" y="1630.6" width="68.5" height="6.8" fill="#00f000" />
<rect x="1614" y="1641.6" width="68.5" height="6.6" fill="#00c8f8" />
<rect x="1614" y="1648" width="68.5" height="7.1" fill="#0068ff" />
<rect x="1614" y="1654.9" width="68.5" height="6.8" fill="#0000ff" />
<rect x="1614" y="1672" width="68.5" height="1.7" fill="#6a00ff" />
<rect x="1614" y="1683.6" width="68.5" height="9" fill="#ff00cc" />
<rect x="1614" y="1699" width="68.5" height="2" fill="#ff70ff" />
<rect x="1614" y="1702.5" width="68.5" height="2" fill="#ff70ff" />
<rect x="1614" y="1714.5" width="68.5" height="6.7" fill="#ff6a00" />
<rect x="1614" y="1721" width="68.5" height="9.2" fill="#ffc400" />
<rect x="1614" y="1730" width="68.5" height="13.2" fill="#ccff00" />
<rect x="1614" y="1743" width="68.5" height="13.6" fill="#66ee00" />
<rect x="1614" y="1756.4" width="68.5" height="13.4" fill="#00f000" />
<rect x="1614" y="1769.6" width="68.5" height="22.3" fill="#00c8f8" />
<rect x="1614" y="1791.7" width="68.5" height="50.9" fill="#0068ff" />
<rect x="1614" y="1842.4" width="68.5" height="11.3" fill="#0000ff" />
<rect x="1614" y="1853.5" width="68.5" height="11.2" fill="#6a00ff" />
<rect x="1614" y="1864.5" width="68.5" height="17.9" fill="#c800ff" />
<rect x="1614" y="1882.2" width="68.5" height="17.8" fill="#ff00cc" />
<rect x="1614" y="1899.8" width="68.5" height="11.2" fill="#ff0066" />
<rect x="1682.5" y="1625.3" width="69.5" height="3.3" fill="#ffc400" />
<rect x="1682.5" y="1630.6" width="69.5" height="2.6" fill="#66ee00" />
<rect x="1682.5" y="1634.5" width="69.5" height="2.9" fill="#00f000" />
<rect x="1682.5" y="1643" width="69.5" height="2.2" fill="#00c8f8" />
<rect x="1682.5" y="1648" width="69.5" height="7.1" fill="#0068ff" />
<rect x="1682.5" y="1654.9" width="69.5" height="6.8" fill="#0000ff" />
<rect x="1682.5" y="1671" width="69.5" height="2.2" fill="#ff70ff" />
<rect x="1682.5" y="1675" width="69.5" height="2.2" fill="#ff70ff" />
<rect x="1682.5" y="1680" width="69.5" height="2.2" fill="#ff00cc" />
<rect x="1682.5" y="1683.6" width="69.5" height="9" fill="#ff00cc" />
<rect x="1682.5" y="1695" width="69.5" height="2.2" fill="#ff70ff" />
<rect x="1682.5" y="1699" width="69.5" height="2.2" fill="#ff70ff" />
<rect x="1682.5" y="1703" width="69.5" height="2.2" fill="#ff00cc" />
<rect x="1682.5" y="1714.5" width="69.5" height="4.7" fill="#ff6a00" />
<rect x="1682.5" y="1719" width="69.5" height="2.2" fill="#ff0066" />
<rect x="1682.5" y="1721" width="69.5" height="9.2" fill="#ffc400" />
<rect x="1682.5" y="1730" width="69.5" height="13.2" fill="#ccff00" />
<rect x="1682.5" y="1743" width="69.5" height="4.2" fill="#66ee00" />
<rect x="1682.5" y="1747" width="69.5" height="4.2" fill="#66ee00" />
<rect x="1682.5" y="1753" width="69.5" height="3.6" fill="#66ee00" />
<rect x="1682.5" y="1762" width="69.5" height="2" fill="#00f000" />
<rect x="1682.5" y="1763.8" width="69.5" height="4.2" fill="#00f000" />
<rect x="1682.5" y="1767.8" width="69.5" height="2" fill="#00f000" />
<rect x="1682.5" y="1771.4" width="69.5" height="2.2" fill="#00c8f8" />
<rect x="1682.5" y="1773.4" width="69.5" height="2" fill="#00c8f8" />
<rect x="1682.5" y="1775.2" width="69.5" height="3.8" fill="#00c8f8" />
<rect x="1682.5" y="1778.8" width="69.5" height="2.2" fill="#00c8f8" />
<rect x="1682.5" y="1780.8" width="69.5" height="3.8" fill="#00c8f8" />
<rect x="1682.5" y="1784.4" width="69.5" height="2" fill="#00c8f8" />
<rect x="1682.5" y="1786.2" width="69.5" height="3.8" fill="#00c8f8" />
<rect x="1682.5" y="1789.8" width="69.5" height="2" fill="#00c8f8" />
<rect x="1682.5" y="1791.6" width="69.5" height="0.3" fill="#00c8f8" />
<rect x="1682.5" y="1795.3" width="69.5" height="2" fill="#0068ff" />
<rect x="1682.5" y="1797.1" width="69.5" height="3.8" fill="#0068ff" />
<rect x="1682.5" y="1800.7" width="69.5" height="2" fill="#0068ff" />
<rect x="1682.5" y="1804.3" width="69.5" height="2" fill="#0068ff" />
<rect x="1682.5" y="1806.1" width="69.5" height="4.2" fill="#0068ff" />
<rect x="1682.5" y="1810.1" width="69.5" height="2.2" fill="#0068ff" />
<rect x="1682.5" y="1819.3" width="69.5" height="4.2" fill="#0068ff" />
<rect x="1682.5" y="1826.9" width="69.5" height="4.2" fill="#0068ff" />
<rect x="1682.5" y="1830.9" width="69.5" height="2.2" fill="#0068ff" />
<rect x="1682.5" y="1832.9" width="69.5" height="2.2" fill="#0068ff" />
<rect x="1682.5" y="1834.9" width="69.5" height="2.2" fill="#0068ff" />
<rect x="1682.5" y="1836.9" width="69.5" height="2.2" fill="#0068ff" />
<rect x="1682.5" y="1842.4" width="69.5" height="4.2" fill="#0000ff" />
<rect x="1682.5" y="1848.2" width="69.5" height="3.8" fill="#0000ff" />
<rect x="1682.5" y="1853.5" width="69.5" height="4.2" fill="#6a00ff" />
<rect x="1682.5" y="1864.5" width="69.5" height="3.8" fill="#c800ff" />
<rect x="1682.5" y="1875.9" width="69.5" height="3.8" fill="#c800ff" />
<rect x="1682.5" y="1882.2" width="69.5" height="4.2" fill="#ff00cc" />
<rect x="1682.5" y="1886.2" width="69.5" height="2.2" fill="#ff00cc" />
<rect x="1682.5" y="1888.2" width="69.5" height="2.2" fill="#ff00cc" />
<rect x="1682.5" y="1890.2" width="69.5" height="3.8" fill="#ff00cc" />
<rect x="1682.5" y="1893.8" width="69.5" height="2.2" fill="#ff00cc" />
<rect x="1682.5" y="1895.8" width="69.5" height="2.2" fill="#ff00cc" />
<rect x="1682.5" y="1897.8" width="69.5" height="2.2" fill="#ff00cc" />
<rect x="1682.5" y="1899.8" width="69.5" height="11.2" fill="#ff0066" />
<rect x="1682.5" y="1910.8" width="69.5" height="4.7" fill="#ff6a00" />
<rect x="1682.5" y="1915.3" width="69.5" height="15.6" fill="#0000ff" />
<rect x="1682.5" y="1930.7" width="69.5" height="9" fill="#ff00cc" />
<rect x="1752" y="1637.9" width="69" height="1.7" fill="#70f090" />
<rect x="1752" y="1814.3" width="69" height="1.6" fill="#0068ff" />
<rect x="1752" y="1848.3" width="69" height="1.7" fill="#6a00ff" />
<rect x="1752" y="1940.4" width="69" height="17" fill="#00f000" />
<rect x="1752" y="1957.2" width="69" height="25.8" fill="#0068ff" />
<rect x="1407" y="1621.8" width="415" height="361" fill="none" stroke="#555" stroke-width="3" />
<line x1="1408" y1="1688" x2="1412" y2="1688" stroke="#555" stroke-width="2" />
<line x1="1408" y1="1758.5" x2="1412" y2="1758.5" stroke="#555" stroke-width="2" />
<line x1="1408" y1="1829" x2="1412" y2="1829" stroke="#555" stroke-width="2" />
<line x1="1408" y1="1899.5" x2="1412" y2="1899.5" stroke="#555" stroke-width="2" />
<line x1="1408" y1="1970" x2="1412" y2="1970" stroke="#555" stroke-width="2" />
<rect x="1835" y="1624" width="21.8" height="24.22" fill="#ff0066" />
<rect x="1835" y="1647.92" width="21.8" height="24.22" fill="#ff00cc" />
<rect x="1835" y="1671.84" width="21.8" height="24.22" fill="#c800ff" />
<rect x="1835" y="1695.76" width="21.8" height="24.22" fill="#6a00ff" />
<rect x="1835" y="1719.68" width="21.8" height="24.22" fill="#0000ff" />
<rect x="1835" y="1743.6" width="21.8" height="24.22" fill="#0068ff" />
<rect x="1835" y="1767.52" width="21.8" height="24.22" fill="#00c8f8" />
<rect x="1835" y="1791.44" width="21.8" height="24.22" fill="#00f0d0" />
<rect x="1835" y="1815.36" width="21.8" height="24.22" fill="#00f070" />
<rect x="1835" y="1839.28" width="21.8" height="24.22" fill="#00f000" />
<rect x="1835" y="1863.2" width="21.8" height="24.22" fill="#66ee00" />
<rect x="1835" y="1887.12" width="21.8" height="24.22" fill="#ccff00" />
<rect x="1835" y="1911.04" width="21.8" height="24.22" fill="#ffc400" />
<rect x="1835" y="1934.96" width="21.8" height="24.22" fill="#ff6a00" />
<rect x="1835" y="1624" width="21.8" height="358.8" fill="none" stroke="#888" stroke-width="1.6" />
<text x="1858" y="1668.5" font-size="25">12</text>
<text x="1858" y="1724.5" font-size="25">10</text>
<text x="1858" y="1781" font-size="25">8</text>
<text x="1858" y="1832.5" font-size="25">6</text>
<text x="1858" y="1882.5" font-size="25">4</text>
<text x="1858" y="1930" font-size="25">2</text>
<text x="1858" y="1983" font-size="25">0</text>
</g>
<g>
<text x="1" y="2104" font-size="56">g</text>
<text x="96.5" y="2103.3" font-size="28.7" fill="#6a22e6">Stim &gt; Motor</text>
<text x="261.6" y="2112" font-size="16.5" fill="#6a22e6">stim</text>
<text x="301" y="2103.3" font-size="28.7" fill="#6a22e6">(DMSO)</text>
<text x="95.2" y="2141.4" font-size="28.7" fill="#8f8ff0">Motor</text>
<text x="168.9" y="2151.6" font-size="16.5" fill="#8f8ff0">stim</text>
<text x="208.2" y="2141.4" font-size="28.7" fill="#8f8ff0">&gt; Stim (DMSO)</text>
<text x="489.5" y="2103.6" font-size="28.7" fill="#c21c6c">Stim &gt; Motor</text>
<text x="653.8" y="2112.8" font-size="16.5" fill="#c21c6c">stim</text>
<text x="690.5" y="2103.6" font-size="28.7" fill="#c21c6c">(Optovin)</text>
<text x="489.5" y="2141.6" font-size="28.7" fill="#f07cb6">Motor</text>
<text x="563" y="2151.9" font-size="16.5" fill="#f07cb6">stim</text>
<text x="611.3" y="2141.6" font-size="28.7" fill="#f07cb6">&gt; Stim (Optovin)</text>
<text x="76.5" y="2267" font-size="28.5" text-anchor="middle" transform="rotate(-90 76.5 2267)">OXT</text>
<text x="78" y="2519" font-size="28.2" text-anchor="middle" transform="rotate(-90 78 2519)">non-OXT</text>
<text x="421.5" y="2205" font-size="28.7">aPO</text>
<text x="421.5" y="2273.6" font-size="28.7">pPO</text>
<text x="434" y="2362.5" font-size="28.7">PT</text>
<text x="429" y="2456.5" font-size="28.7">PO</text>
<text x="431.7" y="2598.7" font-size="28.7">PT</text>
<text x="137" y="2675" font-size="28.7">Ventral</text>
<text x="294.6" y="2675" font-size="28.7">Dorsal</text>
<polygon points="141.77,2224.42 159.91,2224.42 159.91,2282.46 141.77,2282.46" fill="#dddddd" filter="url(#bl6)"/>
<polygon points="279.62,2188.14 317.71,2188.14 317.71,2278.83 279.62,2278.83" fill="#dddddd" filter="url(#bl6)"/>
<polygon points="337.67,2188.14 388.46,2188.14 388.46,2271.58 337.67,2271.58" fill="#dddddd" filter="url(#bl6)"/>
<polygon points="139.95,2313.3 161.72,2313.3 161.72,2365.9 139.95,2365.9" fill="#dddddd" filter="url(#bl6)"/>
<circle cx="149.02" cy="2213.53" r="6.3" fill="none" stroke="#c2c2c2" stroke-width="1.8" />
<circle cx="158.09" cy="2214.44" r="6.3" fill="none" stroke="#c2c2c2" stroke-width="1.8" />
<circle cx="147.21" cy="2229.86" r="6.3" fill="none" stroke="#c2c2c2" stroke-width="1.8" />
<circle cx="147.21" cy="2238.93" r="6.3" fill="none" stroke="#c2c2c2" stroke-width="1.8" />
<circle cx="145.39" cy="2249.81" r="6.3" fill="none" stroke="#c2c2c2" stroke-width="1.8" />
<circle cx="146.3" cy="2260.69" r="6.3" fill="none" stroke="#c2c2c2" stroke-width="1.8" />
<circle cx="147.21" cy="2271.58" r="6.3" fill="none" stroke="#c2c2c2" stroke-width="1.8" />
<circle cx="149.93" cy="2278.83" r="6.3" fill="none" stroke="#c2c2c2" stroke-width="1.8" />
<circle cx="154.46" cy="2233.49" r="6.3" fill="none" stroke="#c2c2c2" stroke-width="1.8" />
<circle cx="154.46" cy="2246.18" r="6.3" fill="none" stroke="#c2c2c2" stroke-width="1.8" />
<circle cx="152.65" cy="2257.07" r="6.3" fill="none" stroke="#c2c2c2" stroke-width="1.8" />
<circle cx="156.28" cy="2271.58" r="6.3" fill="none" stroke="#c2c2c2" stroke-width="1.8" />
<circle cx="164.44" cy="2293.34" r="6.3" fill="none" stroke="#c2c2c2" stroke-width="1.8" />
<circle cx="171.7" cy="2300.6" r="6.3" fill="none" stroke="#c2c2c2" stroke-width="1.8" />
<circle cx="169.88" cy="2278.83" r="6.3" fill="none" stroke="#c2c2c2" stroke-width="1.8" />
<circle cx="181.67" cy="2267.95" r="6.3" fill="none" stroke="#c2c2c2" stroke-width="1.8" />
<circle cx="221.58" cy="2188.14" r="6.3" fill="none" stroke="#c2c2c2" stroke-width="1.8" />
<circle cx="245.16" cy="2189.05" r="6.3" fill="none" stroke="#c2c2c2" stroke-width="1.8" />
<circle cx="227.93" cy="2211.72" r="6.3" fill="none" stroke="#c2c2c2" stroke-width="1.8" />
<circle cx="212.51" cy="2211.72" r="6.3" fill="none" stroke="#c2c2c2" stroke-width="1.8" />
<circle cx="198" cy="2226.23" r="6.3" fill="none" stroke="#c2c2c2" stroke-width="1.8" />
<circle cx="214.32" cy="2228.04" r="6.3" fill="none" stroke="#c2c2c2" stroke-width="1.8" />
<circle cx="241.53" cy="2224.42" r="6.3" fill="none" stroke="#c2c2c2" stroke-width="1.8" />
<circle cx="236.09" cy="2238.93" r="6.3" fill="none" stroke="#c2c2c2" stroke-width="1.8" />
<circle cx="207.07" cy="2260.69" r="6.3" fill="none" stroke="#c2c2c2" stroke-width="1.8" />
<circle cx="217.95" cy="2262.51" r="6.3" fill="none" stroke="#c2c2c2" stroke-width="1.8" />
<circle cx="228.83" cy="2262.51" r="6.3" fill="none" stroke="#c2c2c2" stroke-width="1.8" />
<circle cx="239.72" cy="2260.69" r="6.3" fill="none" stroke="#c2c2c2" stroke-width="1.8" />
<circle cx="143.58" cy="2222.6" r="6.3" fill="none" stroke="#c2c2c2" stroke-width="1.8" />
<circle cx="156.28" cy="2224.42" r="6.3" fill="none" stroke="#c2c2c2" stroke-width="1.8" />
<circle cx="147.21" cy="2315.11" r="6.3" fill="none" stroke="#c2c2c2" stroke-width="1.8" />
<circle cx="152.65" cy="2316.93" r="6.3" fill="none" stroke="#c2c2c2" stroke-width="1.8" />
<circle cx="145.39" cy="2325.99" r="6.3" fill="none" stroke="#c2c2c2" stroke-width="1.8" />
<circle cx="154.46" cy="2329.62" r="6.3" fill="none" stroke="#c2c2c2" stroke-width="1.8" />
<circle cx="147.21" cy="2338.69" r="6.3" fill="none" stroke="#c2c2c2" stroke-width="1.8" />
<circle cx="156.28" cy="2342.32" r="6.3" fill="none" stroke="#c2c2c2" stroke-width="1.8" />
<circle cx="145.39" cy="2347.76" r="6.3" fill="none" stroke="#c2c2c2" stroke-width="1.8" />
<circle cx="147.21" cy="2360.46" r="6.3" fill="none" stroke="#c2c2c2" stroke-width="1.8" />
<circle cx="158.09" cy="2360.46" r="6.3" fill="none" stroke="#c2c2c2" stroke-width="1.8" />
<circle cx="161.72" cy="2374.97" r="6.3" fill="none" stroke="#c2c2c2" stroke-width="1.8" />
<circle cx="174.42" cy="2353.2" r="6.3" fill="none" stroke="#c2c2c2" stroke-width="1.8" />
<circle cx="181.67" cy="2325.99" r="6.3" fill="none" stroke="#c2c2c2" stroke-width="1.8" />
<circle cx="192.56" cy="2316.93" r="6.3" fill="none" stroke="#c2c2c2" stroke-width="1.8" />
<circle cx="201.63" cy="2315.11" r="6.3" fill="none" stroke="#c2c2c2" stroke-width="1.8" />
<circle cx="205.25" cy="2324.18" r="6.3" fill="none" stroke="#c2c2c2" stroke-width="1.8" />
<circle cx="212.51" cy="2329.62" r="6.3" fill="none" stroke="#c2c2c2" stroke-width="1.8" />
<circle cx="216.14" cy="2340.51" r="6.3" fill="none" stroke="#c2c2c2" stroke-width="1.8" />
<circle cx="203.44" cy="2344.13" r="6.3" fill="none" stroke="#c2c2c2" stroke-width="1.8" />
<circle cx="199.81" cy="2356.83" r="6.3" fill="none" stroke="#c2c2c2" stroke-width="1.8" />
<circle cx="228.83" cy="2358.65" r="6.3" fill="none" stroke="#c2c2c2" stroke-width="1.8" />
<circle cx="227.02" cy="2369.53" r="6.3" fill="none" stroke="#c2c2c2" stroke-width="1.8" />
<circle cx="163.53" cy="2344.13" r="6.3" fill="none" stroke="#c2c2c2" stroke-width="1.8" />
<circle cx="205.25" cy="2351.39" r="6.3" fill="none" stroke="#c2c2c2" stroke-width="1.8" />
<circle cx="143.58" cy="2333.25" r="6.3" fill="none" stroke="#c2c2c2" stroke-width="1.8" />
<circle cx="283.25" cy="2184.51" r="6.3" fill="none" stroke="#c2c2c2" stroke-width="1.8" />
<circle cx="292.32" cy="2183.6" r="6.3" fill="none" stroke="#c2c2c2" stroke-width="1.8" />
<circle cx="308.65" cy="2188.14" r="6.3" fill="none" stroke="#c2c2c2" stroke-width="1.8" />
<circle cx="283.25" cy="2211.72" r="6.3" fill="none" stroke="#c2c2c2" stroke-width="1.8" />
<circle cx="279.62" cy="2228.04" r="6.3" fill="none" stroke="#c2c2c2" stroke-width="1.8" />
<circle cx="279.62" cy="2246.18" r="6.3" fill="none" stroke="#c2c2c2" stroke-width="1.8" />
<circle cx="286.88" cy="2264.32" r="6.3" fill="none" stroke="#c2c2c2" stroke-width="1.8" />
<circle cx="294.13" cy="2284.28" r="6.3" fill="none" stroke="#c2c2c2" stroke-width="1.8" />
<circle cx="317.71" cy="2286.09" r="6.3" fill="none" stroke="#c2c2c2" stroke-width="1.8" />
<circle cx="303.2" cy="2199.02" r="6.3" fill="none" stroke="#c2c2c2" stroke-width="1.8" />
<circle cx="310.46" cy="2211.72" r="6.3" fill="none" stroke="#c2c2c2" stroke-width="1.8" />
<circle cx="301.39" cy="2242.56" r="6.3" fill="none" stroke="#c2c2c2" stroke-width="1.8" />
<circle cx="312.27" cy="2253.44" r="6.3" fill="none" stroke="#c2c2c2" stroke-width="1.8" />
<circle cx="303.2" cy="2271.58" r="6.3" fill="none" stroke="#c2c2c2" stroke-width="1.8" />
<circle cx="324.97" cy="2231.67" r="6.3" fill="none" stroke="#c2c2c2" stroke-width="1.8" />
<circle cx="334.04" cy="2233.49" r="6.3" fill="none" stroke="#c2c2c2" stroke-width="1.8" />
<circle cx="343.11" cy="2199.02" r="6.3" fill="none" stroke="#c2c2c2" stroke-width="1.8" />
<circle cx="341.3" cy="2213.53" r="6.3" fill="none" stroke="#c2c2c2" stroke-width="1.8" />
<circle cx="355.81" cy="2180.88" r="6.3" fill="none" stroke="#c2c2c2" stroke-width="1.8" />
<circle cx="373.95" cy="2186.33" r="6.3" fill="none" stroke="#c2c2c2" stroke-width="1.8" />
<circle cx="381.2" cy="2222.6" r="6.3" fill="none" stroke="#c2c2c2" stroke-width="1.8" />
<circle cx="392.08" cy="2229.86" r="6.3" fill="none" stroke="#c2c2c2" stroke-width="1.8" />
<circle cx="384.83" cy="2242.56" r="6.3" fill="none" stroke="#c2c2c2" stroke-width="1.8" />
<circle cx="346.74" cy="2248" r="6.3" fill="none" stroke="#c2c2c2" stroke-width="1.8" />
<circle cx="355.81" cy="2271.58" r="6.3" fill="none" stroke="#c2c2c2" stroke-width="1.8" />
<circle cx="384.83" cy="2267.95" r="6.3" fill="none" stroke="#c2c2c2" stroke-width="1.8" />
<circle cx="364.88" cy="2264.32" r="6.3" fill="none" stroke="#c2c2c2" stroke-width="1.8" />
<circle cx="294.13" cy="2195.39" r="6.3" fill="none" stroke="#c2c2c2" stroke-width="1.8" />
<circle cx="314.09" cy="2229.86" r="6.3" fill="none" stroke="#c2c2c2" stroke-width="1.8" />
<circle cx="352.18" cy="2229.86" r="6.3" fill="none" stroke="#c2c2c2" stroke-width="1.8" />
<circle cx="373.95" cy="2202.65" r="6.3" fill="none" stroke="#c2c2c2" stroke-width="1.8" />
<circle cx="343.11" cy="2264.32" r="6.3" fill="none" stroke="#c2c2c2" stroke-width="1.8" />
<circle cx="373.95" cy="2271.58" r="6.3" fill="none" stroke="#c2c2c2" stroke-width="1.8" />
<circle cx="388.46" cy="2255.25" r="6.3" fill="none" stroke="#c2c2c2" stroke-width="1.8" />
<circle cx="303.2" cy="2306.04" r="6.3" fill="none" stroke="#c2c2c2" stroke-width="1.8" />
<circle cx="305.02" cy="2327.81" r="6.3" fill="none" stroke="#c2c2c2" stroke-width="1.8" />
<circle cx="297.76" cy="2344.13" r="6.3" fill="none" stroke="#c2c2c2" stroke-width="1.8" />
<circle cx="285.06" cy="2351.39" r="6.3" fill="none" stroke="#c2c2c2" stroke-width="1.8" />
<circle cx="290.51" cy="2367.71" r="6.3" fill="none" stroke="#c2c2c2" stroke-width="1.8" />
<circle cx="303.2" cy="2373.16" r="6.3" fill="none" stroke="#c2c2c2" stroke-width="1.8" />
<circle cx="314.99" cy="2386.76" r="6.3" fill="none" stroke="#c2c2c2" stroke-width="1.8" />
<circle cx="328.6" cy="2313.3" r="6.3" fill="none" stroke="#c2c2c2" stroke-width="1.8" />
<circle cx="335.85" cy="2325.99" r="6.3" fill="none" stroke="#c2c2c2" stroke-width="1.8" />
<circle cx="339.48" cy="2338.69" r="6.3" fill="none" stroke="#c2c2c2" stroke-width="1.8" />
<circle cx="350.36" cy="2336.88" r="6.3" fill="none" stroke="#c2c2c2" stroke-width="1.8" />
<circle cx="353.99" cy="2345.95" r="6.3" fill="none" stroke="#c2c2c2" stroke-width="1.8" />
<circle cx="364.88" cy="2348.67" r="6.3" fill="none" stroke="#c2c2c2" stroke-width="1.8" />
<circle cx="343.11" cy="2360.46" r="6.3" fill="none" stroke="#c2c2c2" stroke-width="1.8" />
<circle cx="366.69" cy="2364.09" r="6.3" fill="none" stroke="#c2c2c2" stroke-width="1.8" />
<circle cx="304.48" cy="2253.54" r="6.3" fill="none" stroke="#c2c2c2" stroke-width="1.8" />
<circle cx="311.36" cy="2273.2" r="6.3" fill="none" stroke="#c2c2c2" stroke-width="1.8" />
<circle cx="309.15" cy="2271.23" r="6.3" fill="none" stroke="#c2c2c2" stroke-width="1.8" />
<circle cx="280.78" cy="2226.49" r="6.3" fill="none" stroke="#c2c2c2" stroke-width="1.8" />
<circle cx="317.27" cy="2244.45" r="6.3" fill="none" stroke="#c2c2c2" stroke-width="1.8" />
<circle cx="315.57" cy="2191.97" r="6.3" fill="none" stroke="#c2c2c2" stroke-width="1.8" />
<circle cx="298.34" cy="2205.04" r="6.3" fill="none" stroke="#c2c2c2" stroke-width="1.8" />
<circle cx="301.32" cy="2237.1" r="6.3" fill="none" stroke="#c2c2c2" stroke-width="1.8" />
<circle cx="280.15" cy="2202.11" r="6.3" fill="none" stroke="#c2c2c2" stroke-width="1.8" />
<circle cx="290.78" cy="2270.64" r="6.3" fill="none" stroke="#c2c2c2" stroke-width="1.8" />
<circle cx="310.18" cy="2196.52" r="6.3" fill="none" stroke="#c2c2c2" stroke-width="1.8" />
<circle cx="311.43" cy="2194.48" r="6.3" fill="none" stroke="#c2c2c2" stroke-width="1.8" />
<circle cx="304.26" cy="2193.29" r="6.3" fill="none" stroke="#c2c2c2" stroke-width="1.8" />
<circle cx="279.69" cy="2266.24" r="6.3" fill="none" stroke="#c2c2c2" stroke-width="1.8" />
<circle cx="287.98" cy="2201.99" r="6.3" fill="none" stroke="#c2c2c2" stroke-width="1.8" />
<circle cx="318.83" cy="2266.34" r="6.3" fill="none" stroke="#c2c2c2" stroke-width="1.8" />
<circle cx="291.17" cy="2275.06" r="6.3" fill="none" stroke="#c2c2c2" stroke-width="1.8" />
<circle cx="301.14" cy="2247.28" r="6.3" fill="none" stroke="#c2c2c2" stroke-width="1.8" />
<circle cx="287.79" cy="2273.05" r="6.3" fill="none" stroke="#c2c2c2" stroke-width="1.8" />
<circle cx="307.18" cy="2275.56" r="6.3" fill="none" stroke="#c2c2c2" stroke-width="1.8" />
<circle cx="315.29" cy="2210.15" r="6.3" fill="none" stroke="#c2c2c2" stroke-width="1.8" />
<circle cx="294.04" cy="2197.14" r="6.3" fill="none" stroke="#c2c2c2" stroke-width="1.8" />
<circle cx="285.44" cy="2187.26" r="6.3" fill="none" stroke="#c2c2c2" stroke-width="1.8" />
<circle cx="291.65" cy="2239.96" r="6.3" fill="none" stroke="#c2c2c2" stroke-width="1.8" />
<circle cx="337.85" cy="2244.83" r="6.3" fill="none" stroke="#c2c2c2" stroke-width="1.8" />
<circle cx="355.44" cy="2210.12" r="6.3" fill="none" stroke="#c2c2c2" stroke-width="1.8" />
<circle cx="380.72" cy="2226.23" r="6.3" fill="none" stroke="#c2c2c2" stroke-width="1.8" />
<circle cx="354.28" cy="2226.27" r="6.3" fill="none" stroke="#c2c2c2" stroke-width="1.8" />
<circle cx="374.73" cy="2186.26" r="6.3" fill="none" stroke="#c2c2c2" stroke-width="1.8" />
<circle cx="388.96" cy="2183.04" r="6.3" fill="none" stroke="#c2c2c2" stroke-width="1.8" />
<circle cx="377.11" cy="2260.57" r="6.3" fill="none" stroke="#c2c2c2" stroke-width="1.8" />
<circle cx="338.62" cy="2255.18" r="6.3" fill="none" stroke="#c2c2c2" stroke-width="1.8" />
<circle cx="356.93" cy="2235.45" r="6.3" fill="none" stroke="#c2c2c2" stroke-width="1.8" />
<circle cx="338.14" cy="2185.29" r="6.3" fill="none" stroke="#c2c2c2" stroke-width="1.8" />
<circle cx="347.18" cy="2270.98" r="6.3" fill="none" stroke="#c2c2c2" stroke-width="1.8" />
<circle cx="348" cy="2252.17" r="6.3" fill="none" stroke="#c2c2c2" stroke-width="1.8" />
<circle cx="386.57" cy="2269.74" r="6.3" fill="none" stroke="#c2c2c2" stroke-width="1.8" />
<circle cx="355.78" cy="2214.35" r="6.3" fill="none" stroke="#c2c2c2" stroke-width="1.8" />
<circle cx="365.27" cy="2254.04" r="6.3" fill="none" stroke="#c2c2c2" stroke-width="1.8" />
<circle cx="343.35" cy="2251.47" r="6.3" fill="none" stroke="#c2c2c2" stroke-width="1.8" />
<circle cx="379.6" cy="2261.97" r="6.3" fill="none" stroke="#c2c2c2" stroke-width="1.8" />
<circle cx="339.59" cy="2270.09" r="6.3" fill="none" stroke="#c2c2c2" stroke-width="1.8" />
<circle cx="342.46" cy="2213.02" r="6.3" fill="none" stroke="#c2c2c2" stroke-width="1.8" />
<circle cx="369.8" cy="2267.48" r="6.3" fill="none" stroke="#c2c2c2" stroke-width="1.8" />
<circle cx="355.55" cy="2268.06" r="6.3" fill="none" stroke="#c2c2c2" stroke-width="1.8" />
<circle cx="366.34" cy="2210.35" r="6.3" fill="none" stroke="#c2c2c2" stroke-width="1.8" />
<circle cx="354.33" cy="2197.62" r="6.3" fill="none" stroke="#c2c2c2" stroke-width="1.8" />
<circle cx="341.78" cy="2194.92" r="6.3" fill="none" stroke="#c2c2c2" stroke-width="1.8" />
<circle cx="154.27" cy="2282.23" r="6.3" fill="none" stroke="#c2c2c2" stroke-width="1.8" />
<circle cx="144.7" cy="2215.15" r="6.3" fill="none" stroke="#c2c2c2" stroke-width="1.8" />
<circle cx="159.66" cy="2249.46" r="6.3" fill="none" stroke="#c2c2c2" stroke-width="1.8" />
<circle cx="149.13" cy="2228.51" r="6.3" fill="none" stroke="#c2c2c2" stroke-width="1.8" />
<circle cx="152.54" cy="2270.17" r="6.3" fill="none" stroke="#c2c2c2" stroke-width="1.8" />
<circle cx="150.03" cy="2241.56" r="6.3" fill="none" stroke="#c2c2c2" stroke-width="1.8" />
<circle cx="142.78" cy="2276.52" r="6.3" fill="none" stroke="#c2c2c2" stroke-width="1.8" />
<circle cx="142.36" cy="2246.64" r="6.3" fill="none" stroke="#c2c2c2" stroke-width="1.8" />
<circle cx="156.97" cy="2220.96" r="6.3" fill="none" stroke="#c2c2c2" stroke-width="1.8" />
<circle cx="155.04" cy="2278.91" r="6.3" fill="none" stroke="#c2c2c2" stroke-width="1.8" />
<circle cx="153.67" cy="2357.22" r="6.3" fill="none" stroke="#c2c2c2" stroke-width="1.8" />
<circle cx="142.27" cy="2336.71" r="6.3" fill="none" stroke="#c2c2c2" stroke-width="1.8" />
<circle cx="143.2" cy="2360.52" r="6.3" fill="none" stroke="#c2c2c2" stroke-width="1.8" />
<circle cx="146.37" cy="2337.79" r="6.3" fill="none" stroke="#c2c2c2" stroke-width="1.8" />
<circle cx="161.7" cy="2360.95" r="6.3" fill="none" stroke="#c2c2c2" stroke-width="1.8" />
<circle cx="161.2" cy="2337.81" r="6.3" fill="none" stroke="#c2c2c2" stroke-width="1.8" />
<circle cx="150.58" cy="2353.83" r="6.3" fill="none" stroke="#c2c2c2" stroke-width="1.8" />
<circle cx="150.38" cy="2328.38" r="6.3" fill="none" stroke="#c2c2c2" stroke-width="1.8" />
<circle cx="165.35" cy="2257.07" r="6.9" fill="#6a1ff0" />
<circle cx="171.7" cy="2253.44" r="6.9" fill="#6a1ff0" />
<circle cx="194.37" cy="2241.65" r="6.9" fill="#6a1ff0" />
<circle cx="203.44" cy="2246.18" r="6.9" fill="#6a1ff0" />
<circle cx="225.21" cy="2247.09" r="6.9" fill="#6a1ff0" />
<circle cx="290.51" cy="2216.25" r="6.9" fill="#6a1ff0" />
<circle cx="299.58" cy="2224.42" r="6.9" fill="#6a1ff0" />
<circle cx="301.39" cy="2231.67" r="6.9" fill="#6a1ff0" />
<circle cx="294.13" cy="2233.49" r="6.9" fill="#6a1ff0" />
<circle cx="289.6" cy="2254.35" r="6.9" fill="#6a1ff0" />
<circle cx="358.53" cy="2193.58" r="6.9" fill="#6a1ff0" />
<circle cx="352.18" cy="2212.63" r="6.9" fill="#6a1ff0" />
<circle cx="365.78" cy="2215.35" r="6.9" fill="#6a1ff0" />
<circle cx="303.2" cy="2228.04" r="6.9" fill="#6a1ff0" />
<circle cx="200.72" cy="2209.91" r="6.9" fill="#7d7df5" />
<circle cx="289.6" cy="2269.76" r="6.9" fill="#7d7df5" />
<circle cx="322.25" cy="2258.88" r="6.9" fill="#7d7df5" />
<circle cx="366.69" cy="2254.35" r="6.9" fill="#7d7df5" />
<polygon points="661.44,2189.95 681.39,2184.51 701.34,2186.33 719.48,2206.28 721.3,2246.18 714.04,2271.58 699.53,2286.09 677.76,2293.34 663.25,2271.58 659.62,2224.42" fill="#d8d0d4" filter="url(#bl3)"/>
<circle cx="684.53" cy="2200.46" r="6.3" fill="none" stroke="#c2c2c2" stroke-width="1.8" />
<circle cx="718.82" cy="2252.75" r="6.3" fill="none" stroke="#c2c2c2" stroke-width="1.8" />
<circle cx="690.42" cy="2221.35" r="6.3" fill="none" stroke="#c2c2c2" stroke-width="1.8" />
<circle cx="665.12" cy="2214.15" r="6.3" fill="none" stroke="#c2c2c2" stroke-width="1.8" />
<circle cx="681.91" cy="2270.06" r="6.3" fill="none" stroke="#c2c2c2" stroke-width="1.8" />
<circle cx="707.41" cy="2260.11" r="6.3" fill="none" stroke="#c2c2c2" stroke-width="1.8" />
<circle cx="700.57" cy="2267.19" r="6.3" fill="none" stroke="#c2c2c2" stroke-width="1.8" />
<circle cx="682.04" cy="2261.18" r="6.3" fill="none" stroke="#c2c2c2" stroke-width="1.8" />
<circle cx="676.94" cy="2237.37" r="6.3" fill="none" stroke="#c2c2c2" stroke-width="1.8" />
<circle cx="707.09" cy="2259.7" r="6.3" fill="none" stroke="#c2c2c2" stroke-width="1.8" />
<circle cx="677.75" cy="2287.42" r="6.3" fill="none" stroke="#c2c2c2" stroke-width="1.8" />
<circle cx="699.69" cy="2247.71" r="6.3" fill="none" stroke="#c2c2c2" stroke-width="1.8" />
<circle cx="675.08" cy="2257.61" r="6.3" fill="none" stroke="#c2c2c2" stroke-width="1.8" />
<circle cx="688.17" cy="2273.39" r="6.3" fill="none" stroke="#c2c2c2" stroke-width="1.8" />
<circle cx="699.55" cy="2271.32" r="6.3" fill="none" stroke="#c2c2c2" stroke-width="1.8" />
<circle cx="681.08" cy="2254.61" r="6.3" fill="none" stroke="#c2c2c2" stroke-width="1.8" />
<circle cx="705.13" cy="2274.65" r="6.3" fill="none" stroke="#c2c2c2" stroke-width="1.8" />
<circle cx="681.21" cy="2276.24" r="6.3" fill="none" stroke="#c2c2c2" stroke-width="1.8" />
<circle cx="713.27" cy="2259.43" r="6.3" fill="none" stroke="#c2c2c2" stroke-width="1.8" />
<circle cx="691.58" cy="2242.12" r="6.3" fill="none" stroke="#c2c2c2" stroke-width="1.8" />
<circle cx="669.87" cy="2275.56" r="6.3" fill="none" stroke="#c2c2c2" stroke-width="1.8" />
<circle cx="717.43" cy="2236.45" r="6.3" fill="none" stroke="#c2c2c2" stroke-width="1.8" />
<polygon points="721.3,2191.77 741.25,2186.33 766.64,2188.14 782.97,2206.28 784.78,2251.63 777.53,2278.83 753.95,2286.09 728.55,2278.83 721.3,2246.18" fill="#d8d0d4" filter="url(#bl3)"/>
<circle cx="765.19" cy="2258.12" r="6.3" fill="none" stroke="#c2c2c2" stroke-width="1.8" />
<circle cx="767.66" cy="2203.47" r="6.3" fill="none" stroke="#c2c2c2" stroke-width="1.8" />
<circle cx="770.84" cy="2244.27" r="6.3" fill="none" stroke="#c2c2c2" stroke-width="1.8" />
<circle cx="763.55" cy="2228.31" r="6.3" fill="none" stroke="#c2c2c2" stroke-width="1.8" />
<circle cx="760.89" cy="2263.61" r="6.3" fill="none" stroke="#c2c2c2" stroke-width="1.8" />
<circle cx="761.73" cy="2258.2" r="6.3" fill="none" stroke="#c2c2c2" stroke-width="1.8" />
<circle cx="723.05" cy="2202.29" r="6.3" fill="none" stroke="#c2c2c2" stroke-width="1.8" />
<circle cx="749.3" cy="2251.18" r="6.3" fill="none" stroke="#c2c2c2" stroke-width="1.8" />
<circle cx="735.2" cy="2254.76" r="6.3" fill="none" stroke="#c2c2c2" stroke-width="1.8" />
<circle cx="761.35" cy="2190.5" r="6.3" fill="none" stroke="#c2c2c2" stroke-width="1.8" />
<circle cx="751.23" cy="2208.9" r="6.3" fill="none" stroke="#c2c2c2" stroke-width="1.8" />
<circle cx="724.73" cy="2199.65" r="6.3" fill="none" stroke="#c2c2c2" stroke-width="1.8" />
<circle cx="741.44" cy="2204.44" r="6.3" fill="none" stroke="#c2c2c2" stroke-width="1.8" />
<circle cx="733.57" cy="2189.88" r="6.3" fill="none" stroke="#c2c2c2" stroke-width="1.8" />
<circle cx="750.84" cy="2224.27" r="6.3" fill="none" stroke="#c2c2c2" stroke-width="1.8" />
<circle cx="760.14" cy="2245.2" r="6.3" fill="none" stroke="#c2c2c2" stroke-width="1.8" />
<circle cx="736.4" cy="2276.43" r="6.3" fill="none" stroke="#c2c2c2" stroke-width="1.8" />
<circle cx="721.34" cy="2226.77" r="6.3" fill="none" stroke="#c2c2c2" stroke-width="1.8" />
<circle cx="738.98" cy="2227.23" r="6.3" fill="none" stroke="#c2c2c2" stroke-width="1.8" />
<circle cx="728.6" cy="2269.27" r="6.3" fill="none" stroke="#c2c2c2" stroke-width="1.8" />
<circle cx="745.03" cy="2189.92" r="6.3" fill="none" stroke="#c2c2c2" stroke-width="1.8" />
<circle cx="760.25" cy="2195.78" r="6.3" fill="none" stroke="#c2c2c2" stroke-width="1.8" />
<circle cx="626.97" cy="2189.95" r="6.3" fill="none" stroke="#c2c2c2" stroke-width="1.8" />
<circle cx="541.72" cy="2214.44" r="6.3" fill="none" stroke="#c2c2c2" stroke-width="1.8" />
<circle cx="579.81" cy="2226.23" r="6.3" fill="none" stroke="#c2c2c2" stroke-width="1.8" />
<circle cx="621.53" cy="2226.23" r="6.3" fill="none" stroke="#c2c2c2" stroke-width="1.8" />
<circle cx="616.09" cy="2237.11" r="6.3" fill="none" stroke="#c2c2c2" stroke-width="1.8" />
<circle cx="563.49" cy="2246.18" r="6.3" fill="none" stroke="#c2c2c2" stroke-width="1.8" />
<circle cx="576.18" cy="2240.74" r="6.3" fill="none" stroke="#c2c2c2" stroke-width="1.8" />
<circle cx="590.69" cy="2264.32" r="6.3" fill="none" stroke="#c2c2c2" stroke-width="1.8" />
<circle cx="601.58" cy="2264.32" r="6.3" fill="none" stroke="#c2c2c2" stroke-width="1.8" />
<circle cx="619.72" cy="2260.69" r="6.3" fill="none" stroke="#c2c2c2" stroke-width="1.8" />
<circle cx="563.49" cy="2267.95" r="6.3" fill="none" stroke="#c2c2c2" stroke-width="1.8" />
<circle cx="552.6" cy="2278.83" r="6.3" fill="none" stroke="#c2c2c2" stroke-width="1.8" />
<circle cx="523.58" cy="2244.37" r="6.3" fill="none" stroke="#c2c2c2" stroke-width="1.8" />
<circle cx="523.58" cy="2257.07" r="6.3" fill="none" stroke="#c2c2c2" stroke-width="1.8" />
<circle cx="563.49" cy="2327.81" r="6.3" fill="none" stroke="#c2c2c2" stroke-width="1.8" />
<circle cx="596.14" cy="2329.62" r="6.3" fill="none" stroke="#c2c2c2" stroke-width="1.8" />
<circle cx="556.23" cy="2353.2" r="6.3" fill="none" stroke="#c2c2c2" stroke-width="1.8" />
<circle cx="585.25" cy="2360.46" r="6.3" fill="none" stroke="#c2c2c2" stroke-width="1.8" />
<circle cx="607.02" cy="2371.34" r="6.3" fill="none" stroke="#c2c2c2" stroke-width="1.8" />
<circle cx="523.58" cy="2362.27" r="6.3" fill="none" stroke="#c2c2c2" stroke-width="1.8" />
<circle cx="597.95" cy="2338.69" r="6.3" fill="none" stroke="#c2c2c2" stroke-width="1.8" />
<circle cx="686.83" cy="2311.48" r="6.3" fill="none" stroke="#c2c2c2" stroke-width="1.8" />
<circle cx="712.23" cy="2318.74" r="6.3" fill="none" stroke="#c2c2c2" stroke-width="1.8" />
<circle cx="686.83" cy="2333.25" r="6.3" fill="none" stroke="#c2c2c2" stroke-width="1.8" />
<circle cx="717.67" cy="2329.62" r="6.3" fill="none" stroke="#c2c2c2" stroke-width="1.8" />
<circle cx="679.58" cy="2349.58" r="6.3" fill="none" stroke="#c2c2c2" stroke-width="1.8" />
<circle cx="666.88" cy="2356.83" r="6.3" fill="none" stroke="#c2c2c2" stroke-width="1.8" />
<circle cx="723.11" cy="2342.32" r="6.3" fill="none" stroke="#c2c2c2" stroke-width="1.8" />
<circle cx="735.81" cy="2340.51" r="6.3" fill="none" stroke="#c2c2c2" stroke-width="1.8" />
<circle cx="733.99" cy="2351.39" r="6.3" fill="none" stroke="#c2c2c2" stroke-width="1.8" />
<circle cx="748.5" cy="2353.2" r="6.3" fill="none" stroke="#c2c2c2" stroke-width="1.8" />
<circle cx="726.74" cy="2367.71" r="6.3" fill="none" stroke="#c2c2c2" stroke-width="1.8" />
<circle cx="672.32" cy="2373.16" r="6.3" fill="none" stroke="#c2c2c2" stroke-width="1.8" />
<circle cx="685.02" cy="2378.6" r="6.3" fill="none" stroke="#c2c2c2" stroke-width="1.8" />
<circle cx="663.25" cy="2188.14" r="6.3" fill="none" stroke="#c2c2c2" stroke-width="1.8" />
<circle cx="706.78" cy="2186.33" r="6.3" fill="none" stroke="#c2c2c2" stroke-width="1.8" />
<circle cx="768.46" cy="2188.14" r="6.3" fill="none" stroke="#c2c2c2" stroke-width="1.8" />
<circle cx="779.34" cy="2229.86" r="6.3" fill="none" stroke="#c2c2c2" stroke-width="1.8" />
<circle cx="782.97" cy="2257.07" r="6.3" fill="none" stroke="#c2c2c2" stroke-width="1.8" />
<circle cx="786.6" cy="2246.18" r="6.3" fill="none" stroke="#c2c2c2" stroke-width="1.8" />
<circle cx="763.01" cy="2282.46" r="6.3" fill="none" stroke="#c2c2c2" stroke-width="1.8" />
<circle cx="744.88" cy="2284.28" r="6.3" fill="none" stroke="#c2c2c2" stroke-width="1.8" />
<circle cx="585.25" cy="2210.81" r="6.9" fill="#f27ab8" />
<circle cx="532.65" cy="2231.67" r="6.9" fill="#f27ab8" />
<circle cx="530.84" cy="2260.69" r="6.9" fill="#f27ab8" />
<circle cx="543.53" cy="2294.25" r="6.9" fill="#f27ab8" />
<circle cx="541.72" cy="2320.55" r="6.9" fill="#f27ab8" />
<circle cx="572.56" cy="2325.99" r="6.9" fill="#f27ab8" />
<circle cx="599.76" cy="2247.09" r="6.9" fill="#f27ab8" />
<circle cx="539.91" cy="2362.27" r="6.9" fill="#f27ab8" />
<circle cx="610.65" cy="2360.46" r="6.9" fill="#f27ab8" />
<circle cx="749.41" cy="2368.62" r="6.9" fill="#f27ab8" />
<circle cx="697.71" cy="2392.2" r="6.9" fill="#f27ab8" />
<circle cx="603.39" cy="2189.95" r="6.9" fill="#d0156e" />
<circle cx="529.02" cy="2214.44" r="6.9" fill="#d0156e" />
<circle cx="590.69" cy="2213.53" r="6.9" fill="#d0156e" />
<circle cx="608.83" cy="2213.53" r="6.9" fill="#d0156e" />
<circle cx="592.51" cy="2222.6" r="6.9" fill="#d0156e" />
<circle cx="539.91" cy="2238.93" r="6.9" fill="#d0156e" />
<circle cx="536.28" cy="2248" r="6.9" fill="#d0156e" />
<circle cx="547.16" cy="2242.56" r="6.9" fill="#d0156e" />
<circle cx="552.6" cy="2255.25" r="6.9" fill="#d0156e" />
<circle cx="545.35" cy="2258.88" r="6.9" fill="#d0156e" />
<circle cx="584.35" cy="2248" r="6.9" fill="#d0156e" />
<circle cx="610.65" cy="2262.51" r="6.9" fill="#d0156e" />
<circle cx="529.93" cy="2277.02" r="6.9" fill="#d0156e" />
<circle cx="529.02" cy="2271.58" r="6.9" fill="#d0156e" />
<circle cx="552.6" cy="2302.41" r="6.9" fill="#d0156e" />
<circle cx="530.84" cy="2316.93" r="6.9" fill="#d0156e" />
<circle cx="527.21" cy="2325.99" r="6.9" fill="#d0156e" />
<circle cx="578" cy="2315.11" r="6.9" fill="#d0156e" />
<circle cx="592.51" cy="2318.74" r="6.9" fill="#d0156e" />
<circle cx="539" cy="2340.51" r="6.9" fill="#d0156e" />
<circle cx="527.21" cy="2348.67" r="6.9" fill="#d0156e" />
<circle cx="587.07" cy="2344.13" r="6.9" fill="#d0156e" />
<circle cx="543.53" cy="2376.78" r="6.9" fill="#d0156e" />
<circle cx="701.34" cy="2291.53" r="6.9" fill="#d0156e" />
<circle cx="677.76" cy="2287.9" r="6.9" fill="#d0156e" />
<circle cx="693.25" cy="2221.45" r="6.9" fill="#d0156e" />
<circle cx="710.1" cy="2230.12" r="6.9" fill="#d0156e" />
<circle cx="709.76" cy="2254.41" r="6.9" fill="#f27ab8" />
<circle cx="682.41" cy="2199.98" r="6.9" fill="#d0156e" />
<circle cx="696.38" cy="2245.88" r="6.9" fill="#d0156e" />
<circle cx="697.16" cy="2222.72" r="6.9" fill="#d0156e" />
<circle cx="666.28" cy="2246.09" r="6.9" fill="#d0156e" />
<circle cx="697.56" cy="2199.82" r="6.9" fill="#f27ab8" />
<circle cx="698.44" cy="2281.51" r="6.9" fill="#d0156e" />
<circle cx="682.8" cy="2231.49" r="6.9" fill="#f27ab8" />
<circle cx="673.58" cy="2216.24" r="6.9" fill="#d0156e" />
<circle cx="719.6" cy="2225.84" r="6.9" fill="#d0156e" />
<circle cx="696.37" cy="2212.79" r="6.9" fill="#d0156e" />
<circle cx="720.12" cy="2238.53" r="6.9" fill="#f27ab8" />
<circle cx="685.25" cy="2219.25" r="6.9" fill="#f27ab8" />
<circle cx="720.33" cy="2238.03" r="6.9" fill="#d0156e" />
<circle cx="677.29" cy="2236.42" r="6.9" fill="#f27ab8" />
<circle cx="667.14" cy="2252.17" r="6.9" fill="#d0156e" />
<circle cx="686.97" cy="2216.41" r="6.9" fill="#f27ab8" />
<circle cx="707.83" cy="2274.5" r="6.9" fill="#f27ab8" />
<circle cx="676.51" cy="2286.3" r="6.9" fill="#d0156e" />
<circle cx="707.84" cy="2211.25" r="6.9" fill="#f27ab8" />
<circle cx="676.13" cy="2201.35" r="6.9" fill="#f27ab8" />
<circle cx="697.12" cy="2236.17" r="6.9" fill="#f27ab8" />
<circle cx="699.39" cy="2250.23" r="6.9" fill="#f27ab8" />
<circle cx="705.47" cy="2197.37" r="6.9" fill="#f27ab8" />
<circle cx="706.52" cy="2217.24" r="6.9" fill="#d0156e" />
<circle cx="692.52" cy="2221.09" r="6.9" fill="#d0156e" />
<circle cx="677.93" cy="2242.18" r="6.9" fill="#d0156e" />
<circle cx="688.26" cy="2223.8" r="6.9" fill="#f27ab8" />
<circle cx="705.57" cy="2248.81" r="6.9" fill="#f27ab8" />
<circle cx="661.87" cy="2211.98" r="6.9" fill="#f27ab8" />
<circle cx="687.72" cy="2284.27" r="6.9" fill="#d0156e" />
<circle cx="714.38" cy="2243.89" r="6.9" fill="#f27ab8" />
<circle cx="686" cy="2247.16" r="6.9" fill="#d0156e" />
<circle cx="703.3" cy="2253.32" r="6.9" fill="#f27ab8" />
<circle cx="689.34" cy="2283.74" r="6.9" fill="#f27ab8" />
<circle cx="683.4" cy="2227.16" r="6.9" fill="#d0156e" />
<circle cx="712.16" cy="2205.89" r="6.9" fill="#f27ab8" />
<circle cx="677.91" cy="2274.85" r="6.9" fill="#d0156e" />
<circle cx="702.46" cy="2231.62" r="6.9" fill="#d0156e" />
<circle cx="677.28" cy="2269.48" r="6.9" fill="#d0156e" />
<circle cx="689.13" cy="2244.27" r="6.9" fill="#d0156e" />
<circle cx="690.32" cy="2220.51" r="6.9" fill="#d0156e" />
<circle cx="669.09" cy="2248.27" r="6.9" fill="#f27ab8" />
<circle cx="673.81" cy="2273.71" r="6.9" fill="#d0156e" />
<circle cx="737.43" cy="2261.21" r="6.9" fill="#f27ab8" />
<circle cx="754.12" cy="2199.67" r="6.9" fill="#f27ab8" />
<circle cx="736.18" cy="2223.36" r="6.9" fill="#f27ab8" />
<circle cx="768.07" cy="2204.21" r="6.9" fill="#f27ab8" />
<circle cx="766.58" cy="2251.67" r="6.9" fill="#d0156e" />
<circle cx="726.71" cy="2252.96" r="6.9" fill="#d0156e" />
<circle cx="727.08" cy="2198.77" r="6.9" fill="#f27ab8" />
<circle cx="759" cy="2210.13" r="6.9" fill="#f27ab8" />
<circle cx="776.97" cy="2234.26" r="6.9" fill="#d0156e" />
<circle cx="741.82" cy="2265.78" r="6.9" fill="#d0156e" />
<circle cx="724.7" cy="2201.37" r="6.9" fill="#d0156e" />
<circle cx="781.74" cy="2254.28" r="6.9" fill="#f27ab8" />
<circle cx="735.46" cy="2197.91" r="6.9" fill="#d0156e" />
<circle cx="783.05" cy="2252.67" r="6.9" fill="#f27ab8" />
<circle cx="773.39" cy="2200.27" r="6.9" fill="#f27ab8" />
<circle cx="760.96" cy="2221.67" r="6.9" fill="#d0156e" />
<circle cx="736.22" cy="2219.57" r="6.9" fill="#f27ab8" />
<circle cx="760.26" cy="2221.11" r="6.9" fill="#f27ab8" />
<circle cx="745.78" cy="2199.94" r="6.9" fill="#d0156e" />
<circle cx="774.06" cy="2250.96" r="6.9" fill="#d0156e" />
<circle cx="772.37" cy="2229.56" r="6.9" fill="#d0156e" />
<circle cx="775.36" cy="2237.95" r="6.9" fill="#f27ab8" />
<circle cx="758.92" cy="2243.52" r="6.9" fill="#f27ab8" />
<circle cx="768.29" cy="2225.78" r="6.9" fill="#f27ab8" />
<circle cx="734.15" cy="2190.26" r="6.9" fill="#d0156e" />
<circle cx="777.75" cy="2234.31" r="6.9" fill="#f27ab8" />
<circle cx="751.15" cy="2275.09" r="6.9" fill="#d0156e" />
<circle cx="760.62" cy="2229.09" r="6.9" fill="#f27ab8" />
<circle cx="750.85" cy="2196.28" r="6.9" fill="#f27ab8" />
<circle cx="731.11" cy="2202.19" r="6.9" fill="#f27ab8" />
<circle cx="745.08" cy="2224.8" r="6.9" fill="#f27ab8" />
<circle cx="777.18" cy="2201.5" r="6.9" fill="#f27ab8" />
<circle cx="737.42" cy="2214" r="6.9" fill="#f27ab8" />
<circle cx="731.55" cy="2214.96" r="6.9" fill="#f27ab8" />
<circle cx="736.23" cy="2234.41" r="6.9" fill="#f27ab8" />
<circle cx="744.72" cy="2279.9" r="6.9" fill="#f27ab8" />
<circle cx="764.96" cy="2253.55" r="6.9" fill="#f27ab8" />
<circle cx="751.24" cy="2280.64" r="6.9" fill="#d0156e" />
<circle cx="728.78" cy="2253.02" r="6.9" fill="#f27ab8" />
<circle cx="739.78" cy="2253.61" r="6.9" fill="#d0156e" />
<circle cx="767.6" cy="2202.61" r="6.9" fill="#f27ab8" />
<circle cx="734.06" cy="2188.81" r="6.9" fill="#d0156e" />
<circle cx="735.93" cy="2194.13" r="6.9" fill="#f27ab8" />
<circle cx="746.76" cy="2283.45" r="6.9" fill="#f27ab8" />
<polygon points="138.14,2424.51 214.32,2424.51 218.86,2455.35 217.04,2518.83 214.32,2573.25 201.63,2587.76 139.95,2584.13" fill="#c9c9c9" filter="url(#bl3)"/>
<circle cx="146.02" cy="2514.12" r="6.3" fill="none" stroke="#c2c2c2" stroke-width="1.8" />
<circle cx="219.05" cy="2523.62" r="6.3" fill="none" stroke="#c2c2c2" stroke-width="1.8" />
<circle cx="213.25" cy="2458.87" r="6.3" fill="none" stroke="#c2c2c2" stroke-width="1.8" />
<circle cx="137.89" cy="2513.73" r="6.3" fill="none" stroke="#c2c2c2" stroke-width="1.8" />
<circle cx="180.01" cy="2519.09" r="6.3" fill="none" stroke="#c2c2c2" stroke-width="1.8" />
<circle cx="170.14" cy="2528.15" r="6.3" fill="none" stroke="#c2c2c2" stroke-width="1.8" />
<circle cx="201.48" cy="2576.71" r="6.3" fill="none" stroke="#c2c2c2" stroke-width="1.8" />
<circle cx="163.94" cy="2498.45" r="6.3" fill="none" stroke="#c2c2c2" stroke-width="1.8" />
<circle cx="210.53" cy="2460.48" r="6.3" fill="none" stroke="#c2c2c2" stroke-width="1.8" />
<circle cx="146.71" cy="2475.28" r="6.3" fill="none" stroke="#c2c2c2" stroke-width="1.8" />
<circle cx="144.19" cy="2553" r="6.3" fill="none" stroke="#c2c2c2" stroke-width="1.8" />
<circle cx="209.9" cy="2475.48" r="6.3" fill="none" stroke="#c2c2c2" stroke-width="1.8" />
<circle cx="147.98" cy="2436.53" r="6.3" fill="none" stroke="#c2c2c2" stroke-width="1.8" />
<circle cx="158.31" cy="2436.92" r="6.3" fill="none" stroke="#c2c2c2" stroke-width="1.8" />
<circle cx="174.81" cy="2520.03" r="6.3" fill="none" stroke="#c2c2c2" stroke-width="1.8" />
<circle cx="158.36" cy="2433.06" r="6.3" fill="none" stroke="#c2c2c2" stroke-width="1.8" />
<circle cx="199.23" cy="2430.8" r="6.3" fill="none" stroke="#c2c2c2" stroke-width="1.8" />
<circle cx="154.27" cy="2470.95" r="6.3" fill="none" stroke="#c2c2c2" stroke-width="1.8" />
<circle cx="169.88" cy="2439.32" r="6.3" fill="none" stroke="#c2c2c2" stroke-width="1.8" />
<circle cx="174.09" cy="2475.65" r="6.3" fill="none" stroke="#c2c2c2" stroke-width="1.8" />
<circle cx="203.87" cy="2516.5" r="6.3" fill="none" stroke="#c2c2c2" stroke-width="1.8" />
<circle cx="216.78" cy="2533.04" r="6.3" fill="none" stroke="#c2c2c2" stroke-width="1.8" />
<circle cx="204.54" cy="2519.65" r="6.3" fill="none" stroke="#c2c2c2" stroke-width="1.8" />
<circle cx="176.03" cy="2560.49" r="6.3" fill="none" stroke="#c2c2c2" stroke-width="1.8" />
<circle cx="195.18" cy="2583.76" r="6.3" fill="none" stroke="#c2c2c2" stroke-width="1.8" />
<circle cx="201.69" cy="2540.98" r="6.3" fill="none" stroke="#c2c2c2" stroke-width="1.8" />
<circle cx="160.36" cy="2559.69" r="6.3" fill="none" stroke="#c2c2c2" stroke-width="1.8" />
<circle cx="170.66" cy="2444.67" r="6.3" fill="none" stroke="#c2c2c2" stroke-width="1.8" />
<circle cx="142.24" cy="2451.27" r="6.3" fill="none" stroke="#c2c2c2" stroke-width="1.8" />
<circle cx="159.9" cy="2536.72" r="6.3" fill="none" stroke="#c2c2c2" stroke-width="1.8" />
<circle cx="161.96" cy="2433.41" r="6.3" fill="none" stroke="#c2c2c2" stroke-width="1.8" />
<circle cx="204.9" cy="2516.7" r="6.3" fill="none" stroke="#c2c2c2" stroke-width="1.8" />
<circle cx="138.79" cy="2431.24" r="6.3" fill="none" stroke="#c2c2c2" stroke-width="1.8" />
<circle cx="148.01" cy="2482.95" r="6.3" fill="none" stroke="#c2c2c2" stroke-width="1.8" />
<circle cx="213.52" cy="2582.82" r="6.3" fill="none" stroke="#c2c2c2" stroke-width="1.8" />
<circle cx="191.28" cy="2461.68" r="6.3" fill="none" stroke="#c2c2c2" stroke-width="1.8" />
<circle cx="174.84" cy="2483.83" r="6.3" fill="none" stroke="#c2c2c2" stroke-width="1.8" />
<circle cx="165.99" cy="2424.8" r="6.3" fill="none" stroke="#c2c2c2" stroke-width="1.8" />
<circle cx="188.8" cy="2562.19" r="6.3" fill="none" stroke="#c2c2c2" stroke-width="1.8" />
<circle cx="201.59" cy="2438.77" r="6.3" fill="none" stroke="#c2c2c2" stroke-width="1.8" />
<circle cx="183.94" cy="2451.58" r="6.3" fill="none" stroke="#c2c2c2" stroke-width="1.8" />
<circle cx="200.02" cy="2497.97" r="6.3" fill="none" stroke="#c2c2c2" stroke-width="1.8" />
<circle cx="220.59" cy="2556.77" r="6.3" fill="none" stroke="#c2c2c2" stroke-width="1.8" />
<circle cx="146.94" cy="2476.19" r="6.3" fill="none" stroke="#c2c2c2" stroke-width="1.8" />
<circle cx="218.48" cy="2500.46" r="6.3" fill="none" stroke="#c2c2c2" stroke-width="1.8" />
<circle cx="175.31" cy="2497.16" r="6.3" fill="none" stroke="#c2c2c2" stroke-width="1.8" />
<circle cx="205.24" cy="2580.64" r="6.3" fill="none" stroke="#c2c2c2" stroke-width="1.8" />
<circle cx="184.15" cy="2586.27" r="6.3" fill="none" stroke="#c2c2c2" stroke-width="1.8" />
<circle cx="189.84" cy="2440.17" r="6.3" fill="none" stroke="#c2c2c2" stroke-width="1.8" />
<circle cx="209.44" cy="2493.46" r="6.3" fill="none" stroke="#c2c2c2" stroke-width="1.8" />
<circle cx="141.02" cy="2587.68" r="6.3" fill="none" stroke="#c2c2c2" stroke-width="1.8" />
<circle cx="139.28" cy="2520.03" r="6.3" fill="none" stroke="#c2c2c2" stroke-width="1.8" />
<circle cx="179.6" cy="2571.45" r="6.3" fill="none" stroke="#c2c2c2" stroke-width="1.8" />
<circle cx="171.59" cy="2459.07" r="6.3" fill="none" stroke="#c2c2c2" stroke-width="1.8" />
<circle cx="161.2" cy="2456.63" r="6.3" fill="none" stroke="#c2c2c2" stroke-width="1.8" />
<circle cx="186.82" cy="2482.92" r="6.3" fill="none" stroke="#c2c2c2" stroke-width="1.8" />
<circle cx="203.76" cy="2463.45" r="6.3" fill="none" stroke="#c2c2c2" stroke-width="1.8" />
<circle cx="167.91" cy="2464.57" r="6.3" fill="none" stroke="#c2c2c2" stroke-width="1.8" />
<circle cx="224.53" cy="2564.43" r="6.3" fill="none" stroke="#c2c2c2" stroke-width="1.8" />
<circle cx="212.63" cy="2526.98" r="6.3" fill="none" stroke="#c2c2c2" stroke-width="1.8" />
<circle cx="172.32" cy="2446.83" r="6.3" fill="none" stroke="#c2c2c2" stroke-width="1.8" />
<circle cx="211" cy="2505.38" r="6.3" fill="none" stroke="#c2c2c2" stroke-width="1.8" />
<circle cx="139.71" cy="2451.3" r="6.3" fill="none" stroke="#c2c2c2" stroke-width="1.8" />
<circle cx="145.19" cy="2543.77" r="6.3" fill="none" stroke="#c2c2c2" stroke-width="1.8" />
<circle cx="217.15" cy="2456.32" r="6.3" fill="none" stroke="#c2c2c2" stroke-width="1.8" />
<circle cx="207.89" cy="2477.36" r="6.3" fill="none" stroke="#c2c2c2" stroke-width="1.8" />
<circle cx="197.64" cy="2568.3" r="6.3" fill="none" stroke="#c2c2c2" stroke-width="1.8" />
<circle cx="192.27" cy="2557.71" r="6.3" fill="none" stroke="#c2c2c2" stroke-width="1.8" />
<circle cx="170.12" cy="2424.4" r="6.3" fill="none" stroke="#c2c2c2" stroke-width="1.8" />
<circle cx="182.27" cy="2521.67" r="6.3" fill="none" stroke="#c2c2c2" stroke-width="1.8" />
<circle cx="152.91" cy="2488.33" r="6.3" fill="none" stroke="#c2c2c2" stroke-width="1.8" />
<circle cx="164.81" cy="2427.26" r="6.3" fill="none" stroke="#c2c2c2" stroke-width="1.8" />
<circle cx="164.35" cy="2487.28" r="6.3" fill="none" stroke="#c2c2c2" stroke-width="1.8" />
<circle cx="179.07" cy="2541.35" r="6.3" fill="none" stroke="#c2c2c2" stroke-width="1.8" />
<circle cx="172.16" cy="2588.42" r="6.3" fill="none" stroke="#c2c2c2" stroke-width="1.8" />
<circle cx="209.55" cy="2578.55" r="6.3" fill="none" stroke="#c2c2c2" stroke-width="1.8" />
<circle cx="198.53" cy="2535.75" r="6.3" fill="none" stroke="#c2c2c2" stroke-width="1.8" />
<circle cx="184.52" cy="2557.43" r="6.3" fill="none" stroke="#c2c2c2" stroke-width="1.8" />
<circle cx="168.9" cy="2522.83" r="6.3" fill="none" stroke="#c2c2c2" stroke-width="1.8" />
<circle cx="197.33" cy="2510.79" r="6.3" fill="none" stroke="#c2c2c2" stroke-width="1.8" />
<circle cx="161.84" cy="2435.81" r="6.3" fill="none" stroke="#c2c2c2" stroke-width="1.8" />
<circle cx="144.16" cy="2482.73" r="6.3" fill="none" stroke="#c2c2c2" stroke-width="1.8" />
<circle cx="188.44" cy="2550.84" r="6.3" fill="none" stroke="#c2c2c2" stroke-width="1.8" />
<circle cx="200.47" cy="2474.45" r="6.3" fill="none" stroke="#c2c2c2" stroke-width="1.8" />
<circle cx="219.75" cy="2469.02" r="6.3" fill="none" stroke="#c2c2c2" stroke-width="1.8" />
<circle cx="200.62" cy="2434.85" r="6.3" fill="none" stroke="#c2c2c2" stroke-width="1.8" />
<circle cx="203.97" cy="2535.71" r="6.3" fill="none" stroke="#c2c2c2" stroke-width="1.8" />
<circle cx="222.24" cy="2574.04" r="6.3" fill="none" stroke="#c2c2c2" stroke-width="1.8" />
<circle cx="198.07" cy="2564.1" r="6.3" fill="none" stroke="#c2c2c2" stroke-width="1.8" />
<circle cx="202.64" cy="2525.76" r="6.3" fill="none" stroke="#c2c2c2" stroke-width="1.8" />
<circle cx="155.07" cy="2509.86" r="6.3" fill="none" stroke="#c2c2c2" stroke-width="1.8" />
<circle cx="216.79" cy="2463.03" r="6.3" fill="none" stroke="#c2c2c2" stroke-width="1.8" />
<circle cx="223.84" cy="2514.46" r="6.3" fill="none" stroke="#c2c2c2" stroke-width="1.8" />
<circle cx="171.65" cy="2423.2" r="6.3" fill="none" stroke="#c2c2c2" stroke-width="1.8" />
<circle cx="171.36" cy="2452.75" r="6.3" fill="none" stroke="#c2c2c2" stroke-width="1.8" />
<circle cx="194.96" cy="2574.44" r="6.3" fill="none" stroke="#c2c2c2" stroke-width="1.8" />
<circle cx="218.05" cy="2526.19" r="6.3" fill="none" stroke="#c2c2c2" stroke-width="1.8" />
<circle cx="171.04" cy="2441.07" r="6.3" fill="none" stroke="#c2c2c2" stroke-width="1.8" />
<circle cx="198.17" cy="2516.06" r="6.3" fill="none" stroke="#c2c2c2" stroke-width="1.8" />
<circle cx="200.55" cy="2485.79" r="6.3" fill="none" stroke="#c2c2c2" stroke-width="1.8" />
<circle cx="215.95" cy="2458.58" r="6.3" fill="none" stroke="#c2c2c2" stroke-width="1.8" />
<circle cx="163.76" cy="2467.85" r="6.3" fill="none" stroke="#c2c2c2" stroke-width="1.8" />
<circle cx="192.19" cy="2574.06" r="6.3" fill="none" stroke="#c2c2c2" stroke-width="1.8" />
<circle cx="151.36" cy="2529.45" r="6.3" fill="none" stroke="#c2c2c2" stroke-width="1.8" />
<circle cx="205.15" cy="2460.59" r="6.3" fill="none" stroke="#c2c2c2" stroke-width="1.8" />
<circle cx="141.95" cy="2518.16" r="6.3" fill="none" stroke="#c2c2c2" stroke-width="1.8" />
<circle cx="210.87" cy="2570.91" r="6.3" fill="none" stroke="#c2c2c2" stroke-width="1.8" />
<circle cx="201.69" cy="2493.02" r="6.3" fill="none" stroke="#c2c2c2" stroke-width="1.8" />
<circle cx="174.52" cy="2511.9" r="6.3" fill="none" stroke="#c2c2c2" stroke-width="1.8" />
<circle cx="217.56" cy="2473.7" r="6.3" fill="none" stroke="#c2c2c2" stroke-width="1.8" />
<circle cx="161.53" cy="2524.82" r="6.3" fill="none" stroke="#c2c2c2" stroke-width="1.8" />
<circle cx="223.11" cy="2454.28" r="6.3" fill="none" stroke="#c2c2c2" stroke-width="1.8" />
<circle cx="139.06" cy="2442.2" r="6.3" fill="none" stroke="#c2c2c2" stroke-width="1.8" />
<circle cx="186.84" cy="2524.49" r="6.3" fill="none" stroke="#c2c2c2" stroke-width="1.8" />
<circle cx="152.84" cy="2454.8" r="6.3" fill="none" stroke="#c2c2c2" stroke-width="1.8" />
<circle cx="189.71" cy="2531.73" r="6.3" fill="none" stroke="#c2c2c2" stroke-width="1.8" />
<circle cx="198.3" cy="2545.66" r="6.3" fill="none" stroke="#c2c2c2" stroke-width="1.8" />
<circle cx="141.84" cy="2504.46" r="6.3" fill="none" stroke="#c2c2c2" stroke-width="1.8" />
<circle cx="211.26" cy="2584.17" r="6.3" fill="none" stroke="#c2c2c2" stroke-width="1.8" />
<circle cx="164.92" cy="2566.14" r="6.3" fill="none" stroke="#c2c2c2" stroke-width="1.8" />
<circle cx="194.25" cy="2579.03" r="6.3" fill="none" stroke="#c2c2c2" stroke-width="1.8" />
<circle cx="156.89" cy="2540.24" r="6.3" fill="none" stroke="#c2c2c2" stroke-width="1.8" />
<circle cx="211.81" cy="2503.11" r="6.3" fill="none" stroke="#c2c2c2" stroke-width="1.8" />
<circle cx="145.38" cy="2455.34" r="6.3" fill="none" stroke="#c2c2c2" stroke-width="1.8" />
<circle cx="150.39" cy="2438.36" r="6.3" fill="none" stroke="#c2c2c2" stroke-width="1.8" />
<circle cx="149.97" cy="2526.57" r="6.3" fill="none" stroke="#c2c2c2" stroke-width="1.8" />
<circle cx="145.74" cy="2550.58" r="6.3" fill="none" stroke="#c2c2c2" stroke-width="1.8" />
<circle cx="202.43" cy="2560.41" r="6.3" fill="none" stroke="#c2c2c2" stroke-width="1.8" />
<circle cx="208.49" cy="2542.99" r="6.3" fill="none" stroke="#c2c2c2" stroke-width="1.8" />
<circle cx="219.3" cy="2584.12" r="6.3" fill="none" stroke="#c2c2c2" stroke-width="1.8" />
<circle cx="192.45" cy="2585.5" r="6.3" fill="none" stroke="#c2c2c2" stroke-width="1.8" />
<circle cx="145.6" cy="2440.05" r="6.3" fill="none" stroke="#c2c2c2" stroke-width="1.8" />
<circle cx="142.11" cy="2457.52" r="6.3" fill="none" stroke="#c2c2c2" stroke-width="1.8" />
<circle cx="169.94" cy="2500.07" r="6.3" fill="none" stroke="#c2c2c2" stroke-width="1.8" />
<circle cx="197.43" cy="2548.02" r="6.3" fill="none" stroke="#c2c2c2" stroke-width="1.8" />
<circle cx="143.85" cy="2490.72" r="6.3" fill="none" stroke="#c2c2c2" stroke-width="1.8" />
<circle cx="185.12" cy="2485.99" r="6.3" fill="none" stroke="#c2c2c2" stroke-width="1.8" />
<circle cx="146.88" cy="2523.42" r="6.3" fill="none" stroke="#c2c2c2" stroke-width="1.8" />
<circle cx="169.94" cy="2538.04" r="6.3" fill="none" stroke="#c2c2c2" stroke-width="1.8" />
<circle cx="180.82" cy="2585.1" r="6.3" fill="none" stroke="#c2c2c2" stroke-width="1.8" />
<circle cx="221.18" cy="2434.88" r="6.3" fill="none" stroke="#c2c2c2" stroke-width="1.8" />
<circle cx="204.55" cy="2544.37" r="6.3" fill="none" stroke="#c2c2c2" stroke-width="1.8" />
<circle cx="162.9" cy="2442.41" r="6.3" fill="none" stroke="#c2c2c2" stroke-width="1.8" />
<circle cx="179.33" cy="2482.44" r="6.3" fill="none" stroke="#c2c2c2" stroke-width="1.8" />
<circle cx="202.53" cy="2577.62" r="6.3" fill="none" stroke="#c2c2c2" stroke-width="1.8" />
<circle cx="170.63" cy="2471.72" r="6.3" fill="none" stroke="#c2c2c2" stroke-width="1.8" />
<circle cx="181.11" cy="2540.25" r="6.3" fill="none" stroke="#c2c2c2" stroke-width="1.8" />
<circle cx="207.17" cy="2519.81" r="6.3" fill="none" stroke="#c2c2c2" stroke-width="1.8" />
<circle cx="162.9" cy="2479.54" r="6.3" fill="none" stroke="#c2c2c2" stroke-width="1.8" />
<circle cx="212.47" cy="2510.29" r="6.3" fill="none" stroke="#c2c2c2" stroke-width="1.8" />
<circle cx="142.34" cy="2605.5" r="6.3" fill="none" stroke="#c2c2c2" stroke-width="1.8" />
<circle cx="157.98" cy="2617.97" r="6.3" fill="none" stroke="#c2c2c2" stroke-width="1.8" />
<circle cx="144.26" cy="2597.9" r="6.3" fill="none" stroke="#c2c2c2" stroke-width="1.8" />
<circle cx="146.15" cy="2608.39" r="6.3" fill="none" stroke="#c2c2c2" stroke-width="1.8" />
<circle cx="220.3" cy="2611.63" r="6.3" fill="none" stroke="#c2c2c2" stroke-width="1.8" />
<circle cx="170.37" cy="2631.57" r="6.3" fill="none" stroke="#c2c2c2" stroke-width="1.8" />
<circle cx="145.8" cy="2602.2" r="6.3" fill="none" stroke="#c2c2c2" stroke-width="1.8" />
<circle cx="205.79" cy="2584.39" r="6.3" fill="none" stroke="#c2c2c2" stroke-width="1.8" />
<circle cx="202.05" cy="2602.47" r="6.3" fill="none" stroke="#c2c2c2" stroke-width="1.8" />
<circle cx="139.51" cy="2596.87" r="6.3" fill="none" stroke="#c2c2c2" stroke-width="1.8" />
<circle cx="176.37" cy="2603.58" r="6.3" fill="none" stroke="#c2c2c2" stroke-width="1.8" />
<circle cx="181.26" cy="2586.83" r="6.3" fill="none" stroke="#c2c2c2" stroke-width="1.8" />
<circle cx="156.38" cy="2633.62" r="6.3" fill="none" stroke="#c2c2c2" stroke-width="1.8" />
<circle cx="175.07" cy="2608.1" r="6.3" fill="none" stroke="#c2c2c2" stroke-width="1.8" />
<circle cx="145.26" cy="2598.31" r="6.3" fill="none" stroke="#c2c2c2" stroke-width="1.8" />
<circle cx="217.8" cy="2619.03" r="6.3" fill="none" stroke="#c2c2c2" stroke-width="1.8" />
<circle cx="234.28" cy="2431.77" r="6.3" fill="none" stroke="#c2c2c2" stroke-width="1.8" />
<circle cx="236.09" cy="2453.53" r="6.3" fill="none" stroke="#c2c2c2" stroke-width="1.8" />
<circle cx="228.83" cy="2511.58" r="6.3" fill="none" stroke="#c2c2c2" stroke-width="1.8" />
<circle cx="227.02" cy="2547.86" r="6.3" fill="none" stroke="#c2c2c2" stroke-width="1.8" />
<circle cx="225.21" cy="2589.58" r="6.3" fill="none" stroke="#c2c2c2" stroke-width="1.8" />
<circle cx="217.95" cy="2605.9" r="6.3" fill="none" stroke="#c2c2c2" stroke-width="1.8" />
<circle cx="210.69" cy="2616.78" r="6.3" fill="none" stroke="#c2c2c2" stroke-width="1.8" />
<circle cx="192.56" cy="2633.11" r="6.3" fill="none" stroke="#c2c2c2" stroke-width="1.8" />
<circle cx="150.84" cy="2625.85" r="6.3" fill="none" stroke="#c2c2c2" stroke-width="1.8" />
<circle cx="143.58" cy="2614.97" r="6.3" fill="none" stroke="#c2c2c2" stroke-width="1.8" />
<polygon points="274.18,2426.33 384.83,2426.33 386.64,2511.58 383.01,2573.25 286.88,2578.69 275.99,2518.83" fill="#c9c9c9" filter="url(#bl3)"/>
<circle cx="333.64" cy="2431.16" r="6.3" fill="none" stroke="#c2c2c2" stroke-width="1.8" />
<circle cx="319.54" cy="2546.95" r="6.3" fill="none" stroke="#c2c2c2" stroke-width="1.8" />
<circle cx="324.68" cy="2517.44" r="6.3" fill="none" stroke="#c2c2c2" stroke-width="1.8" />
<circle cx="381.94" cy="2525.68" r="6.3" fill="none" stroke="#c2c2c2" stroke-width="1.8" />
<circle cx="349.31" cy="2428.45" r="6.3" fill="none" stroke="#c2c2c2" stroke-width="1.8" />
<circle cx="274.38" cy="2545.54" r="6.3" fill="none" stroke="#c2c2c2" stroke-width="1.8" />
<circle cx="322.06" cy="2562.24" r="6.3" fill="none" stroke="#c2c2c2" stroke-width="1.8" />
<circle cx="372.56" cy="2568.81" r="6.3" fill="none" stroke="#c2c2c2" stroke-width="1.8" />
<circle cx="317.81" cy="2582.17" r="6.3" fill="none" stroke="#c2c2c2" stroke-width="1.8" />
<circle cx="364.05" cy="2565.05" r="6.3" fill="none" stroke="#c2c2c2" stroke-width="1.8" />
<circle cx="289.61" cy="2547.35" r="6.3" fill="none" stroke="#c2c2c2" stroke-width="1.8" />
<circle cx="323.15" cy="2577.86" r="6.3" fill="none" stroke="#c2c2c2" stroke-width="1.8" />
<circle cx="323.06" cy="2465.94" r="6.3" fill="none" stroke="#c2c2c2" stroke-width="1.8" />
<circle cx="328.99" cy="2468.43" r="6.3" fill="none" stroke="#c2c2c2" stroke-width="1.8" />
<circle cx="353.07" cy="2442.38" r="6.3" fill="none" stroke="#c2c2c2" stroke-width="1.8" />
<circle cx="292.18" cy="2495.75" r="6.3" fill="none" stroke="#c2c2c2" stroke-width="1.8" />
<circle cx="280.51" cy="2483.54" r="6.3" fill="none" stroke="#c2c2c2" stroke-width="1.8" />
<circle cx="381.34" cy="2564.02" r="6.3" fill="none" stroke="#c2c2c2" stroke-width="1.8" />
<circle cx="295.52" cy="2425.65" r="6.3" fill="none" stroke="#c2c2c2" stroke-width="1.8" />
<circle cx="372.87" cy="2576.06" r="6.3" fill="none" stroke="#c2c2c2" stroke-width="1.8" />
<circle cx="344.79" cy="2444.46" r="6.3" fill="none" stroke="#c2c2c2" stroke-width="1.8" />
<circle cx="300.42" cy="2569.58" r="6.3" fill="none" stroke="#c2c2c2" stroke-width="1.8" />
<circle cx="386.25" cy="2427.66" r="6.3" fill="none" stroke="#c2c2c2" stroke-width="1.8" />
<circle cx="294.09" cy="2491.18" r="6.3" fill="none" stroke="#c2c2c2" stroke-width="1.8" />
<circle cx="304.11" cy="2543.03" r="6.3" fill="none" stroke="#c2c2c2" stroke-width="1.8" />
<circle cx="317.12" cy="2546.43" r="6.3" fill="none" stroke="#c2c2c2" stroke-width="1.8" />
<circle cx="290.07" cy="2505.43" r="6.3" fill="none" stroke="#c2c2c2" stroke-width="1.8" />
<circle cx="390.83" cy="2534.75" r="6.3" fill="none" stroke="#c2c2c2" stroke-width="1.8" />
<circle cx="282.49" cy="2440.41" r="6.3" fill="none" stroke="#c2c2c2" stroke-width="1.8" />
<circle cx="350.25" cy="2482.55" r="6.3" fill="none" stroke="#c2c2c2" stroke-width="1.8" />
<circle cx="316.6" cy="2498.95" r="6.3" fill="none" stroke="#c2c2c2" stroke-width="1.8" />
<circle cx="342.68" cy="2576.87" r="6.3" fill="none" stroke="#c2c2c2" stroke-width="1.8" />
<circle cx="300.96" cy="2513.47" r="6.3" fill="none" stroke="#c2c2c2" stroke-width="1.8" />
<circle cx="303.67" cy="2509.75" r="6.3" fill="none" stroke="#c2c2c2" stroke-width="1.8" />
<circle cx="361.02" cy="2444.02" r="6.3" fill="none" stroke="#c2c2c2" stroke-width="1.8" />
<circle cx="330.37" cy="2535.35" r="6.3" fill="none" stroke="#c2c2c2" stroke-width="1.8" />
<circle cx="272.46" cy="2545.79" r="6.3" fill="none" stroke="#c2c2c2" stroke-width="1.8" />
<circle cx="322.74" cy="2503.17" r="6.3" fill="none" stroke="#c2c2c2" stroke-width="1.8" />
<circle cx="346.21" cy="2549.26" r="6.3" fill="none" stroke="#c2c2c2" stroke-width="1.8" />
<circle cx="278.32" cy="2502.6" r="6.3" fill="none" stroke="#c2c2c2" stroke-width="1.8" />
<circle cx="276.15" cy="2484.23" r="6.3" fill="none" stroke="#c2c2c2" stroke-width="1.8" />
<circle cx="313.79" cy="2426.11" r="6.3" fill="none" stroke="#c2c2c2" stroke-width="1.8" />
<circle cx="307.92" cy="2494.53" r="6.3" fill="none" stroke="#c2c2c2" stroke-width="1.8" />
<circle cx="351.64" cy="2570.32" r="6.3" fill="none" stroke="#c2c2c2" stroke-width="1.8" />
<circle cx="316.82" cy="2507.31" r="6.3" fill="none" stroke="#c2c2c2" stroke-width="1.8" />
<circle cx="358.78" cy="2572.31" r="6.3" fill="none" stroke="#c2c2c2" stroke-width="1.8" />
<circle cx="387.73" cy="2580.41" r="6.3" fill="none" stroke="#c2c2c2" stroke-width="1.8" />
<circle cx="308.41" cy="2449.3" r="6.3" fill="none" stroke="#c2c2c2" stroke-width="1.8" />
<circle cx="385.56" cy="2435.05" r="6.3" fill="none" stroke="#c2c2c2" stroke-width="1.8" />
<circle cx="326.4" cy="2540.21" r="6.3" fill="none" stroke="#c2c2c2" stroke-width="1.8" />
<circle cx="336.2" cy="2484.75" r="6.3" fill="none" stroke="#c2c2c2" stroke-width="1.8" />
<circle cx="384.66" cy="2470.46" r="6.3" fill="none" stroke="#c2c2c2" stroke-width="1.8" />
<circle cx="339.01" cy="2555.13" r="6.3" fill="none" stroke="#c2c2c2" stroke-width="1.8" />
<circle cx="288.36" cy="2478.72" r="6.3" fill="none" stroke="#c2c2c2" stroke-width="1.8" />
<circle cx="331.98" cy="2513.03" r="6.3" fill="none" stroke="#c2c2c2" stroke-width="1.8" />
<circle cx="296.85" cy="2495.16" r="6.3" fill="none" stroke="#c2c2c2" stroke-width="1.8" />
<circle cx="278.79" cy="2436.73" r="6.3" fill="none" stroke="#c2c2c2" stroke-width="1.8" />
<circle cx="313.35" cy="2445.65" r="6.3" fill="none" stroke="#c2c2c2" stroke-width="1.8" />
<circle cx="389.92" cy="2464.73" r="6.3" fill="none" stroke="#c2c2c2" stroke-width="1.8" />
<circle cx="305.22" cy="2547.79" r="6.3" fill="none" stroke="#c2c2c2" stroke-width="1.8" />
<circle cx="362.21" cy="2464.54" r="6.3" fill="none" stroke="#c2c2c2" stroke-width="1.8" />
<circle cx="372.98" cy="2522.58" r="6.3" fill="none" stroke="#c2c2c2" stroke-width="1.8" />
<circle cx="319.04" cy="2523.07" r="6.3" fill="none" stroke="#c2c2c2" stroke-width="1.8" />
<circle cx="301.55" cy="2464.74" r="6.3" fill="none" stroke="#c2c2c2" stroke-width="1.8" />
<circle cx="378.78" cy="2492.71" r="6.3" fill="none" stroke="#c2c2c2" stroke-width="1.8" />
<circle cx="381.32" cy="2450.94" r="6.3" fill="none" stroke="#c2c2c2" stroke-width="1.8" />
<circle cx="288.27" cy="2430.99" r="6.3" fill="none" stroke="#c2c2c2" stroke-width="1.8" />
<circle cx="362.03" cy="2512.28" r="6.3" fill="none" stroke="#c2c2c2" stroke-width="1.8" />
<circle cx="272.64" cy="2429.61" r="6.3" fill="none" stroke="#c2c2c2" stroke-width="1.8" />
<circle cx="372.36" cy="2501.61" r="6.3" fill="none" stroke="#c2c2c2" stroke-width="1.8" />
<circle cx="378.14" cy="2429.05" r="6.3" fill="none" stroke="#c2c2c2" stroke-width="1.8" />
<circle cx="343.56" cy="2441.45" r="6.3" fill="none" stroke="#c2c2c2" stroke-width="1.8" />
<circle cx="359.75" cy="2520.28" r="6.3" fill="none" stroke="#c2c2c2" stroke-width="1.8" />
<circle cx="346.4" cy="2458.06" r="6.3" fill="none" stroke="#c2c2c2" stroke-width="1.8" />
<circle cx="387.66" cy="2440.42" r="6.3" fill="none" stroke="#c2c2c2" stroke-width="1.8" />
<circle cx="279.3" cy="2531.89" r="6.3" fill="none" stroke="#c2c2c2" stroke-width="1.8" />
<circle cx="282.82" cy="2433.37" r="6.3" fill="none" stroke="#c2c2c2" stroke-width="1.8" />
<circle cx="327.82" cy="2526.27" r="6.3" fill="none" stroke="#c2c2c2" stroke-width="1.8" />
<circle cx="380.68" cy="2537.76" r="6.3" fill="none" stroke="#c2c2c2" stroke-width="1.8" />
<circle cx="279.95" cy="2525.35" r="6.3" fill="none" stroke="#c2c2c2" stroke-width="1.8" />
<circle cx="374.75" cy="2441.94" r="6.3" fill="none" stroke="#c2c2c2" stroke-width="1.8" />
<circle cx="363.84" cy="2463.98" r="6.3" fill="none" stroke="#c2c2c2" stroke-width="1.8" />
<circle cx="308.03" cy="2422.94" r="6.3" fill="none" stroke="#c2c2c2" stroke-width="1.8" />
<circle cx="364.29" cy="2505.02" r="6.3" fill="none" stroke="#c2c2c2" stroke-width="1.8" />
<circle cx="381.9" cy="2497.01" r="6.3" fill="none" stroke="#c2c2c2" stroke-width="1.8" />
<circle cx="290.49" cy="2457.24" r="6.3" fill="none" stroke="#c2c2c2" stroke-width="1.8" />
<circle cx="303.71" cy="2573.82" r="6.3" fill="none" stroke="#c2c2c2" stroke-width="1.8" />
<circle cx="296.59" cy="2436.78" r="6.3" fill="none" stroke="#c2c2c2" stroke-width="1.8" />
<circle cx="314.65" cy="2435.33" r="6.3" fill="none" stroke="#c2c2c2" stroke-width="1.8" />
<circle cx="323.52" cy="2521.92" r="6.3" fill="none" stroke="#c2c2c2" stroke-width="1.8" />
<circle cx="351.12" cy="2450.6" r="6.3" fill="none" stroke="#c2c2c2" stroke-width="1.8" />
<circle cx="288.46" cy="2501.1" r="6.3" fill="none" stroke="#c2c2c2" stroke-width="1.8" />
<circle cx="355.6" cy="2494.07" r="6.3" fill="none" stroke="#c2c2c2" stroke-width="1.8" />
<circle cx="341.65" cy="2568.29" r="6.3" fill="none" stroke="#c2c2c2" stroke-width="1.8" />
<circle cx="289.22" cy="2465.45" r="6.3" fill="none" stroke="#c2c2c2" stroke-width="1.8" />
<circle cx="331.92" cy="2508.27" r="6.3" fill="none" stroke="#c2c2c2" stroke-width="1.8" />
<circle cx="381.68" cy="2511.34" r="6.3" fill="none" stroke="#c2c2c2" stroke-width="1.8" />
<circle cx="352.56" cy="2489.68" r="6.3" fill="none" stroke="#c2c2c2" stroke-width="1.8" />
<circle cx="367.49" cy="2556.13" r="6.3" fill="none" stroke="#c2c2c2" stroke-width="1.8" />
<circle cx="307.41" cy="2439.91" r="6.3" fill="none" stroke="#c2c2c2" stroke-width="1.8" />
<circle cx="303.2" cy="2479.77" r="6.3" fill="none" stroke="#c2c2c2" stroke-width="1.8" />
<circle cx="380.39" cy="2464.93" r="6.3" fill="none" stroke="#c2c2c2" stroke-width="1.8" />
<circle cx="348.52" cy="2524.96" r="6.3" fill="none" stroke="#c2c2c2" stroke-width="1.8" />
<circle cx="388.54" cy="2441.29" r="6.3" fill="none" stroke="#c2c2c2" stroke-width="1.8" />
<circle cx="365.72" cy="2476.4" r="6.3" fill="none" stroke="#c2c2c2" stroke-width="1.8" />
<circle cx="284.07" cy="2523.58" r="6.3" fill="none" stroke="#c2c2c2" stroke-width="1.8" />
<circle cx="374.84" cy="2515.67" r="6.3" fill="none" stroke="#c2c2c2" stroke-width="1.8" />
<circle cx="277.56" cy="2577.87" r="6.3" fill="none" stroke="#c2c2c2" stroke-width="1.8" />
<circle cx="318.49" cy="2524.27" r="6.3" fill="none" stroke="#c2c2c2" stroke-width="1.8" />
<circle cx="360.1" cy="2464.31" r="6.3" fill="none" stroke="#c2c2c2" stroke-width="1.8" />
<circle cx="321.46" cy="2475.26" r="6.3" fill="none" stroke="#c2c2c2" stroke-width="1.8" />
<circle cx="283.21" cy="2432.98" r="6.3" fill="none" stroke="#c2c2c2" stroke-width="1.8" />
<circle cx="359.23" cy="2488.23" r="6.3" fill="none" stroke="#c2c2c2" stroke-width="1.8" />
<circle cx="377.94" cy="2432.71" r="6.3" fill="none" stroke="#c2c2c2" stroke-width="1.8" />
<circle cx="308.37" cy="2451.45" r="6.3" fill="none" stroke="#c2c2c2" stroke-width="1.8" />
<circle cx="386.97" cy="2548.89" r="6.3" fill="none" stroke="#c2c2c2" stroke-width="1.8" />
<circle cx="381.21" cy="2503.53" r="6.3" fill="none" stroke="#c2c2c2" stroke-width="1.8" />
<circle cx="284.22" cy="2489.12" r="6.3" fill="none" stroke="#c2c2c2" stroke-width="1.8" />
<circle cx="299.15" cy="2426.99" r="6.3" fill="none" stroke="#c2c2c2" stroke-width="1.8" />
<circle cx="340.63" cy="2468.98" r="6.3" fill="none" stroke="#c2c2c2" stroke-width="1.8" />
<circle cx="284.67" cy="2504.35" r="6.3" fill="none" stroke="#c2c2c2" stroke-width="1.8" />
<circle cx="385.72" cy="2573.7" r="6.3" fill="none" stroke="#c2c2c2" stroke-width="1.8" />
<circle cx="328.53" cy="2439.1" r="6.3" fill="none" stroke="#c2c2c2" stroke-width="1.8" />
<circle cx="365.58" cy="2441.02" r="6.3" fill="none" stroke="#c2c2c2" stroke-width="1.8" />
<circle cx="337.26" cy="2436.06" r="6.3" fill="none" stroke="#c2c2c2" stroke-width="1.8" />
<circle cx="325.02" cy="2466.14" r="6.3" fill="none" stroke="#c2c2c2" stroke-width="1.8" />
<circle cx="338.92" cy="2578" r="6.3" fill="none" stroke="#c2c2c2" stroke-width="1.8" />
<circle cx="323.85" cy="2456.1" r="6.3" fill="none" stroke="#c2c2c2" stroke-width="1.8" />
<circle cx="334.47" cy="2569.27" r="6.3" fill="none" stroke="#c2c2c2" stroke-width="1.8" />
<circle cx="318.2" cy="2523.87" r="6.3" fill="none" stroke="#c2c2c2" stroke-width="1.8" />
<circle cx="383.95" cy="2474.68" r="6.3" fill="none" stroke="#c2c2c2" stroke-width="1.8" />
<circle cx="370.74" cy="2507.14" r="6.3" fill="none" stroke="#c2c2c2" stroke-width="1.8" />
<circle cx="288.54" cy="2431.25" r="6.3" fill="none" stroke="#c2c2c2" stroke-width="1.8" />
<circle cx="386.43" cy="2497.08" r="6.3" fill="none" stroke="#c2c2c2" stroke-width="1.8" />
<circle cx="325.72" cy="2569.17" r="6.3" fill="none" stroke="#c2c2c2" stroke-width="1.8" />
<circle cx="341.74" cy="2502.54" r="6.3" fill="none" stroke="#c2c2c2" stroke-width="1.8" />
<circle cx="306.25" cy="2541.48" r="6.3" fill="none" stroke="#c2c2c2" stroke-width="1.8" />
<circle cx="302.83" cy="2497.8" r="6.3" fill="none" stroke="#c2c2c2" stroke-width="1.8" />
<circle cx="364.33" cy="2519.25" r="6.3" fill="none" stroke="#c2c2c2" stroke-width="1.8" />
<circle cx="287.89" cy="2455.06" r="6.3" fill="none" stroke="#c2c2c2" stroke-width="1.8" />
<circle cx="356.55" cy="2539.07" r="6.3" fill="none" stroke="#c2c2c2" stroke-width="1.8" />
<circle cx="284.02" cy="2581.92" r="6.3" fill="none" stroke="#c2c2c2" stroke-width="1.8" />
<circle cx="287.79" cy="2449.47" r="6.3" fill="none" stroke="#c2c2c2" stroke-width="1.8" />
<circle cx="282.45" cy="2493.95" r="6.3" fill="none" stroke="#c2c2c2" stroke-width="1.8" />
<circle cx="347.33" cy="2559.54" r="6.3" fill="none" stroke="#c2c2c2" stroke-width="1.8" />
<circle cx="291.44" cy="2534.23" r="6.3" fill="none" stroke="#c2c2c2" stroke-width="1.8" />
<circle cx="284.34" cy="2515.34" r="6.3" fill="none" stroke="#c2c2c2" stroke-width="1.8" />
<circle cx="302.3" cy="2479.57" r="6.3" fill="none" stroke="#c2c2c2" stroke-width="1.8" />
<circle cx="277.89" cy="2537.72" r="6.3" fill="none" stroke="#c2c2c2" stroke-width="1.8" />
<circle cx="286.43" cy="2544.67" r="6.3" fill="none" stroke="#c2c2c2" stroke-width="1.8" />
<circle cx="312.66" cy="2517.15" r="6.3" fill="none" stroke="#c2c2c2" stroke-width="1.8" />
<circle cx="349.71" cy="2500.71" r="6.3" fill="none" stroke="#c2c2c2" stroke-width="1.8" />
<circle cx="378.43" cy="2569.46" r="6.3" fill="none" stroke="#c2c2c2" stroke-width="1.8" />
<circle cx="306" cy="2475.98" r="6.3" fill="none" stroke="#c2c2c2" stroke-width="1.8" />
<circle cx="378.83" cy="2443.9" r="6.3" fill="none" stroke="#c2c2c2" stroke-width="1.8" />
<circle cx="322.89" cy="2488.88" r="6.3" fill="none" stroke="#c2c2c2" stroke-width="1.8" />
<circle cx="351.67" cy="2543.54" r="6.3" fill="none" stroke="#c2c2c2" stroke-width="1.8" />
<circle cx="360.63" cy="2422.86" r="6.3" fill="none" stroke="#c2c2c2" stroke-width="1.8" />
<circle cx="387" cy="2472.57" r="6.3" fill="none" stroke="#c2c2c2" stroke-width="1.8" />
<circle cx="375.91" cy="2528.26" r="6.3" fill="none" stroke="#c2c2c2" stroke-width="1.8" />
<circle cx="322.98" cy="2556.41" r="6.3" fill="none" stroke="#c2c2c2" stroke-width="1.8" />
<circle cx="354.2" cy="2476.94" r="6.3" fill="none" stroke="#c2c2c2" stroke-width="1.8" />
<circle cx="361.06" cy="2503.33" r="6.3" fill="none" stroke="#c2c2c2" stroke-width="1.8" />
<circle cx="358.58" cy="2520.77" r="6.3" fill="none" stroke="#c2c2c2" stroke-width="1.8" />
<circle cx="368.92" cy="2448.13" r="6.3" fill="none" stroke="#c2c2c2" stroke-width="1.8" />
<circle cx="332.01" cy="2422.89" r="6.3" fill="none" stroke="#c2c2c2" stroke-width="1.8" />
<circle cx="368.29" cy="2545.85" r="6.3" fill="none" stroke="#c2c2c2" stroke-width="1.8" />
<circle cx="373.95" cy="2429.59" r="6.3" fill="none" stroke="#c2c2c2" stroke-width="1.8" />
<circle cx="336.99" cy="2499.09" r="6.3" fill="none" stroke="#c2c2c2" stroke-width="1.8" />
<circle cx="286.09" cy="2455.03" r="6.3" fill="none" stroke="#c2c2c2" stroke-width="1.8" />
<circle cx="390.76" cy="2558.8" r="6.3" fill="none" stroke="#c2c2c2" stroke-width="1.8" />
<circle cx="300.62" cy="2555.04" r="6.3" fill="none" stroke="#c2c2c2" stroke-width="1.8" />
<circle cx="351.17" cy="2484.14" r="6.3" fill="none" stroke="#c2c2c2" stroke-width="1.8" />
<circle cx="350.4" cy="2459.25" r="6.3" fill="none" stroke="#c2c2c2" stroke-width="1.8" />
<circle cx="304.98" cy="2424.31" r="6.3" fill="none" stroke="#c2c2c2" stroke-width="1.8" />
<circle cx="351.86" cy="2515.5" r="6.3" fill="none" stroke="#c2c2c2" stroke-width="1.8" />
<circle cx="362.48" cy="2503.11" r="6.3" fill="none" stroke="#c2c2c2" stroke-width="1.8" />
<circle cx="324.7" cy="2471.61" r="6.3" fill="none" stroke="#c2c2c2" stroke-width="1.8" />
<circle cx="361.49" cy="2482.2" r="6.3" fill="none" stroke="#c2c2c2" stroke-width="1.8" />
<circle cx="344.53" cy="2543.63" r="6.3" fill="none" stroke="#c2c2c2" stroke-width="1.8" />
<circle cx="325.89" cy="2532.22" r="6.3" fill="none" stroke="#c2c2c2" stroke-width="1.8" />
<circle cx="279" cy="2464.28" r="6.3" fill="none" stroke="#c2c2c2" stroke-width="1.8" />
<circle cx="374.39" cy="2446.23" r="6.3" fill="none" stroke="#c2c2c2" stroke-width="1.8" />
<circle cx="278.42" cy="2425.01" r="6.3" fill="none" stroke="#c2c2c2" stroke-width="1.8" />
<circle cx="365.26" cy="2439.67" r="6.3" fill="none" stroke="#c2c2c2" stroke-width="1.8" />
<circle cx="327.55" cy="2492.68" r="6.3" fill="none" stroke="#c2c2c2" stroke-width="1.8" />
<circle cx="369.77" cy="2498.78" r="6.3" fill="none" stroke="#c2c2c2" stroke-width="1.8" />
<circle cx="335.35" cy="2426.66" r="6.3" fill="none" stroke="#c2c2c2" stroke-width="1.8" />
<circle cx="368.83" cy="2545.19" r="6.3" fill="none" stroke="#c2c2c2" stroke-width="1.8" />
<circle cx="347.8" cy="2555.95" r="6.3" fill="none" stroke="#c2c2c2" stroke-width="1.8" />
<circle cx="341.17" cy="2604.15" r="6.3" fill="none" stroke="#c2c2c2" stroke-width="1.8" />
<circle cx="363.52" cy="2600.39" r="6.3" fill="none" stroke="#c2c2c2" stroke-width="1.8" />
<circle cx="289.48" cy="2589.83" r="6.3" fill="none" stroke="#c2c2c2" stroke-width="1.8" />
<circle cx="292.7" cy="2590.95" r="6.3" fill="none" stroke="#c2c2c2" stroke-width="1.8" />
<circle cx="291.66" cy="2585.27" r="6.3" fill="none" stroke="#c2c2c2" stroke-width="1.8" />
<circle cx="311.55" cy="2604.64" r="6.3" fill="none" stroke="#c2c2c2" stroke-width="1.8" />
<circle cx="319.92" cy="2583.2" r="6.3" fill="none" stroke="#c2c2c2" stroke-width="1.8" />
<circle cx="348.26" cy="2585.15" r="6.3" fill="none" stroke="#c2c2c2" stroke-width="1.8" />
<circle cx="321.23" cy="2594.06" r="6.3" fill="none" stroke="#c2c2c2" stroke-width="1.8" />
<circle cx="321.8" cy="2577.88" r="6.3" fill="none" stroke="#c2c2c2" stroke-width="1.8" />
<circle cx="326.23" cy="2606.12" r="6.3" fill="none" stroke="#c2c2c2" stroke-width="1.8" />
<circle cx="348.66" cy="2609.65" r="6.3" fill="none" stroke="#c2c2c2" stroke-width="1.8" />
<circle cx="347.67" cy="2605.93" r="6.3" fill="none" stroke="#c2c2c2" stroke-width="1.8" />
<circle cx="358.05" cy="2592.73" r="6.3" fill="none" stroke="#c2c2c2" stroke-width="1.8" />
<circle cx="345.48" cy="2601.95" r="6.3" fill="none" stroke="#c2c2c2" stroke-width="1.8" />
<circle cx="325.07" cy="2584.14" r="6.3" fill="none" stroke="#c2c2c2" stroke-width="1.8" />
<circle cx="401.15" cy="2453.53" r="6.3" fill="none" stroke="#c2c2c2" stroke-width="1.8" />
<circle cx="392.08" cy="2464.42" r="6.3" fill="none" stroke="#c2c2c2" stroke-width="1.8" />
<circle cx="388.46" cy="2504.32" r="6.3" fill="none" stroke="#c2c2c2" stroke-width="1.8" />
<circle cx="392.08" cy="2522.46" r="6.3" fill="none" stroke="#c2c2c2" stroke-width="1.8" />
<circle cx="393.9" cy="2544.23" r="6.3" fill="none" stroke="#c2c2c2" stroke-width="1.8" />
<circle cx="303.2" cy="2611.34" r="6.3" fill="none" stroke="#c2c2c2" stroke-width="1.8" />
<circle cx="286.88" cy="2629.48" r="6.3" fill="none" stroke="#c2c2c2" stroke-width="1.8" />
<circle cx="334.04" cy="2614.97" r="6.3" fill="none" stroke="#c2c2c2" stroke-width="1.8" />
<circle cx="179.86" cy="2439.02" r="6.9" fill="#6a1ff0" />
<circle cx="188.93" cy="2433.58" r="6.9" fill="#6a1ff0" />
<circle cx="196.18" cy="2437.21" r="6.9" fill="#6a1ff0" />
<circle cx="203.44" cy="2444.46" r="6.9" fill="#6a1ff0" />
<circle cx="143.58" cy="2498.88" r="6.9" fill="#6a1ff0" />
<circle cx="156.28" cy="2497.07" r="6.9" fill="#6a1ff0" />
<circle cx="161.72" cy="2506.14" r="6.9" fill="#6a1ff0" />
<circle cx="165.35" cy="2511.58" r="6.9" fill="#6a1ff0" />
<circle cx="158.09" cy="2515.21" r="6.9" fill="#6a1ff0" />
<circle cx="168.98" cy="2509.76" r="6.9" fill="#6a1ff0" />
<circle cx="147.21" cy="2555.11" r="6.9" fill="#6a1ff0" />
<circle cx="154.46" cy="2546.04" r="6.9" fill="#6a1ff0" />
<circle cx="161.72" cy="2540.6" r="6.9" fill="#6a1ff0" />
<circle cx="172.6" cy="2538.79" r="6.9" fill="#6a1ff0" />
<circle cx="178.04" cy="2540.6" r="6.9" fill="#6a1ff0" />
<circle cx="168.98" cy="2589.58" r="6.9" fill="#6a1ff0" />
<circle cx="341.3" cy="2461.7" r="6.9" fill="#6a1ff0" />
<circle cx="285.06" cy="2496.16" r="6.9" fill="#6a1ff0" />
<circle cx="294.13" cy="2491.63" r="6.9" fill="#6a1ff0" />
<circle cx="303.2" cy="2482.56" r="6.9" fill="#6a1ff0" />
<circle cx="312.27" cy="2475.3" r="6.9" fill="#6a1ff0" />
<circle cx="321.34" cy="2486.18" r="6.9" fill="#6a1ff0" />
<circle cx="328.6" cy="2489.81" r="6.9" fill="#6a1ff0" />
<circle cx="361.25" cy="2507.95" r="6.9" fill="#6a1ff0" />
<circle cx="355.81" cy="2517.02" r="6.9" fill="#6a1ff0" />
<circle cx="357.62" cy="2531.53" r="6.9" fill="#6a1ff0" />
<circle cx="319.53" cy="2527.9" r="6.9" fill="#6a1ff0" />
<circle cx="324.97" cy="2536.97" r="6.9" fill="#6a1ff0" />
<circle cx="328.6" cy="2544.23" r="6.9" fill="#6a1ff0" />
<circle cx="319.53" cy="2560.55" r="6.9" fill="#6a1ff0" />
<circle cx="294.13" cy="2551.48" r="6.9" fill="#6a1ff0" />
<circle cx="375.76" cy="2540.6" r="6.9" fill="#6a1ff0" />
<circle cx="373.95" cy="2564.18" r="6.9" fill="#6a1ff0" />
<circle cx="172.6" cy="2549.67" r="6.9" fill="#7d7df5" />
<circle cx="183.49" cy="2610.44" r="6.9" fill="#7d7df5" />
<circle cx="312.27" cy="2461.7" r="6.9" fill="#7d7df5" />
<circle cx="363.06" cy="2454.44" r="6.9" fill="#7d7df5" />
<circle cx="348.55" cy="2484.37" r="6.9" fill="#7d7df5" />
<circle cx="305.02" cy="2536.97" r="6.9" fill="#7d7df5" />
<circle cx="326.78" cy="2558.74" r="6.9" fill="#7d7df5" />
<polygon points="518.14,2420.88 594.32,2420.88 598.86,2482.56 595.23,2573.25 518.14,2573.25" fill="#cbcbcb" filter="url(#bl3)"/>
<circle cx="545.43" cy="2458.58" r="6.3" fill="none" stroke="#c2c2c2" stroke-width="1.8" />
<circle cx="576.93" cy="2540.49" r="6.3" fill="none" stroke="#c2c2c2" stroke-width="1.8" />
<circle cx="533.4" cy="2503.26" r="6.3" fill="none" stroke="#c2c2c2" stroke-width="1.8" />
<circle cx="591.01" cy="2476.77" r="6.3" fill="none" stroke="#c2c2c2" stroke-width="1.8" />
<circle cx="524.74" cy="2514.64" r="6.3" fill="none" stroke="#c2c2c2" stroke-width="1.8" />
<circle cx="548.53" cy="2441.77" r="6.3" fill="none" stroke="#c2c2c2" stroke-width="1.8" />
<circle cx="541.92" cy="2420.16" r="6.3" fill="none" stroke="#c2c2c2" stroke-width="1.8" />
<circle cx="529.56" cy="2486.19" r="6.3" fill="none" stroke="#c2c2c2" stroke-width="1.8" />
<circle cx="525.65" cy="2420.02" r="6.3" fill="none" stroke="#c2c2c2" stroke-width="1.8" />
<circle cx="565.21" cy="2570.21" r="6.3" fill="none" stroke="#c2c2c2" stroke-width="1.8" />
<circle cx="590.45" cy="2470.54" r="6.3" fill="none" stroke="#c2c2c2" stroke-width="1.8" />
<circle cx="598.49" cy="2431.67" r="6.3" fill="none" stroke="#c2c2c2" stroke-width="1.8" />
<circle cx="529.69" cy="2420.14" r="6.3" fill="none" stroke="#c2c2c2" stroke-width="1.8" />
<circle cx="521.52" cy="2514.04" r="6.3" fill="none" stroke="#c2c2c2" stroke-width="1.8" />
<circle cx="583.61" cy="2494.45" r="6.3" fill="none" stroke="#c2c2c2" stroke-width="1.8" />
<circle cx="587.73" cy="2490.28" r="6.3" fill="none" stroke="#c2c2c2" stroke-width="1.8" />
<circle cx="597.98" cy="2515.02" r="6.3" fill="none" stroke="#c2c2c2" stroke-width="1.8" />
<circle cx="564.05" cy="2446.01" r="6.3" fill="none" stroke="#c2c2c2" stroke-width="1.8" />
<circle cx="554.23" cy="2488.56" r="6.3" fill="none" stroke="#c2c2c2" stroke-width="1.8" />
<circle cx="589.46" cy="2455.31" r="6.3" fill="none" stroke="#c2c2c2" stroke-width="1.8" />
<circle cx="542.51" cy="2547.94" r="6.3" fill="none" stroke="#c2c2c2" stroke-width="1.8" />
<circle cx="522.63" cy="2503.81" r="6.3" fill="none" stroke="#c2c2c2" stroke-width="1.8" />
<circle cx="535.85" cy="2524.04" r="6.3" fill="none" stroke="#c2c2c2" stroke-width="1.8" />
<circle cx="569.16" cy="2433.95" r="6.3" fill="none" stroke="#c2c2c2" stroke-width="1.8" />
<circle cx="581.23" cy="2483.34" r="6.3" fill="none" stroke="#c2c2c2" stroke-width="1.8" />
<circle cx="544.83" cy="2554.24" r="6.3" fill="none" stroke="#c2c2c2" stroke-width="1.8" />
<circle cx="585.54" cy="2467.92" r="6.3" fill="none" stroke="#c2c2c2" stroke-width="1.8" />
<circle cx="576.56" cy="2438.56" r="6.3" fill="none" stroke="#c2c2c2" stroke-width="1.8" />
<circle cx="562.44" cy="2432.09" r="6.3" fill="none" stroke="#c2c2c2" stroke-width="1.8" />
<circle cx="573.28" cy="2563.62" r="6.3" fill="none" stroke="#c2c2c2" stroke-width="1.8" />
<circle cx="572.88" cy="2425.49" r="6.3" fill="none" stroke="#c2c2c2" stroke-width="1.8" />
<circle cx="561.93" cy="2493.16" r="6.3" fill="none" stroke="#c2c2c2" stroke-width="1.8" />
<circle cx="555.7" cy="2442.92" r="6.3" fill="none" stroke="#c2c2c2" stroke-width="1.8" />
<circle cx="541.05" cy="2490.01" r="6.3" fill="none" stroke="#c2c2c2" stroke-width="1.8" />
<circle cx="522.65" cy="2525.49" r="6.3" fill="none" stroke="#c2c2c2" stroke-width="1.8" />
<circle cx="537.97" cy="2464.88" r="6.3" fill="none" stroke="#c2c2c2" stroke-width="1.8" />
<circle cx="524.4" cy="2466.82" r="6.3" fill="none" stroke="#c2c2c2" stroke-width="1.8" />
<circle cx="599.09" cy="2465.12" r="6.3" fill="none" stroke="#c2c2c2" stroke-width="1.8" />
<circle cx="524.85" cy="2473.64" r="6.3" fill="none" stroke="#c2c2c2" stroke-width="1.8" />
<circle cx="600.32" cy="2432.95" r="6.3" fill="none" stroke="#c2c2c2" stroke-width="1.8" />
<circle cx="546.76" cy="2452.05" r="6.3" fill="none" stroke="#c2c2c2" stroke-width="1.8" />
<circle cx="576.93" cy="2491.92" r="6.3" fill="none" stroke="#c2c2c2" stroke-width="1.8" />
<circle cx="525.06" cy="2555.14" r="6.3" fill="none" stroke="#c2c2c2" stroke-width="1.8" />
<circle cx="545.49" cy="2527.34" r="6.3" fill="none" stroke="#c2c2c2" stroke-width="1.8" />
<circle cx="556.57" cy="2556.63" r="6.3" fill="none" stroke="#c2c2c2" stroke-width="1.8" />
<circle cx="521.49" cy="2455.06" r="6.3" fill="none" stroke="#c2c2c2" stroke-width="1.8" />
<circle cx="541.71" cy="2460.78" r="6.3" fill="none" stroke="#c2c2c2" stroke-width="1.8" />
<circle cx="589.38" cy="2498.36" r="6.3" fill="none" stroke="#c2c2c2" stroke-width="1.8" />
<circle cx="547.14" cy="2499.06" r="6.3" fill="none" stroke="#c2c2c2" stroke-width="1.8" />
<circle cx="591.5" cy="2508.98" r="6.3" fill="none" stroke="#c2c2c2" stroke-width="1.8" />
<circle cx="556.45" cy="2522.72" r="6.3" fill="none" stroke="#c2c2c2" stroke-width="1.8" />
<circle cx="570.99" cy="2483.06" r="6.3" fill="none" stroke="#c2c2c2" stroke-width="1.8" />
<circle cx="554.22" cy="2439.85" r="6.3" fill="none" stroke="#c2c2c2" stroke-width="1.8" />
<circle cx="555.35" cy="2557.77" r="6.3" fill="none" stroke="#c2c2c2" stroke-width="1.8" />
<circle cx="543.52" cy="2476.7" r="6.3" fill="none" stroke="#c2c2c2" stroke-width="1.8" />
<circle cx="569.95" cy="2512.25" r="6.3" fill="none" stroke="#c2c2c2" stroke-width="1.8" />
<circle cx="531.91" cy="2489.44" r="6.3" fill="none" stroke="#c2c2c2" stroke-width="1.8" />
<circle cx="581.56" cy="2425.61" r="6.3" fill="none" stroke="#c2c2c2" stroke-width="1.8" />
<circle cx="525.99" cy="2538.28" r="6.3" fill="none" stroke="#c2c2c2" stroke-width="1.8" />
<circle cx="596.78" cy="2429.72" r="6.3" fill="none" stroke="#c2c2c2" stroke-width="1.8" />
<circle cx="523.56" cy="2517.95" r="6.3" fill="none" stroke="#c2c2c2" stroke-width="1.8" />
<circle cx="541.61" cy="2522.67" r="6.3" fill="none" stroke="#c2c2c2" stroke-width="1.8" />
<circle cx="519.37" cy="2491.12" r="6.3" fill="none" stroke="#c2c2c2" stroke-width="1.8" />
<circle cx="530.69" cy="2471.49" r="6.3" fill="none" stroke="#c2c2c2" stroke-width="1.8" />
<circle cx="577.97" cy="2499.56" r="6.3" fill="none" stroke="#c2c2c2" stroke-width="1.8" />
<circle cx="592.18" cy="2551.9" r="6.3" fill="none" stroke="#c2c2c2" stroke-width="1.8" />
<circle cx="571.38" cy="2552.81" r="6.3" fill="none" stroke="#c2c2c2" stroke-width="1.8" />
<circle cx="532.09" cy="2493.95" r="6.3" fill="none" stroke="#c2c2c2" stroke-width="1.8" />
<circle cx="544.73" cy="2517.7" r="6.3" fill="none" stroke="#c2c2c2" stroke-width="1.8" />
<circle cx="526.22" cy="2558.77" r="6.3" fill="none" stroke="#c2c2c2" stroke-width="1.8" />
<circle cx="549.25" cy="2542.75" r="6.3" fill="none" stroke="#c2c2c2" stroke-width="1.8" />
<circle cx="600.12" cy="2567.44" r="6.3" fill="none" stroke="#c2c2c2" stroke-width="1.8" />
<circle cx="551.01" cy="2554.29" r="6.3" fill="none" stroke="#c2c2c2" stroke-width="1.8" />
<circle cx="582.76" cy="2533.83" r="6.3" fill="none" stroke="#c2c2c2" stroke-width="1.8" />
<circle cx="557.01" cy="2462.92" r="6.3" fill="none" stroke="#c2c2c2" stroke-width="1.8" />
<circle cx="531.74" cy="2484.04" r="6.3" fill="none" stroke="#c2c2c2" stroke-width="1.8" />
<circle cx="599.15" cy="2482.51" r="6.3" fill="none" stroke="#c2c2c2" stroke-width="1.8" />
<circle cx="539.02" cy="2516.82" r="6.3" fill="none" stroke="#c2c2c2" stroke-width="1.8" />
<circle cx="555.2" cy="2515.89" r="6.3" fill="none" stroke="#c2c2c2" stroke-width="1.8" />
<circle cx="556.72" cy="2464.26" r="6.3" fill="none" stroke="#c2c2c2" stroke-width="1.8" />
<circle cx="519.48" cy="2548.21" r="6.3" fill="none" stroke="#c2c2c2" stroke-width="1.8" />
<circle cx="574.9" cy="2457.53" r="6.3" fill="none" stroke="#c2c2c2" stroke-width="1.8" />
<circle cx="560.71" cy="2510.74" r="6.3" fill="none" stroke="#c2c2c2" stroke-width="1.8" />
<circle cx="561.08" cy="2561.24" r="6.3" fill="none" stroke="#c2c2c2" stroke-width="1.8" />
<circle cx="585.53" cy="2467.43" r="6.3" fill="none" stroke="#c2c2c2" stroke-width="1.8" />
<circle cx="546.43" cy="2515.61" r="6.3" fill="none" stroke="#c2c2c2" stroke-width="1.8" />
<circle cx="530.75" cy="2566.49" r="6.3" fill="none" stroke="#c2c2c2" stroke-width="1.8" />
<circle cx="520.36" cy="2497.9" r="6.3" fill="none" stroke="#c2c2c2" stroke-width="1.8" />
<circle cx="540.62" cy="2502.09" r="6.3" fill="none" stroke="#c2c2c2" stroke-width="1.8" />
<circle cx="520.38" cy="2454.45" r="6.3" fill="none" stroke="#c2c2c2" stroke-width="1.8" />
<circle cx="604.23" cy="2543.43" r="6.3" fill="none" stroke="#c2c2c2" stroke-width="1.8" />
<circle cx="535.97" cy="2491.04" r="6.3" fill="none" stroke="#c2c2c2" stroke-width="1.8" />
<circle cx="519.21" cy="2438.32" r="6.3" fill="none" stroke="#c2c2c2" stroke-width="1.8" />
<circle cx="533.38" cy="2574.4" r="6.3" fill="none" stroke="#c2c2c2" stroke-width="1.8" />
<circle cx="544.04" cy="2458.16" r="6.3" fill="none" stroke="#c2c2c2" stroke-width="1.8" />
<circle cx="522.13" cy="2436.41" r="6.3" fill="none" stroke="#c2c2c2" stroke-width="1.8" />
<circle cx="598.13" cy="2550.95" r="6.3" fill="none" stroke="#c2c2c2" stroke-width="1.8" />
<circle cx="585.89" cy="2459.31" r="6.3" fill="none" stroke="#c2c2c2" stroke-width="1.8" />
<circle cx="531.35" cy="2461.67" r="6.3" fill="none" stroke="#c2c2c2" stroke-width="1.8" />
<circle cx="522.14" cy="2446.76" r="6.3" fill="none" stroke="#c2c2c2" stroke-width="1.8" />
<circle cx="580.31" cy="2496.56" r="6.3" fill="none" stroke="#c2c2c2" stroke-width="1.8" />
<circle cx="517.26" cy="2467.16" r="6.3" fill="none" stroke="#c2c2c2" stroke-width="1.8" />
<circle cx="591.83" cy="2553.36" r="6.3" fill="none" stroke="#c2c2c2" stroke-width="1.8" />
<circle cx="581.16" cy="2534.5" r="6.3" fill="none" stroke="#c2c2c2" stroke-width="1.8" />
<circle cx="597.36" cy="2507" r="6.3" fill="none" stroke="#c2c2c2" stroke-width="1.8" />
<circle cx="550.39" cy="2509.53" r="6.3" fill="none" stroke="#c2c2c2" stroke-width="1.8" />
<circle cx="541.43" cy="2424.82" r="6.3" fill="none" stroke="#c2c2c2" stroke-width="1.8" />
<circle cx="539.43" cy="2491.28" r="6.3" fill="none" stroke="#c2c2c2" stroke-width="1.8" />
<circle cx="527" cy="2431.79" r="6.3" fill="none" stroke="#c2c2c2" stroke-width="1.8" />
<circle cx="538.31" cy="2477.17" r="6.3" fill="none" stroke="#c2c2c2" stroke-width="1.8" />
<circle cx="601.39" cy="2495.92" r="6.3" fill="none" stroke="#c2c2c2" stroke-width="1.8" />
<circle cx="590.71" cy="2536.54" r="6.3" fill="none" stroke="#c2c2c2" stroke-width="1.8" />
<circle cx="568.98" cy="2469.92" r="6.3" fill="none" stroke="#c2c2c2" stroke-width="1.8" />
<circle cx="551.23" cy="2469.12" r="6.3" fill="none" stroke="#c2c2c2" stroke-width="1.8" />
<circle cx="572.7" cy="2554" r="6.3" fill="none" stroke="#c2c2c2" stroke-width="1.8" />
<circle cx="586.59" cy="2465.66" r="6.3" fill="none" stroke="#c2c2c2" stroke-width="1.8" />
<circle cx="529.62" cy="2420.48" r="6.3" fill="none" stroke="#c2c2c2" stroke-width="1.8" />
<circle cx="568.28" cy="2455.06" r="6.3" fill="none" stroke="#c2c2c2" stroke-width="1.8" />
<circle cx="516.82" cy="2466.74" r="6.3" fill="none" stroke="#c2c2c2" stroke-width="1.8" />
<circle cx="536.63" cy="2451.46" r="6.3" fill="none" stroke="#c2c2c2" stroke-width="1.8" />
<circle cx="575.38" cy="2511.28" r="6.3" fill="none" stroke="#c2c2c2" stroke-width="1.8" />
<circle cx="541.36" cy="2534.37" r="6.3" fill="none" stroke="#c2c2c2" stroke-width="1.8" />
<circle cx="534.68" cy="2564.45" r="6.3" fill="none" stroke="#c2c2c2" stroke-width="1.8" />
<circle cx="526.89" cy="2512.49" r="6.3" fill="none" stroke="#c2c2c2" stroke-width="1.8" />
<circle cx="578.98" cy="2534.65" r="6.3" fill="none" stroke="#c2c2c2" stroke-width="1.8" />
<circle cx="559.63" cy="2556.6" r="6.3" fill="none" stroke="#c2c2c2" stroke-width="1.8" />
<circle cx="572.24" cy="2528.09" r="6.3" fill="none" stroke="#c2c2c2" stroke-width="1.8" />
<circle cx="523.35" cy="2448.53" r="6.3" fill="none" stroke="#c2c2c2" stroke-width="1.8" />
<circle cx="557.72" cy="2505.11" r="6.3" fill="none" stroke="#c2c2c2" stroke-width="1.8" />
<circle cx="524.78" cy="2536.12" r="6.3" fill="none" stroke="#c2c2c2" stroke-width="1.8" />
<circle cx="547.06" cy="2600.83" r="6.3" fill="none" stroke="#c2c2c2" stroke-width="1.8" />
<circle cx="561.69" cy="2621.94" r="6.3" fill="none" stroke="#c2c2c2" stroke-width="1.8" />
<circle cx="543.35" cy="2605.74" r="6.3" fill="none" stroke="#c2c2c2" stroke-width="1.8" />
<circle cx="568.66" cy="2611.29" r="6.3" fill="none" stroke="#c2c2c2" stroke-width="1.8" />
<circle cx="544.19" cy="2589.45" r="6.3" fill="none" stroke="#c2c2c2" stroke-width="1.8" />
<circle cx="557.39" cy="2608.14" r="6.3" fill="none" stroke="#c2c2c2" stroke-width="1.8" />
<circle cx="571.93" cy="2581.02" r="6.3" fill="none" stroke="#c2c2c2" stroke-width="1.8" />
<circle cx="555.36" cy="2605.77" r="6.3" fill="none" stroke="#c2c2c2" stroke-width="1.8" />
<circle cx="534.39" cy="2579.18" r="6.3" fill="none" stroke="#c2c2c2" stroke-width="1.8" />
<circle cx="595.65" cy="2574.46" r="6.3" fill="none" stroke="#c2c2c2" stroke-width="1.8" />
<circle cx="559.75" cy="2590.35" r="6.3" fill="none" stroke="#c2c2c2" stroke-width="1.8" />
<circle cx="520.73" cy="2588.92" r="6.3" fill="none" stroke="#c2c2c2" stroke-width="1.8" />
<circle cx="531.61" cy="2596.48" r="6.3" fill="none" stroke="#c2c2c2" stroke-width="1.8" />
<circle cx="594.05" cy="2577.86" r="6.3" fill="none" stroke="#c2c2c2" stroke-width="1.8" />
<circle cx="547.48" cy="2613.59" r="6.3" fill="none" stroke="#c2c2c2" stroke-width="1.8" />
<circle cx="570.28" cy="2574.46" r="6.3" fill="none" stroke="#c2c2c2" stroke-width="1.8" />
<circle cx="537.23" cy="2589.57" r="6.3" fill="none" stroke="#c2c2c2" stroke-width="1.8" />
<circle cx="592.81" cy="2598.91" r="6.3" fill="none" stroke="#c2c2c2" stroke-width="1.8" />
<circle cx="614.28" cy="2426.33" r="6.3" fill="none" stroke="#c2c2c2" stroke-width="1.8" />
<circle cx="616.09" cy="2449.91" r="6.3" fill="none" stroke="#c2c2c2" stroke-width="1.8" />
<circle cx="608.83" cy="2507.95" r="6.3" fill="none" stroke="#c2c2c2" stroke-width="1.8" />
<circle cx="607.02" cy="2540.6" r="6.3" fill="none" stroke="#c2c2c2" stroke-width="1.8" />
<polygon points="659.62,2420.88 766.64,2420.88 773.9,2500.69 766.64,2569.62 690.46,2587.76 663.25,2536.97" fill="#cbcbcb" filter="url(#bl3)"/>
<circle cx="687.76" cy="2501.82" r="6.3" fill="none" stroke="#c2c2c2" stroke-width="1.8" />
<circle cx="715.83" cy="2444.82" r="6.3" fill="none" stroke="#c2c2c2" stroke-width="1.8" />
<circle cx="738.27" cy="2543.3" r="6.3" fill="none" stroke="#c2c2c2" stroke-width="1.8" />
<circle cx="714.86" cy="2511.67" r="6.3" fill="none" stroke="#c2c2c2" stroke-width="1.8" />
<circle cx="731.58" cy="2426.71" r="6.3" fill="none" stroke="#c2c2c2" stroke-width="1.8" />
<circle cx="718.3" cy="2533.19" r="6.3" fill="none" stroke="#c2c2c2" stroke-width="1.8" />
<circle cx="696.81" cy="2536.98" r="6.3" fill="none" stroke="#c2c2c2" stroke-width="1.8" />
<circle cx="701.36" cy="2525.29" r="6.3" fill="none" stroke="#c2c2c2" stroke-width="1.8" />
<circle cx="731.75" cy="2534.53" r="6.3" fill="none" stroke="#c2c2c2" stroke-width="1.8" />
<circle cx="770.15" cy="2541.04" r="6.3" fill="none" stroke="#c2c2c2" stroke-width="1.8" />
<circle cx="743.49" cy="2540.41" r="6.3" fill="none" stroke="#c2c2c2" stroke-width="1.8" />
<circle cx="684.44" cy="2524.89" r="6.3" fill="none" stroke="#c2c2c2" stroke-width="1.8" />
<circle cx="732.52" cy="2429.58" r="6.3" fill="none" stroke="#c2c2c2" stroke-width="1.8" />
<circle cx="749.03" cy="2458.15" r="6.3" fill="none" stroke="#c2c2c2" stroke-width="1.8" />
<circle cx="716.69" cy="2509.32" r="6.3" fill="none" stroke="#c2c2c2" stroke-width="1.8" />
<circle cx="745.08" cy="2550.94" r="6.3" fill="none" stroke="#c2c2c2" stroke-width="1.8" />
<circle cx="713.74" cy="2580.97" r="6.3" fill="none" stroke="#c2c2c2" stroke-width="1.8" />
<circle cx="710.64" cy="2516.68" r="6.3" fill="none" stroke="#c2c2c2" stroke-width="1.8" />
<circle cx="666.41" cy="2552.99" r="6.3" fill="none" stroke="#c2c2c2" stroke-width="1.8" />
<circle cx="736.4" cy="2512.07" r="6.3" fill="none" stroke="#c2c2c2" stroke-width="1.8" />
<circle cx="753.38" cy="2567.26" r="6.3" fill="none" stroke="#c2c2c2" stroke-width="1.8" />
<circle cx="674.08" cy="2502.91" r="6.3" fill="none" stroke="#c2c2c2" stroke-width="1.8" />
<circle cx="731.91" cy="2539.49" r="6.3" fill="none" stroke="#c2c2c2" stroke-width="1.8" />
<circle cx="774.21" cy="2557.43" r="6.3" fill="none" stroke="#c2c2c2" stroke-width="1.8" />
<circle cx="758.18" cy="2430.2" r="6.3" fill="none" stroke="#c2c2c2" stroke-width="1.8" />
<circle cx="708.58" cy="2576.47" r="6.3" fill="none" stroke="#c2c2c2" stroke-width="1.8" />
<circle cx="772.69" cy="2549.36" r="6.3" fill="none" stroke="#c2c2c2" stroke-width="1.8" />
<circle cx="697.15" cy="2551.73" r="6.3" fill="none" stroke="#c2c2c2" stroke-width="1.8" />
<circle cx="721.58" cy="2534.09" r="6.3" fill="none" stroke="#c2c2c2" stroke-width="1.8" />
<circle cx="734.62" cy="2568.17" r="6.3" fill="none" stroke="#c2c2c2" stroke-width="1.8" />
<circle cx="716.87" cy="2504.11" r="6.3" fill="none" stroke="#c2c2c2" stroke-width="1.8" />
<circle cx="737.09" cy="2515.88" r="6.3" fill="none" stroke="#c2c2c2" stroke-width="1.8" />
<circle cx="695.31" cy="2505.16" r="6.3" fill="none" stroke="#c2c2c2" stroke-width="1.8" />
<circle cx="661.22" cy="2451.87" r="6.3" fill="none" stroke="#c2c2c2" stroke-width="1.8" />
<circle cx="770.55" cy="2466.87" r="6.3" fill="none" stroke="#c2c2c2" stroke-width="1.8" />
<circle cx="692.83" cy="2558.98" r="6.3" fill="none" stroke="#c2c2c2" stroke-width="1.8" />
<circle cx="685.77" cy="2534.09" r="6.3" fill="none" stroke="#c2c2c2" stroke-width="1.8" />
<circle cx="726.1" cy="2573.54" r="6.3" fill="none" stroke="#c2c2c2" stroke-width="1.8" />
<circle cx="714.81" cy="2475.7" r="6.3" fill="none" stroke="#c2c2c2" stroke-width="1.8" />
<circle cx="687.95" cy="2481.76" r="6.3" fill="none" stroke="#c2c2c2" stroke-width="1.8" />
<circle cx="674.35" cy="2473.28" r="6.3" fill="none" stroke="#c2c2c2" stroke-width="1.8" />
<circle cx="699.69" cy="2462.12" r="6.3" fill="none" stroke="#c2c2c2" stroke-width="1.8" />
<circle cx="692.17" cy="2527.46" r="6.3" fill="none" stroke="#c2c2c2" stroke-width="1.8" />
<circle cx="715.04" cy="2439.32" r="6.3" fill="none" stroke="#c2c2c2" stroke-width="1.8" />
<circle cx="720.6" cy="2465.41" r="6.3" fill="none" stroke="#c2c2c2" stroke-width="1.8" />
<circle cx="673.76" cy="2554.38" r="6.3" fill="none" stroke="#c2c2c2" stroke-width="1.8" />
<circle cx="668.97" cy="2494.77" r="6.3" fill="none" stroke="#c2c2c2" stroke-width="1.8" />
<circle cx="750.47" cy="2512.61" r="6.3" fill="none" stroke="#c2c2c2" stroke-width="1.8" />
<circle cx="763.75" cy="2473.74" r="6.3" fill="none" stroke="#c2c2c2" stroke-width="1.8" />
<circle cx="766.41" cy="2492.18" r="6.3" fill="none" stroke="#c2c2c2" stroke-width="1.8" />
<circle cx="746.93" cy="2558.83" r="6.3" fill="none" stroke="#c2c2c2" stroke-width="1.8" />
<circle cx="656.78" cy="2471.95" r="6.3" fill="none" stroke="#c2c2c2" stroke-width="1.8" />
<circle cx="713.44" cy="2575.75" r="6.3" fill="none" stroke="#c2c2c2" stroke-width="1.8" />
<circle cx="767.99" cy="2444.82" r="6.3" fill="none" stroke="#c2c2c2" stroke-width="1.8" />
<circle cx="693.57" cy="2433.32" r="6.3" fill="none" stroke="#c2c2c2" stroke-width="1.8" />
<circle cx="708.63" cy="2508.78" r="6.3" fill="none" stroke="#c2c2c2" stroke-width="1.8" />
<circle cx="711.92" cy="2472.57" r="6.3" fill="none" stroke="#c2c2c2" stroke-width="1.8" />
<circle cx="772.9" cy="2500.98" r="6.3" fill="none" stroke="#c2c2c2" stroke-width="1.8" />
<circle cx="693.94" cy="2553.06" r="6.3" fill="none" stroke="#c2c2c2" stroke-width="1.8" />
<circle cx="686.13" cy="2491.92" r="6.3" fill="none" stroke="#c2c2c2" stroke-width="1.8" />
<circle cx="668.83" cy="2460.09" r="6.3" fill="none" stroke="#c2c2c2" stroke-width="1.8" />
<circle cx="720.58" cy="2535.09" r="6.3" fill="none" stroke="#c2c2c2" stroke-width="1.8" />
<circle cx="738.91" cy="2508.9" r="6.3" fill="none" stroke="#c2c2c2" stroke-width="1.8" />
<circle cx="701.23" cy="2444.47" r="6.3" fill="none" stroke="#c2c2c2" stroke-width="1.8" />
<circle cx="659.63" cy="2439.91" r="6.3" fill="none" stroke="#c2c2c2" stroke-width="1.8" />
<circle cx="705.98" cy="2420.83" r="6.3" fill="none" stroke="#c2c2c2" stroke-width="1.8" />
<circle cx="739.2" cy="2477.19" r="6.3" fill="none" stroke="#c2c2c2" stroke-width="1.8" />
<circle cx="684.8" cy="2473.12" r="6.3" fill="none" stroke="#c2c2c2" stroke-width="1.8" />
<circle cx="716.78" cy="2455.18" r="6.3" fill="none" stroke="#c2c2c2" stroke-width="1.8" />
<circle cx="761.13" cy="2502.29" r="6.3" fill="none" stroke="#c2c2c2" stroke-width="1.8" />
<circle cx="664.46" cy="2433.75" r="6.3" fill="none" stroke="#c2c2c2" stroke-width="1.8" />
<circle cx="765.81" cy="2518.7" r="6.3" fill="none" stroke="#c2c2c2" stroke-width="1.8" />
<circle cx="691.93" cy="2541.94" r="6.3" fill="none" stroke="#c2c2c2" stroke-width="1.8" />
<circle cx="661.67" cy="2572.25" r="6.3" fill="none" stroke="#c2c2c2" stroke-width="1.8" />
<circle cx="771.51" cy="2533.55" r="6.3" fill="none" stroke="#c2c2c2" stroke-width="1.8" />
<circle cx="662.22" cy="2492.44" r="6.3" fill="none" stroke="#c2c2c2" stroke-width="1.8" />
<circle cx="759.22" cy="2521.33" r="6.3" fill="none" stroke="#c2c2c2" stroke-width="1.8" />
<circle cx="681.77" cy="2459.47" r="6.3" fill="none" stroke="#c2c2c2" stroke-width="1.8" />
<circle cx="663.85" cy="2508.99" r="6.3" fill="none" stroke="#c2c2c2" stroke-width="1.8" />
<circle cx="678.37" cy="2495.84" r="6.3" fill="none" stroke="#c2c2c2" stroke-width="1.8" />
<circle cx="766.46" cy="2574.3" r="6.3" fill="none" stroke="#c2c2c2" stroke-width="1.8" />
<circle cx="716.67" cy="2554.16" r="6.3" fill="none" stroke="#c2c2c2" stroke-width="1.8" />
<circle cx="672.53" cy="2582.39" r="6.3" fill="none" stroke="#c2c2c2" stroke-width="1.8" />
<circle cx="762.75" cy="2502.25" r="6.3" fill="none" stroke="#c2c2c2" stroke-width="1.8" />
<circle cx="765.28" cy="2470.3" r="6.3" fill="none" stroke="#c2c2c2" stroke-width="1.8" />
<circle cx="770.01" cy="2563.32" r="6.3" fill="none" stroke="#c2c2c2" stroke-width="1.8" />
<circle cx="771.26" cy="2544.34" r="6.3" fill="none" stroke="#c2c2c2" stroke-width="1.8" />
<circle cx="665.04" cy="2467.25" r="6.3" fill="none" stroke="#c2c2c2" stroke-width="1.8" />
<circle cx="736.87" cy="2575.64" r="6.3" fill="none" stroke="#c2c2c2" stroke-width="1.8" />
<circle cx="739.98" cy="2425.8" r="6.3" fill="none" stroke="#c2c2c2" stroke-width="1.8" />
<circle cx="698.87" cy="2478.53" r="6.3" fill="none" stroke="#c2c2c2" stroke-width="1.8" />
<circle cx="677.11" cy="2457.85" r="6.3" fill="none" stroke="#c2c2c2" stroke-width="1.8" />
<circle cx="719.66" cy="2483.31" r="6.3" fill="none" stroke="#c2c2c2" stroke-width="1.8" />
<circle cx="688.93" cy="2490.08" r="6.3" fill="none" stroke="#c2c2c2" stroke-width="1.8" />
<circle cx="772.83" cy="2521.9" r="6.3" fill="none" stroke="#c2c2c2" stroke-width="1.8" />
<circle cx="659.81" cy="2570.78" r="6.3" fill="none" stroke="#c2c2c2" stroke-width="1.8" />
<circle cx="667.73" cy="2452.89" r="6.3" fill="none" stroke="#c2c2c2" stroke-width="1.8" />
<circle cx="747.2" cy="2548.81" r="6.3" fill="none" stroke="#c2c2c2" stroke-width="1.8" />
<circle cx="731.83" cy="2501.11" r="6.3" fill="none" stroke="#c2c2c2" stroke-width="1.8" />
<circle cx="745.07" cy="2492.82" r="6.3" fill="none" stroke="#c2c2c2" stroke-width="1.8" />
<circle cx="679.97" cy="2456.89" r="6.3" fill="none" stroke="#c2c2c2" stroke-width="1.8" />
<circle cx="669.9" cy="2425.4" r="6.3" fill="none" stroke="#c2c2c2" stroke-width="1.8" />
<circle cx="698.99" cy="2490.15" r="6.3" fill="none" stroke="#c2c2c2" stroke-width="1.8" />
<circle cx="690.38" cy="2553.7" r="6.3" fill="none" stroke="#c2c2c2" stroke-width="1.8" />
<circle cx="716.73" cy="2448.44" r="6.3" fill="none" stroke="#c2c2c2" stroke-width="1.8" />
<circle cx="661.73" cy="2498.19" r="6.3" fill="none" stroke="#c2c2c2" stroke-width="1.8" />
<circle cx="683.25" cy="2529.2" r="6.3" fill="none" stroke="#c2c2c2" stroke-width="1.8" />
<circle cx="700.24" cy="2470.4" r="6.3" fill="none" stroke="#c2c2c2" stroke-width="1.8" />
<circle cx="693.29" cy="2523.72" r="6.3" fill="none" stroke="#c2c2c2" stroke-width="1.8" />
<circle cx="718.06" cy="2503.13" r="6.3" fill="none" stroke="#c2c2c2" stroke-width="1.8" />
<circle cx="739.94" cy="2500.62" r="6.3" fill="none" stroke="#c2c2c2" stroke-width="1.8" />
<circle cx="772.78" cy="2494.66" r="6.3" fill="none" stroke="#c2c2c2" stroke-width="1.8" />
<circle cx="732.68" cy="2520.64" r="6.3" fill="none" stroke="#c2c2c2" stroke-width="1.8" />
<circle cx="753.4" cy="2541.74" r="6.3" fill="none" stroke="#c2c2c2" stroke-width="1.8" />
<circle cx="679.86" cy="2490.89" r="6.3" fill="none" stroke="#c2c2c2" stroke-width="1.8" />
<circle cx="675.35" cy="2422.7" r="6.3" fill="none" stroke="#c2c2c2" stroke-width="1.8" />
<circle cx="740.77" cy="2475.73" r="6.3" fill="none" stroke="#c2c2c2" stroke-width="1.8" />
<circle cx="687.42" cy="2423.56" r="6.3" fill="none" stroke="#c2c2c2" stroke-width="1.8" />
<circle cx="658.78" cy="2534.82" r="6.3" fill="none" stroke="#c2c2c2" stroke-width="1.8" />
<circle cx="700.14" cy="2494.21" r="6.3" fill="none" stroke="#c2c2c2" stroke-width="1.8" />
<circle cx="739.36" cy="2575.45" r="6.3" fill="none" stroke="#c2c2c2" stroke-width="1.8" />
<circle cx="742.46" cy="2456.85" r="6.3" fill="none" stroke="#c2c2c2" stroke-width="1.8" />
<circle cx="727.63" cy="2530.04" r="6.3" fill="none" stroke="#c2c2c2" stroke-width="1.8" />
<circle cx="691.45" cy="2572.26" r="6.3" fill="none" stroke="#c2c2c2" stroke-width="1.8" />
<circle cx="731.23" cy="2541.41" r="6.3" fill="none" stroke="#c2c2c2" stroke-width="1.8" />
<circle cx="673.08" cy="2562.49" r="6.3" fill="none" stroke="#c2c2c2" stroke-width="1.8" />
<circle cx="691.43" cy="2525.58" r="6.3" fill="none" stroke="#c2c2c2" stroke-width="1.8" />
<circle cx="746.9" cy="2474.59" r="6.3" fill="none" stroke="#c2c2c2" stroke-width="1.8" />
<circle cx="688.71" cy="2476" r="6.3" fill="none" stroke="#c2c2c2" stroke-width="1.8" />
<circle cx="776.65" cy="2532.38" r="6.3" fill="none" stroke="#c2c2c2" stroke-width="1.8" />
<circle cx="714.12" cy="2515.9" r="6.3" fill="none" stroke="#c2c2c2" stroke-width="1.8" />
<circle cx="736.87" cy="2464.23" r="6.3" fill="none" stroke="#c2c2c2" stroke-width="1.8" />
<circle cx="665.35" cy="2437.88" r="6.3" fill="none" stroke="#c2c2c2" stroke-width="1.8" />
<circle cx="727.79" cy="2522.24" r="6.3" fill="none" stroke="#c2c2c2" stroke-width="1.8" />
<circle cx="776.62" cy="2526.07" r="6.3" fill="none" stroke="#c2c2c2" stroke-width="1.8" />
<circle cx="717.23" cy="2491.73" r="6.3" fill="none" stroke="#c2c2c2" stroke-width="1.8" />
<circle cx="714.11" cy="2483.12" r="6.3" fill="none" stroke="#c2c2c2" stroke-width="1.8" />
<circle cx="749.75" cy="2518.19" r="6.3" fill="none" stroke="#c2c2c2" stroke-width="1.8" />
<circle cx="720.93" cy="2548.09" r="6.3" fill="none" stroke="#c2c2c2" stroke-width="1.8" />
<circle cx="723.51" cy="2520.48" r="6.3" fill="none" stroke="#c2c2c2" stroke-width="1.8" />
<circle cx="727.06" cy="2438.83" r="6.3" fill="none" stroke="#c2c2c2" stroke-width="1.8" />
<circle cx="672.13" cy="2545.02" r="6.3" fill="none" stroke="#c2c2c2" stroke-width="1.8" />
<circle cx="699.11" cy="2441.26" r="6.3" fill="none" stroke="#c2c2c2" stroke-width="1.8" />
<circle cx="756.58" cy="2547.95" r="6.3" fill="none" stroke="#c2c2c2" stroke-width="1.8" />
<circle cx="750.21" cy="2485.77" r="6.3" fill="none" stroke="#c2c2c2" stroke-width="1.8" />
<circle cx="672.24" cy="2549.96" r="6.3" fill="none" stroke="#c2c2c2" stroke-width="1.8" />
<circle cx="682.59" cy="2534.21" r="6.3" fill="none" stroke="#c2c2c2" stroke-width="1.8" />
<circle cx="741.9" cy="2466.17" r="6.3" fill="none" stroke="#c2c2c2" stroke-width="1.8" />
<circle cx="753.48" cy="2520.46" r="6.3" fill="none" stroke="#c2c2c2" stroke-width="1.8" />
<circle cx="746.17" cy="2494.08" r="6.3" fill="none" stroke="#c2c2c2" stroke-width="1.8" />
<circle cx="727.57" cy="2471.15" r="6.3" fill="none" stroke="#c2c2c2" stroke-width="1.8" />
<circle cx="684.42" cy="2513.57" r="6.3" fill="none" stroke="#c2c2c2" stroke-width="1.8" />
<circle cx="730.92" cy="2575.81" r="6.3" fill="none" stroke="#c2c2c2" stroke-width="1.8" />
<circle cx="730.49" cy="2505.18" r="6.3" fill="none" stroke="#c2c2c2" stroke-width="1.8" />
<circle cx="736.28" cy="2527.27" r="6.3" fill="none" stroke="#c2c2c2" stroke-width="1.8" />
<circle cx="706.31" cy="2465.01" r="6.3" fill="none" stroke="#c2c2c2" stroke-width="1.8" />
<circle cx="740.16" cy="2485.73" r="6.3" fill="none" stroke="#c2c2c2" stroke-width="1.8" />
<circle cx="660.59" cy="2448.36" r="6.3" fill="none" stroke="#c2c2c2" stroke-width="1.8" />
<circle cx="700.27" cy="2537.38" r="6.3" fill="none" stroke="#c2c2c2" stroke-width="1.8" />
<circle cx="736.93" cy="2503.54" r="6.3" fill="none" stroke="#c2c2c2" stroke-width="1.8" />
<circle cx="742.92" cy="2587.39" r="6.3" fill="none" stroke="#c2c2c2" stroke-width="1.8" />
<circle cx="705.78" cy="2610.5" r="6.3" fill="none" stroke="#c2c2c2" stroke-width="1.8" />
<circle cx="731.98" cy="2592.8" r="6.3" fill="none" stroke="#c2c2c2" stroke-width="1.8" />
<circle cx="748.75" cy="2571.06" r="6.3" fill="none" stroke="#c2c2c2" stroke-width="1.8" />
<circle cx="747.92" cy="2580.13" r="6.3" fill="none" stroke="#c2c2c2" stroke-width="1.8" />
<circle cx="730.79" cy="2604.55" r="6.3" fill="none" stroke="#c2c2c2" stroke-width="1.8" />
<circle cx="708.86" cy="2576.41" r="6.3" fill="none" stroke="#c2c2c2" stroke-width="1.8" />
<circle cx="732.33" cy="2573.45" r="6.3" fill="none" stroke="#c2c2c2" stroke-width="1.8" />
<circle cx="745.54" cy="2577.57" r="6.3" fill="none" stroke="#c2c2c2" stroke-width="1.8" />
<circle cx="717.54" cy="2610.7" r="6.3" fill="none" stroke="#c2c2c2" stroke-width="1.8" />
<circle cx="705.35" cy="2582.82" r="6.3" fill="none" stroke="#c2c2c2" stroke-width="1.8" />
<circle cx="693.08" cy="2618.86" r="6.3" fill="none" stroke="#c2c2c2" stroke-width="1.8" />
<circle cx="698.97" cy="2609.37" r="6.3" fill="none" stroke="#c2c2c2" stroke-width="1.8" />
<circle cx="695.32" cy="2602.81" r="6.3" fill="none" stroke="#c2c2c2" stroke-width="1.8" />
<circle cx="689.68" cy="2580.64" r="6.3" fill="none" stroke="#c2c2c2" stroke-width="1.8" />
<circle cx="728.06" cy="2572.23" r="6.3" fill="none" stroke="#c2c2c2" stroke-width="1.8" />
<circle cx="782.97" cy="2449.91" r="6.3" fill="none" stroke="#c2c2c2" stroke-width="1.8" />
<circle cx="772.08" cy="2458.98" r="6.3" fill="none" stroke="#c2c2c2" stroke-width="1.8" />
<circle cx="686.83" cy="2607.71" r="6.3" fill="none" stroke="#c2c2c2" stroke-width="1.8" />
<circle cx="670.51" cy="2624.04" r="6.3" fill="none" stroke="#c2c2c2" stroke-width="1.8" />
<circle cx="717.67" cy="2611.34" r="6.3" fill="none" stroke="#c2c2c2" stroke-width="1.8" />
<circle cx="531.74" cy="2426.33" r="6.9" fill="#f27ab8" />
<circle cx="572.56" cy="2428.14" r="6.9" fill="#f27ab8" />
<circle cx="587.07" cy="2437.21" r="6.9" fill="#f27ab8" />
<circle cx="545.35" cy="2458.98" r="6.9" fill="#f27ab8" />
<circle cx="566.21" cy="2464.42" r="6.9" fill="#f27ab8" />
<circle cx="574.37" cy="2486.18" r="6.9" fill="#f27ab8" />
<circle cx="543.53" cy="2497.07" r="6.9" fill="#f27ab8" />
<circle cx="592.51" cy="2507.95" r="6.9" fill="#f27ab8" />
<circle cx="567.11" cy="2517.02" r="6.9" fill="#f27ab8" />
<circle cx="523.58" cy="2527.9" r="6.9" fill="#f27ab8" />
<circle cx="543.53" cy="2536.97" r="6.9" fill="#f27ab8" />
<circle cx="572.56" cy="2531.53" r="6.9" fill="#f27ab8" />
<circle cx="527.21" cy="2551.48" r="6.9" fill="#f27ab8" />
<circle cx="568.93" cy="2562.37" r="6.9" fill="#f27ab8" />
<circle cx="523.58" cy="2562.37" r="6.9" fill="#f27ab8" />
<circle cx="548.98" cy="2583.23" r="6.9" fill="#f27ab8" />
<circle cx="583.44" cy="2581.41" r="6.9" fill="#f27ab8" />
<circle cx="607.02" cy="2585.04" r="6.9" fill="#f27ab8" />
<circle cx="594.32" cy="2604.99" r="6.9" fill="#f27ab8" />
<circle cx="529.02" cy="2435.39" r="6.9" fill="#f27ab8" />
<circle cx="559.86" cy="2486.18" r="6.9" fill="#f27ab8" />
<circle cx="576.18" cy="2540.6" r="6.9" fill="#f27ab8" />
<circle cx="674.13" cy="2426.33" r="6.9" fill="#f27ab8" />
<circle cx="733.99" cy="2426.33" r="6.9" fill="#f27ab8" />
<circle cx="699.53" cy="2446.28" r="6.9" fill="#f27ab8" />
<circle cx="714.04" cy="2451.72" r="6.9" fill="#f27ab8" />
<circle cx="741.25" cy="2462.6" r="6.9" fill="#f27ab8" />
<circle cx="761.2" cy="2440.84" r="6.9" fill="#f27ab8" />
<circle cx="681.39" cy="2457.16" r="6.9" fill="#f27ab8" />
<circle cx="695.9" cy="2473.49" r="6.9" fill="#f27ab8" />
<circle cx="752.13" cy="2491.63" r="6.9" fill="#f27ab8" />
<circle cx="701.34" cy="2497.07" r="6.9" fill="#f27ab8" />
<circle cx="685.02" cy="2518.83" r="6.9" fill="#f27ab8" />
<circle cx="692.27" cy="2536.97" r="6.9" fill="#f27ab8" />
<circle cx="732.18" cy="2535.16" r="6.9" fill="#f27ab8" />
<circle cx="759.39" cy="2535.16" r="6.9" fill="#f27ab8" />
<circle cx="704.97" cy="2509.76" r="6.9" fill="#f27ab8" />
<circle cx="681.39" cy="2533.34" r="6.9" fill="#f27ab8" />
<circle cx="694.09" cy="2437.21" r="6.9" fill="#f27ab8" />
<circle cx="708.6" cy="2518.83" r="6.9" fill="#f27ab8" />
<circle cx="681.39" cy="2488" r="6.9" fill="#f27ab8" />
<circle cx="699.53" cy="2455.35" r="6.9" fill="#f27ab8" />
<circle cx="690.46" cy="2506.14" r="6.9" fill="#f27ab8" />
<circle cx="703.16" cy="2533.34" r="6.9" fill="#f27ab8" />
<circle cx="710.41" cy="2466.23" r="6.9" fill="#f27ab8" />
<circle cx="726.74" cy="2455.35" r="6.9" fill="#f27ab8" />
<circle cx="560.77" cy="2438.12" r="6.9" fill="#d0156e" />
<circle cx="583.44" cy="2439.02" r="6.9" fill="#d0156e" />
<circle cx="532.65" cy="2444.46" r="6.9" fill="#d0156e" />
<circle cx="551.7" cy="2451.72" r="6.9" fill="#d0156e" />
<circle cx="571.65" cy="2455.35" r="6.9" fill="#d0156e" />
<circle cx="586.16" cy="2456.25" r="6.9" fill="#d0156e" />
<circle cx="531.74" cy="2473.49" r="6.9" fill="#d0156e" />
<circle cx="548.98" cy="2472.58" r="6.9" fill="#d0156e" />
<circle cx="582.53" cy="2477.11" r="6.9" fill="#d0156e" />
<circle cx="525.39" cy="2486.18" r="6.9" fill="#d0156e" />
<circle cx="538.09" cy="2488" r="6.9" fill="#d0156e" />
<circle cx="539.91" cy="2500.69" r="6.9" fill="#d0156e" />
<circle cx="523.58" cy="2513.39" r="6.9" fill="#d0156e" />
<circle cx="541.72" cy="2507.95" r="6.9" fill="#d0156e" />
<circle cx="555.32" cy="2511.58" r="6.9" fill="#d0156e" />
<circle cx="536.28" cy="2526.09" r="6.9" fill="#d0156e" />
<circle cx="534.46" cy="2540.6" r="6.9" fill="#d0156e" />
<circle cx="561.67" cy="2545.14" r="6.9" fill="#d0156e" />
<circle cx="538.09" cy="2564.18" r="6.9" fill="#d0156e" />
<circle cx="527.21" cy="2482.56" r="6.9" fill="#d0156e" />
<circle cx="683.2" cy="2439.02" r="6.9" fill="#d0156e" />
<circle cx="718.57" cy="2439.93" r="6.9" fill="#d0156e" />
<circle cx="733.99" cy="2444.46" r="6.9" fill="#d0156e" />
<circle cx="746.69" cy="2444.46" r="6.9" fill="#d0156e" />
<circle cx="670.51" cy="2460.79" r="6.9" fill="#d0156e" />
<circle cx="688.65" cy="2464.42" r="6.9" fill="#d0156e" />
<circle cx="703.16" cy="2462.6" r="6.9" fill="#d0156e" />
<circle cx="721.3" cy="2466.23" r="6.9" fill="#d0156e" />
<circle cx="668.69" cy="2478.93" r="6.9" fill="#d0156e" />
<circle cx="690.46" cy="2484.37" r="6.9" fill="#d0156e" />
<circle cx="708.6" cy="2478.93" r="6.9" fill="#d0156e" />
<circle cx="723.11" cy="2491.63" r="6.9" fill="#d0156e" />
<circle cx="735.81" cy="2497.07" r="6.9" fill="#d0156e" />
<circle cx="739.43" cy="2506.14" r="6.9" fill="#d0156e" />
<circle cx="675.95" cy="2509.76" r="6.9" fill="#d0156e" />
<circle cx="712.23" cy="2527.9" r="6.9" fill="#d0156e" />
<circle cx="717.67" cy="2536.97" r="6.9" fill="#d0156e" />
<circle cx="679.58" cy="2547.86" r="6.9" fill="#d0156e" />
<circle cx="675.95" cy="2556.93" r="6.9" fill="#d0156e" />
<circle cx="695.9" cy="2553.3" r="6.9" fill="#d0156e" />
<circle cx="704.97" cy="2542.41" r="6.9" fill="#d0156e" />
<circle cx="682.3" cy="2583.23" r="6.9" fill="#d0156e" />
<circle cx="694.09" cy="2583.23" r="6.9" fill="#d0156e" />
<circle cx="681.39" cy="2431.77" r="6.9" fill="#d0156e" />
<circle cx="674.13" cy="2489.81" r="6.9" fill="#d0156e" />
<circle cx="715.85" cy="2533.34" r="6.9" fill="#d0156e" />
<rect x="1021.4" y="2217.73" width="7.9" height="21.76" fill="#6a2ef0" />
<rect x="1023.2" y="2254" width="6.1" height="10.88" fill="#6a2ef0" />
<rect x="1014" y="2264.88" width="15.3" height="10.88" fill="#6a2ef0" />
<rect x="992.3" y="2275.76" width="37" height="10.88" fill="#6a2ef0" />
<rect x="1014" y="2286.64" width="15.3" height="10.88" fill="#6a2ef0" />
<rect x="999.6" y="2297.53" width="29.7" height="10.88" fill="#6a2ef0" />
<rect x="1016" y="2308.41" width="13.3" height="10.88" fill="#6a2ef0" />
<rect x="1021.4" y="2319.29" width="7.9" height="10.88" fill="#6a2ef0" />
<rect x="1016" y="2330.17" width="13.3" height="10.88" fill="#6a2ef0" />
<rect x="992.3" y="2341.05" width="37" height="10.88" fill="#6a2ef0" />
<rect x="1016" y="2351.93" width="13.3" height="10.88" fill="#6a2ef0" />
<rect x="1025" y="2362.81" width="4.3" height="10.88" fill="#6a2ef0" />
<rect x="1016" y="2373.7" width="13.3" height="10.88" fill="#6a2ef0" />
<rect x="1045" y="2217.73" width="16.3" height="10.88" fill="#6a2ef0" />
<rect x="1045" y="2228.61" width="2" height="10.88" fill="#6a2ef0" />
<rect x="1045" y="2241.31" width="16.3" height="10.88" fill="#6a2ef0" />
<rect x="1045" y="2273.95" width="7" height="12.69" fill="#6a2ef0" />
<rect x="1045" y="2295.71" width="7" height="23.58" fill="#6a2ef0" />
<rect x="1045" y="2319.29" width="23.5" height="10.88" fill="#6a2ef0" />
<rect x="1045" y="2330.17" width="14.4" height="10.88" fill="#6a2ef0" />
<rect x="1045" y="2341.05" width="23.5" height="10.88" fill="#6a2ef0" />
<rect x="1045" y="2351.93" width="16.3" height="21.76" fill="#6a2ef0" />
<rect x="1045" y="2373.7" width="32.6" height="10.88" fill="#6a2ef0" />
<rect x="1045" y="2395.46" width="7" height="10.88" fill="#6a2ef0" />
<rect x="1045" y="2406.34" width="14.4" height="10.88" fill="#6a2ef0" />
<rect x="1045" y="2417.22" width="25.3" height="10.88" fill="#6a2ef0" />
<rect x="1045" y="2428.1" width="39.8" height="10.88" fill="#6a2ef0" />
<rect x="1045" y="2438.98" width="25.3" height="10.88" fill="#6a2ef0" />
<rect x="1045" y="2449.87" width="9" height="10.88" fill="#6a2ef0" />
<rect x="1045" y="2460.75" width="9" height="21.76" fill="#6a2ef0" />
<rect x="1045" y="2516.97" width="9" height="10.88" fill="#6a2ef0" />
<line x1="950.6" y1="2217.7" x2="1029.3" y2="2217.7" stroke="#444" stroke-width="2.2" />
<line x1="1045" y1="2217.7" x2="1124.7" y2="2217.7" stroke="#444" stroke-width="2.2" />
<line x1="1029.3" y1="2217.7" x2="1029.3" y2="2633.8" stroke="#444" stroke-width="2.2" />
<line x1="1045" y1="2217.7" x2="1045" y2="2633.8" stroke="#444" stroke-width="2.2" />
<line x1="950.6" y1="2217.7" x2="950.6" y2="2221.7" stroke="#444" stroke-width="2" />
<line x1="989.95" y1="2217.7" x2="989.95" y2="2221.7" stroke="#444" stroke-width="2" />
<line x1="1084.85" y1="2217.7" x2="1084.85" y2="2221.7" stroke="#444" stroke-width="2" />
<line x1="1124.7" y1="2217.7" x2="1124.7" y2="2221.7" stroke="#444" stroke-width="2" />
<line x1="1025.3" y1="2287.05" x2="1029.3" y2="2287.05" stroke="#444" stroke-width="2" />
<line x1="1045" y1="2287.05" x2="1049" y2="2287.05" stroke="#444" stroke-width="2" />
<line x1="1025.3" y1="2356.4" x2="1029.3" y2="2356.4" stroke="#444" stroke-width="2" />
<line x1="1045" y1="2356.4" x2="1049" y2="2356.4" stroke="#444" stroke-width="2" />
<line x1="1025.3" y1="2425.75" x2="1029.3" y2="2425.75" stroke="#444" stroke-width="2" />
<line x1="1045" y1="2425.75" x2="1049" y2="2425.75" stroke="#444" stroke-width="2" />
<line x1="1025.3" y1="2495.1" x2="1029.3" y2="2495.1" stroke="#444" stroke-width="2" />
<line x1="1045" y1="2495.1" x2="1049" y2="2495.1" stroke="#444" stroke-width="2" />
<line x1="1025.3" y1="2564.45" x2="1029.3" y2="2564.45" stroke="#444" stroke-width="2" />
<line x1="1045" y1="2564.45" x2="1049" y2="2564.45" stroke="#444" stroke-width="2" />
<line x1="1025.3" y1="2633.8" x2="1029.3" y2="2633.8" stroke="#444" stroke-width="2" />
<line x1="1045" y1="2633.8" x2="1049" y2="2633.8" stroke="#444" stroke-width="2" />
<rect x="1239" y="2252.19" width="7.2" height="10.88" fill="#7a7af2" />
<rect x="1239" y="2319.29" width="7.2" height="10.88" fill="#7a7af2" />
<rect x="1231.7" y="2351.93" width="14.5" height="10.88" fill="#7a7af2" />
<rect x="1239" y="2373.7" width="7.2" height="10.88" fill="#7a7af2" />
<rect x="1260.7" y="2264.88" width="7.3" height="21.76" fill="#7a7af2" />
<rect x="1260.7" y="2308.41" width="5.5" height="10.88" fill="#7a7af2" />
<rect x="1260.7" y="2419.04" width="5.5" height="10.88" fill="#7a7af2" />
<rect x="1260.7" y="2440.8" width="5.5" height="10.88" fill="#7a7af2" />
<rect x="1260.7" y="2462.56" width="5.5" height="10.88" fill="#7a7af2" />
<rect x="1260.7" y="2562.31" width="5.5" height="10.88" fill="#7a7af2" />
<line x1="1166.4" y1="2217.7" x2="1246.2" y2="2217.7" stroke="#444" stroke-width="2.2" />
<line x1="1260.7" y1="2217.7" x2="1338.7" y2="2217.7" stroke="#444" stroke-width="2.2" />
<line x1="1246.2" y1="2217.7" x2="1246.2" y2="2633.8" stroke="#444" stroke-width="2.2" />
<line x1="1260.7" y1="2217.7" x2="1260.7" y2="2633.8" stroke="#444" stroke-width="2.2" />
<line x1="1166.4" y1="2217.7" x2="1166.4" y2="2221.7" stroke="#444" stroke-width="2" />
<line x1="1206.3" y1="2217.7" x2="1206.3" y2="2221.7" stroke="#444" stroke-width="2" />
<line x1="1299.7" y1="2217.7" x2="1299.7" y2="2221.7" stroke="#444" stroke-width="2" />
<line x1="1338.7" y1="2217.7" x2="1338.7" y2="2221.7" stroke="#444" stroke-width="2" />
<line x1="1242.2" y1="2287.05" x2="1246.2" y2="2287.05" stroke="#444" stroke-width="2" />
<line x1="1260.7" y1="2287.05" x2="1264.7" y2="2287.05" stroke="#444" stroke-width="2" />
<line x1="1242.2" y1="2356.4" x2="1246.2" y2="2356.4" stroke="#444" stroke-width="2" />
<line x1="1260.7" y1="2356.4" x2="1264.7" y2="2356.4" stroke="#444" stroke-width="2" />
<line x1="1242.2" y1="2425.75" x2="1246.2" y2="2425.75" stroke="#444" stroke-width="2" />
<line x1="1260.7" y1="2425.75" x2="1264.7" y2="2425.75" stroke="#444" stroke-width="2" />
<line x1="1242.2" y1="2495.1" x2="1246.2" y2="2495.1" stroke="#444" stroke-width="2" />
<line x1="1260.7" y1="2495.1" x2="1264.7" y2="2495.1" stroke="#444" stroke-width="2" />
<line x1="1242.2" y1="2564.45" x2="1246.2" y2="2564.45" stroke="#444" stroke-width="2" />
<line x1="1260.7" y1="2564.45" x2="1264.7" y2="2564.45" stroke="#444" stroke-width="2" />
<line x1="1242.2" y1="2633.8" x2="1246.2" y2="2633.8" stroke="#444" stroke-width="2" />
<line x1="1260.7" y1="2633.8" x2="1264.7" y2="2633.8" stroke="#444" stroke-width="2" />
<rect x="1454.6" y="2219.97" width="14.7" height="11.8" fill="#e9478d" />
<rect x="1459" y="2231.78" width="10.3" height="9.22" fill="#e9478d" />
<rect x="1460.9" y="2241" width="8.4" height="12.91" fill="#e9478d" />
<rect x="1466.4" y="2253.9" width="2.9" height="11.06" fill="#e9478d" />
<rect x="1435" y="2264.97" width="34.3" height="11.06" fill="#e9478d" />
<rect x="1407.4" y="2276.03" width="61.9" height="9.22" fill="#e9478d" />
<rect x="1444.3" y="2285.25" width="25" height="23.97" fill="#e9478d" />
<rect x="1438.7" y="2309.22" width="30.6" height="11.06" fill="#e9478d" />
<rect x="1448" y="2320.29" width="21.3" height="11.06" fill="#e9478d" />
<rect x="1438.7" y="2331.35" width="30.6" height="22.13" fill="#e9478d" />
<rect x="1434" y="2353.48" width="35.3" height="11.06" fill="#e9478d" />
<rect x="1454.6" y="2364.54" width="14.7" height="20.28" fill="#e9478d" />
<rect x="1462.7" y="2384.83" width="6.6" height="11.06" fill="#e9478d" />
<rect x="1462.7" y="2405.11" width="6.6" height="11.06" fill="#e9478d" />
<rect x="1464.5" y="2427.24" width="4.8" height="11.06" fill="#e9478d" />
<rect x="1462" y="2464.12" width="7.3" height="11.06" fill="#e9478d" />
<rect x="1462" y="2508.38" width="7.3" height="11.06" fill="#e9478d" />
<rect x="1464.5" y="2571.07" width="4.8" height="12.91" fill="#e9478d" />
<rect x="1485.6" y="2231.78" width="8.4" height="11.06" fill="#e9478d" />
<rect x="1485.6" y="2242.84" width="47.2" height="11.06" fill="#e9478d" />
<rect x="1485.6" y="2253.9" width="23.2" height="22.13" fill="#e9478d" />
<rect x="1485.6" y="2276.03" width="37.9" height="22.13" fill="#e9478d" />
<rect x="1485.6" y="2298.16" width="28.7" height="11.06" fill="#e9478d" />
<rect x="1485.6" y="2309.22" width="54.4" height="11.06" fill="#e9478d" />
<rect x="1485.6" y="2320.29" width="17.7" height="11.06" fill="#e9478d" />
<rect x="1485.6" y="2331.35" width="54.4" height="11.06" fill="#e9478d" />
<rect x="1485.6" y="2342.42" width="30.6" height="22.13" fill="#e9478d" />
<rect x="1485.6" y="2364.54" width="47.2" height="20.28" fill="#e9478d" />
<rect x="1485.6" y="2384.83" width="14" height="11.06" fill="#e9478d" />
<rect x="1485.6" y="2408.8" width="23.2" height="11.06" fill="#e9478d" />
<rect x="1485.6" y="2419.86" width="25" height="11.06" fill="#e9478d" />
<rect x="1485.6" y="2430.93" width="37.9" height="11.06" fill="#e9478d" />
<rect x="1485.6" y="2441.99" width="28.7" height="11.06" fill="#e9478d" />
<rect x="1485.6" y="2453.06" width="8.4" height="11.06" fill="#e9478d" />
<rect x="1485.6" y="2464.12" width="23.2" height="11.06" fill="#e9478d" />
<rect x="1485.6" y="2475.18" width="8.4" height="11.06" fill="#e9478d" />
<rect x="1485.6" y="2519.44" width="14.7" height="9.22" fill="#e9478d" />
<line x1="1383.5" y1="2217.7" x2="1469.3" y2="2217.7" stroke="#444" stroke-width="2.2" />
<line x1="1485.6" y1="2217.7" x2="1564" y2="2217.7" stroke="#444" stroke-width="2.2" />
<line x1="1469.3" y1="2217.7" x2="1469.3" y2="2633.8" stroke="#444" stroke-width="2.2" />
<line x1="1485.6" y1="2217.7" x2="1485.6" y2="2633.8" stroke="#444" stroke-width="2.2" />
<line x1="1383.5" y1="2217.7" x2="1383.5" y2="2221.7" stroke="#444" stroke-width="2" />
<line x1="1426.4" y1="2217.7" x2="1426.4" y2="2221.7" stroke="#444" stroke-width="2" />
<line x1="1524.8" y1="2217.7" x2="1524.8" y2="2221.7" stroke="#444" stroke-width="2" />
<line x1="1564" y1="2217.7" x2="1564" y2="2221.7" stroke="#444" stroke-width="2" />
<line x1="1465.3" y1="2287.05" x2="1469.3" y2="2287.05" stroke="#444" stroke-width="2" />
<line x1="1485.6" y1="2287.05" x2="1489.6" y2="2287.05" stroke="#444" stroke-width="2" />
<line x1="1465.3" y1="2356.4" x2="1469.3" y2="2356.4" stroke="#444" stroke-width="2" />
<line x1="1485.6" y1="2356.4" x2="1489.6" y2="2356.4" stroke="#444" stroke-width="2" />
<line x1="1465.3" y1="2425.75" x2="1469.3" y2="2425.75" stroke="#444" stroke-width="2" />
<line x1="1485.6" y1="2425.75" x2="1489.6" y2="2425.75" stroke="#444" stroke-width="2" />
<line x1="1465.3" y1="2495.1" x2="1469.3" y2="2495.1" stroke="#444" stroke-width="2" />
<line x1="1485.6" y1="2495.1" x2="1489.6" y2="2495.1" stroke="#444" stroke-width="2" />
<line x1="1465.3" y1="2564.45" x2="1469.3" y2="2564.45" stroke="#444" stroke-width="2" />
<line x1="1485.6" y1="2564.45" x2="1489.6" y2="2564.45" stroke="#444" stroke-width="2" />
<line x1="1465.3" y1="2633.8" x2="1469.3" y2="2633.8" stroke="#444" stroke-width="2" />
<line x1="1485.6" y1="2633.8" x2="1489.6" y2="2633.8" stroke="#444" stroke-width="2" />
<rect x="1693.2" y="2219.97" width="5.5" height="9.96" fill="#f47cb8" />
<rect x="1676.6" y="2229.93" width="22.1" height="11.06" fill="#f47cb8" />
<rect x="1691.4" y="2241" width="7.3" height="12.91" fill="#f47cb8" />
<rect x="1675.9" y="2261.28" width="22.8" height="47.94" fill="#f47cb8" />
<rect x="1667.4" y="2309.22" width="31.3" height="11.06" fill="#f47cb8" />
<rect x="1651.5" y="2320.29" width="47.2" height="11.06" fill="#f47cb8" />
<rect x="1668.5" y="2331.35" width="30.2" height="11.06" fill="#f47cb8" />
<rect x="1674.8" y="2342.42" width="23.9" height="11.06" fill="#f47cb8" />
<rect x="1676.6" y="2353.48" width="22.1" height="11.06" fill="#f47cb8" />
<rect x="1667.4" y="2364.54" width="31.3" height="11.06" fill="#f47cb8" />
<rect x="1675.9" y="2375.61" width="22.8" height="9.22" fill="#f47cb8" />
<rect x="1691.4" y="2464.12" width="7.3" height="18.44" fill="#f47cb8" />
<rect x="1691.4" y="2541.57" width="7.3" height="18.44" fill="#f47cb8" />
<rect x="1683.2" y="2560.01" width="15.5" height="12.91" fill="#f47cb8" />
<rect x="1692" y="2607.95" width="6.7" height="11.06" fill="#f47cb8" />
<rect x="1717.9" y="2219.97" width="30.6" height="9.96" fill="#f47cb8" />
<rect x="1717.9" y="2229.93" width="4.8" height="11.06" fill="#f47cb8" />
<rect x="1717.9" y="2241" width="38" height="12.91" fill="#f47cb8" />
<rect x="1717.9" y="2253.9" width="30.6" height="11.06" fill="#f47cb8" />
<rect x="1717.9" y="2264.97" width="4.8" height="11.06" fill="#f47cb8" />
<rect x="1717.9" y="2276.03" width="30.6" height="9.22" fill="#f47cb8" />
<rect x="1717.9" y="2285.25" width="39.1" height="11.06" fill="#f47cb8" />
<rect x="1717.9" y="2296.32" width="6.6" height="12.91" fill="#f47cb8" />
<rect x="1717.9" y="2342.42" width="21.4" height="11.06" fill="#f47cb8" />
<rect x="1717.9" y="2353.48" width="38" height="11.06" fill="#f47cb8" />
<rect x="1717.9" y="2364.54" width="14.1" height="11.06" fill="#f47cb8" />
<rect x="1717.9" y="2375.61" width="22.1" height="9.22" fill="#f47cb8" />
<rect x="1717.9" y="2384.83" width="6.6" height="22.13" fill="#f47cb8" />
<rect x="1717.9" y="2419.86" width="62" height="9.22" fill="#f47cb8" />
<rect x="1717.9" y="2429.08" width="15.9" height="31.35" fill="#f47cb8" />
<rect x="1717.9" y="2460.43" width="6.6" height="33.19" fill="#f47cb8" />
<rect x="1717.9" y="2517.6" width="23.1" height="11.06" fill="#f47cb8" />
<rect x="1717.9" y="2561.85" width="6.6" height="11.06" fill="#f47cb8" />
<line x1="1620.5" y1="2217.7" x2="1698.7" y2="2217.7" stroke="#444" stroke-width="2.2" />
<line x1="1717.9" y1="2217.7" x2="1797.6" y2="2217.7" stroke="#444" stroke-width="2.2" />
<line x1="1698.7" y1="2217.7" x2="1698.7" y2="2633.8" stroke="#444" stroke-width="2.2" />
<line x1="1717.9" y1="2217.7" x2="1717.9" y2="2633.8" stroke="#444" stroke-width="2.2" />
<line x1="1620.5" y1="2217.7" x2="1620.5" y2="2221.7" stroke="#444" stroke-width="2" />
<line x1="1659.6" y1="2217.7" x2="1659.6" y2="2221.7" stroke="#444" stroke-width="2" />
<line x1="1757.75" y1="2217.7" x2="1757.75" y2="2221.7" stroke="#444" stroke-width="2" />
<line x1="1797.6" y1="2217.7" x2="1797.6" y2="2221.7" stroke="#444" stroke-width="2" />
<line x1="1694.7" y1="2287.05" x2="1698.7" y2="2287.05" stroke="#444" stroke-width="2" />
<line x1="1717.9" y1="2287.05" x2="1721.9" y2="2287.05" stroke="#444" stroke-width="2" />
<line x1="1694.7" y1="2356.4" x2="1698.7" y2="2356.4" stroke="#444" stroke-width="2" />
<line x1="1717.9" y1="2356.4" x2="1721.9" y2="2356.4" stroke="#444" stroke-width="2" />
<line x1="1694.7" y1="2425.75" x2="1698.7" y2="2425.75" stroke="#444" stroke-width="2" />
<line x1="1717.9" y1="2425.75" x2="1721.9" y2="2425.75" stroke="#444" stroke-width="2" />
<line x1="1694.7" y1="2495.1" x2="1698.7" y2="2495.1" stroke="#444" stroke-width="2" />
<line x1="1717.9" y1="2495.1" x2="1721.9" y2="2495.1" stroke="#444" stroke-width="2" />
<line x1="1694.7" y1="2564.45" x2="1698.7" y2="2564.45" stroke="#444" stroke-width="2" />
<line x1="1717.9" y1="2564.45" x2="1721.9" y2="2564.45" stroke="#444" stroke-width="2" />
<line x1="1694.7" y1="2633.8" x2="1698.7" y2="2633.8" stroke="#444" stroke-width="2" />
<line x1="1717.9" y1="2633.8" x2="1721.9" y2="2633.8" stroke="#444" stroke-width="2" />
<text x="953" y="2201.2" font-size="25" text-anchor="middle">10</text>
<text x="992.5" y="2201.2" font-size="25" text-anchor="middle">5</text>
<text x="1038.2" y="2201.2" font-size="25" text-anchor="middle">0</text>
<text x="1082.4" y="2201.2" font-size="25" text-anchor="middle">5</text>
<text x="1125.5" y="2201.2" font-size="25" text-anchor="middle">10</text>
<text x="1166.8" y="2201.2" font-size="25" text-anchor="middle">10</text>
<text x="1208" y="2201.2" font-size="25" text-anchor="middle">5</text>
<text x="1253" y="2201.2" font-size="25" text-anchor="middle">0</text>
<text x="1298" y="2201.2" font-size="25" text-anchor="middle">5</text>
<text x="1341" y="2201.2" font-size="25" text-anchor="middle">10</text>
<text x="1388" y="2201.2" font-size="25" text-anchor="middle">20</text>
<text x="1431" y="2201.2" font-size="25" text-anchor="middle">10</text>
<text x="1476" y="2201.2" font-size="25" text-anchor="middle">0</text>
<text x="1517.2" y="2201.2" font-size="25" text-anchor="middle">5</text>
<text x="1560.4" y="2201.2" font-size="25" text-anchor="middle">10</text>
<text x="1617.6" y="2201.2" font-size="25" text-anchor="middle">10</text>
<text x="1660" y="2201.2" font-size="25" text-anchor="middle">5</text>
<text x="1708" y="2201.2" font-size="25" text-anchor="middle">0</text>
<text x="1749.6" y="2201.2" font-size="25" text-anchor="middle">5</text>
<text x="1791.7" y="2201.2" font-size="25" text-anchor="middle">10</text>
<text x="1833.3" y="2202" font-size="28.5" textLength="129" lengthAdjust="spacingAndGlyphs"># neurons</text>
<text x="863.6" y="2237.7" font-size="28.5">aPO</text>
<text x="863.6" y="2362.8" font-size="28.5">pPO</text>
<text x="863.6" y="2455.3" font-size="28.5">PT</text>
<text transform="translate(988.5 2149) rotate(-33)" font-size="29.5">OXT</text>
<text transform="translate(1068.5 2146) rotate(-33)" font-size="29.5">non-OXT</text>
<text transform="translate(1202 2150.5) rotate(-33)" font-size="29.5">OXT</text>
<text transform="translate(1288.5 2148.5) rotate(-33)" font-size="29.5">non-OXT</text>
<text transform="translate(1427.5 2148) rotate(-33)" font-size="29.5">OXT</text>
<text transform="translate(1513.5 2145.5) rotate(-33)" font-size="29.5">non-OXT</text>
<text transform="translate(1648.5 2147) rotate(-33)" font-size="29.5">OXT</text>
<text transform="translate(1731.5 2146) rotate(-33)" font-size="29.5">non-OXT</text>
<g transform="translate(1111.5 2257.3) rotate(90)" fill="#6a22e6">
<text x="0" y="0" font-size="28.7">Stim &gt; Motor</text>
<text x="167.6" y="10" font-size="15.5">stim</text>
<text x="201" y="0" font-size="28.7">(DMSO)</text>
</g>
<g transform="translate(1317.5 2257.6) rotate(90)" fill="#8f8ff0">
<text x="0" y="0" font-size="28.7">Motor</text>
<text x="76.2" y="10" font-size="15.5">stim</text>
<text x="114.4" y="0" font-size="28.7">&gt; Stim (DMSO)</text>
</g>
<g transform="translate(1559 2257.6) rotate(90)" fill="#c21c6c">
<text x="0" y="0" font-size="28.7">Stim &gt; Motor</text>
<text x="167.6" y="10" font-size="15.5">stim</text>
<text x="202" y="0" font-size="28.7">(Optovin)</text>
</g>
<g transform="translate(1793 2255.7) rotate(90)" fill="#f07cb6">
<text x="0" y="0" font-size="28.7">Motor</text>
<text x="76.2" y="10" font-size="15.5">stim</text>
<text x="118" y="0" font-size="28.7">&gt; Stim (Optovin)</text>
</g>
</g>
</svg></body></html>
